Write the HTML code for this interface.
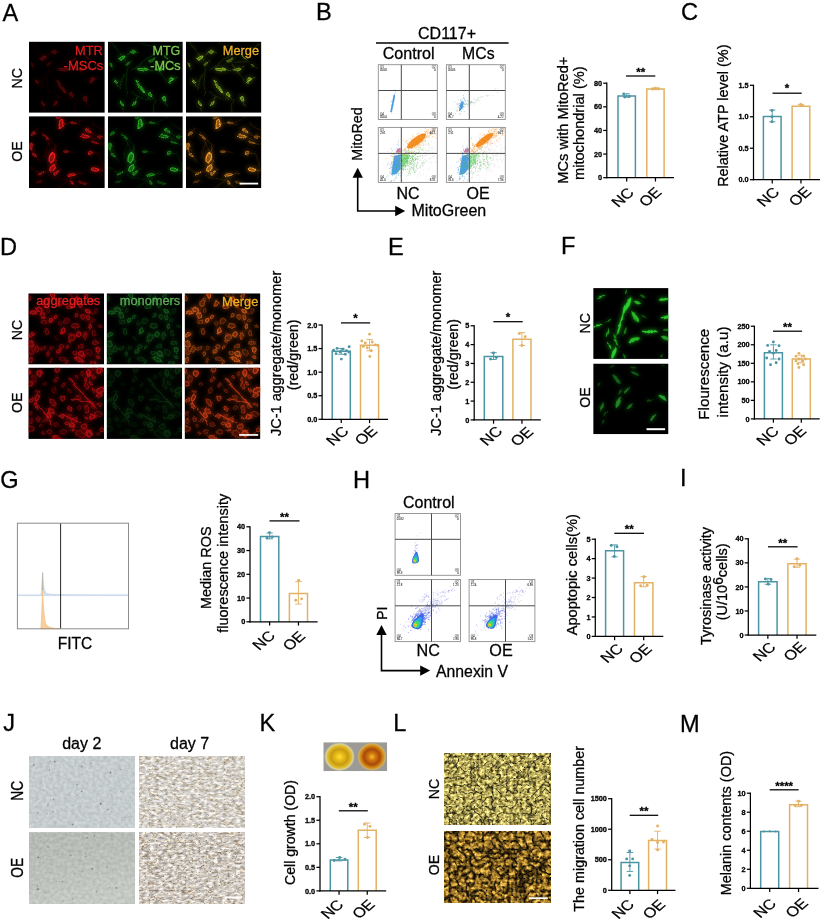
<!DOCTYPE html>
<html lang="en"><head><meta charset="utf-8"><title>Figure</title>
<style>html,body{margin:0;padding:0;background:#fff;overflow:hidden}svg{display:block}text{font-family:"Liberation Sans",Arial,sans-serif;stroke:#000;stroke-width:.28px}</style></head>
<body>
<svg width="825" height="924" viewBox="0 0 825 924" font-family="'Liberation Sans', Arial, sans-serif">
<defs>
<filter id="b0" x="-20%" y="-20%" width="140%" height="140%"><feGaussianBlur stdDeviation="0.35"/></filter>
<filter id="b1" x="-20%" y="-20%" width="140%" height="140%"><feGaussianBlur stdDeviation="0.6"/></filter>
<filter id="b2" x="-20%" y="-20%" width="140%" height="140%"><feGaussianBlur stdDeviation="1.1"/></filter>
</defs>
<rect width="825" height="924" fill="#fff"/>
<defs><filter id="cf0" x="0" y="0" width="100%" height="100%" filterUnits="userSpaceOnUse" primitiveUnits="userSpaceOnUse"><feTurbulence type="fractalNoise" baseFrequency="0.05" numOctaves="2" seed="4" result="t"/><feDisplacementMap in="SourceGraphic" in2="t" scale="9" xChannelSelector="R" yChannelSelector="G"/><feGaussianBlur stdDeviation="0.5"/></filter><filter id="cf1" x="0" y="0" width="100%" height="100%" filterUnits="userSpaceOnUse" primitiveUnits="userSpaceOnUse"><feTurbulence type="fractalNoise" baseFrequency="0.05" numOctaves="2" seed="4" result="t"/><feDisplacementMap in="SourceGraphic" in2="t" scale="9" xChannelSelector="R" yChannelSelector="G"/><feGaussianBlur stdDeviation="1.0"/></filter><filter id="cf2" x="0" y="0" width="100%" height="100%" filterUnits="userSpaceOnUse" primitiveUnits="userSpaceOnUse"><feTurbulence type="fractalNoise" baseFrequency="0.05" numOctaves="2" seed="4" result="t"/><feDisplacementMap in="SourceGraphic" in2="t" scale="9" xChannelSelector="R" yChannelSelector="G"/><feMorphology operator="dilate" radius="0.5"/><feGaussianBlur stdDeviation="2.0"/></filter><filter id="cg0" x="0" y="0" width="100%" height="100%" filterUnits="userSpaceOnUse" primitiveUnits="userSpaceOnUse"><feTurbulence type="fractalNoise" baseFrequency="0.05" numOctaves="2" seed="9" result="t"/><feDisplacementMap in="SourceGraphic" in2="t" scale="7" xChannelSelector="R" yChannelSelector="G"/><feGaussianBlur stdDeviation="0.5"/></filter><filter id="cg1" x="0" y="0" width="100%" height="100%" filterUnits="userSpaceOnUse" primitiveUnits="userSpaceOnUse"><feTurbulence type="fractalNoise" baseFrequency="0.05" numOctaves="2" seed="9" result="t"/><feDisplacementMap in="SourceGraphic" in2="t" scale="7" xChannelSelector="R" yChannelSelector="G"/><feGaussianBlur stdDeviation="1.0"/></filter><filter id="cg2" x="0" y="0" width="100%" height="100%" filterUnits="userSpaceOnUse" primitiveUnits="userSpaceOnUse"><feTurbulence type="fractalNoise" baseFrequency="0.05" numOctaves="2" seed="9" result="t"/><feDisplacementMap in="SourceGraphic" in2="t" scale="7" xChannelSelector="R" yChannelSelector="G"/><feMorphology operator="dilate" radius="0.5"/><feGaussianBlur stdDeviation="2.0"/></filter></defs>
<defs><g id="a1"><ellipse transform="translate(14.0,15.5) rotate(-30)" rx="3.5" ry="1.2" fill="currentColor" fill-opacity="0.27" stroke="currentColor" stroke-opacity="0.90" stroke-width="0.7"/><path transform="translate(18.2,13.1) rotate(-34)" d="M-4.2,0 H4.2" stroke="currentColor" stroke-opacity="0.41" stroke-width="0.5" stroke-linecap="round"/><ellipse transform="translate(24.6,10.7) rotate(20)" rx="2.1" ry="0.9" fill="currentColor" fill-opacity="0.21" stroke="currentColor" stroke-opacity="0.70" stroke-width="0.7"/><path transform="translate(27.4,11.7) rotate(13)" d="M-2.5,0 H2.5" stroke="currentColor" stroke-opacity="0.32" stroke-width="0.5" stroke-linecap="round"/><ellipse transform="translate(35.3,27.2) rotate(10)" rx="4.9" ry="1.1" fill="currentColor" fill-opacity="0.27" stroke="currentColor" stroke-opacity="0.90" stroke-width="0.7"/><path transform="translate(42.1,28.3) rotate(13)" d="M-5.9,0 H5.9" stroke="currentColor" stroke-opacity="0.41" stroke-width="0.5" stroke-linecap="round"/><ellipse transform="translate(50.8,28.1) rotate(-15)" rx="3.1" ry="1.2" fill="currentColor" fill-opacity="0.24" stroke="currentColor" stroke-opacity="0.80" stroke-width="0.7"/><path transform="translate(55.1,27.0) rotate(-24)" d="M-3.8,0 H3.8" stroke="currentColor" stroke-opacity="0.36" stroke-width="0.5" stroke-linecap="round"/><ellipse transform="translate(8.1,42.7) rotate(80)" rx="2.1" ry="1.5" fill="currentColor" fill-opacity="0.26" stroke="currentColor" stroke-opacity="0.85" stroke-width="0.8"/><path transform="translate(8.7,45.6) rotate(81)" d="M-2.5,0 H2.5" stroke="currentColor" stroke-opacity="0.38" stroke-width="0.5" stroke-linecap="round"/><ellipse transform="translate(32.4,42.7) rotate(55)" rx="7.7" ry="0.7" fill="currentColor" fill-opacity="0.24" stroke="currentColor" stroke-opacity="0.80" stroke-width="0.7"/><path transform="translate(38.6,51.5) rotate(52)" d="M-9.2,0 H9.2" stroke="currentColor" stroke-opacity="0.36" stroke-width="0.5" stroke-linecap="round"/><ellipse transform="translate(64.4,38.8) rotate(-10)" rx="3.1" ry="1.5" fill="currentColor" fill-opacity="0.30" stroke="currentColor" stroke-opacity="1.00" stroke-width="0.8"/><path transform="translate(68.7,38.0) rotate(-19)" d="M-3.8,0 H3.8" stroke="currentColor" stroke-opacity="0.45" stroke-width="0.5" stroke-linecap="round"/><ellipse transform="translate(43.1,51.4) rotate(60)" rx="3.1" ry="1.1" fill="currentColor" fill-opacity="0.24" stroke="currentColor" stroke-opacity="0.80" stroke-width="0.7"/><path transform="translate(45.3,55.2) rotate(60)" d="M-3.8,0 H3.8" stroke="currentColor" stroke-opacity="0.36" stroke-width="0.5" stroke-linecap="round"/><ellipse transform="translate(56.6,57.2) rotate(80)" rx="2.8" ry="1.1" fill="currentColor" fill-opacity="0.26" stroke="currentColor" stroke-opacity="0.85" stroke-width="0.7"/><path transform="translate(57.3,61.1) rotate(71)" d="M-3.4,0 H3.4" stroke="currentColor" stroke-opacity="0.38" stroke-width="0.5" stroke-linecap="round"/><ellipse transform="translate(13.0,63.0) rotate(70)" rx="3.1" ry="1.1" fill="currentColor" fill-opacity="0.24" stroke="currentColor" stroke-opacity="0.80" stroke-width="0.7"/><path transform="translate(14.5,67.2) rotate(69)" d="M-3.8,0 H3.8" stroke="currentColor" stroke-opacity="0.36" stroke-width="0.5" stroke-linecap="round"/><ellipse transform="translate(26.6,61.1) rotate(-70)" rx="3.1" ry="1.1" fill="currentColor" fill-opacity="0.24" stroke="currentColor" stroke-opacity="0.80" stroke-width="0.7"/><path transform="translate(28.1,56.9) rotate(-79)" d="M-3.8,0 H3.8" stroke="currentColor" stroke-opacity="0.36" stroke-width="0.5" stroke-linecap="round"/><ellipse transform="translate(58.6,15.5) rotate(40)" rx="2.4" ry="0.9" fill="currentColor" fill-opacity="0.21" stroke="currentColor" stroke-opacity="0.70" stroke-width="0.7"/><path transform="translate(61.2,17.7) rotate(32)" d="M-2.9,0 H2.9" stroke="currentColor" stroke-opacity="0.32" stroke-width="0.5" stroke-linecap="round"/><ellipse transform="translate(19.8,22.3) rotate(-40)" rx="2.4" ry="0.8" fill="currentColor" fill-opacity="0.15" stroke="currentColor" stroke-opacity="0.50" stroke-width="0.7"/><path transform="translate(22.4,20.1) rotate(-42)" d="M-2.9,0 H2.9" stroke="currentColor" stroke-opacity="0.23" stroke-width="0.5" stroke-linecap="round"/><ellipse transform="translate(68.3,22.3) rotate(30)" rx="2.1" ry="0.9" fill="currentColor" fill-opacity="0.15" stroke="currentColor" stroke-opacity="0.50" stroke-width="0.7"/><path transform="translate(70.8,23.8) rotate(37)" d="M-2.5,0 H2.5" stroke="currentColor" stroke-opacity="0.23" stroke-width="0.5" stroke-linecap="round"/><ellipse transform="translate(2.3,24.2) rotate(70)" rx="2.1" ry="0.6" fill="currentColor" fill-opacity="0.15" stroke="currentColor" stroke-opacity="0.50" stroke-width="0.7"/><path transform="translate(3.3,27.0) rotate(62)" d="M-2.5,0 H2.5" stroke="currentColor" stroke-opacity="0.23" stroke-width="0.5" stroke-linecap="round"/><ellipse transform="translate(43.1,18.4) rotate(-20)" rx="2.8" ry="0.6" fill="currentColor" fill-opacity="0.12" stroke="currentColor" stroke-opacity="0.40" stroke-width="0.7"/><path transform="translate(46.7,17.1) rotate(-26)" d="M-3.4,0 H3.4" stroke="currentColor" stroke-opacity="0.18" stroke-width="0.5" stroke-linecap="round"/><path transform="translate(47.1,67.3) rotate(104)" d="M-9.0,0 H9.0" stroke="currentColor" stroke-opacity="0.25" stroke-width="0.5" stroke-linecap="round"/><path transform="translate(73.2,3.3) rotate(155)" d="M-7.9,0 H7.9" stroke="currentColor" stroke-opacity="0.25" stroke-width="0.5" stroke-linecap="round"/><path transform="translate(10.8,8.4) rotate(56)" d="M-13.2,0 H13.2" stroke="currentColor" stroke-opacity="0.25" stroke-width="0.5" stroke-linecap="round"/><path transform="translate(13.6,41.3) rotate(115)" d="M-8.7,0 H8.7" stroke="currentColor" stroke-opacity="0.25" stroke-width="0.5" stroke-linecap="round"/><path transform="translate(41.1,4.5) rotate(11)" d="M-7.1,0 H7.1" stroke="currentColor" stroke-opacity="0.25" stroke-width="0.5" stroke-linecap="round"/><path transform="translate(51.0,30.4) rotate(57)" d="M-10.9,0 H10.9" stroke="currentColor" stroke-opacity="0.25" stroke-width="0.5" stroke-linecap="round"/><path transform="translate(34.0,21.3) rotate(143)" d="M-12.0,0 H12.0" stroke="currentColor" stroke-opacity="0.25" stroke-width="0.5" stroke-linecap="round"/><path transform="translate(18.3,40.8) rotate(95)" d="M-13.8,0 H13.8" stroke="currentColor" stroke-opacity="0.25" stroke-width="0.5" stroke-linecap="round"/><path transform="translate(54.7,20.4) rotate(176)" d="M-6.2,0 H6.2" stroke="currentColor" stroke-opacity="0.25" stroke-width="0.5" stroke-linecap="round"/><path transform="translate(31.4,53.8) rotate(27)" d="M-9.9,0 H9.9" stroke="currentColor" stroke-opacity="0.25" stroke-width="0.5" stroke-linecap="round"/></g></defs>
<defs><g id="a2"><ellipse transform="translate(31.6,9.3) rotate(-70)" rx="4.1" ry="2.0" fill="currentColor" fill-opacity="0.30" stroke="currentColor" stroke-opacity="1.00" stroke-width="1.1"/><path transform="translate(33.6,3.9) rotate(-79)" d="M-5.4,0 H5.4" stroke="currentColor" stroke-opacity="0.40" stroke-width="0.5" stroke-linecap="round"/><ellipse transform="translate(59.7,14.2) rotate(20)" rx="3.4" ry="1.6" fill="currentColor" fill-opacity="0.24" stroke="currentColor" stroke-opacity="0.80" stroke-width="0.9"/><path transform="translate(64.2,15.8) rotate(23)" d="M-4.4,0 H4.4" stroke="currentColor" stroke-opacity="0.32" stroke-width="0.5" stroke-linecap="round"/><ellipse transform="translate(55.9,20.4) rotate(5)" rx="4.5" ry="1.5" fill="currentColor" fill-opacity="0.30" stroke="currentColor" stroke-opacity="1.00" stroke-width="0.8"/><path transform="translate(62.1,20.9) rotate(10)" d="M-5.9,0 H5.9" stroke="currentColor" stroke-opacity="0.40" stroke-width="0.5" stroke-linecap="round"/><ellipse transform="translate(42.3,7.4) rotate(0)" rx="3.0" ry="0.8" fill="currentColor" fill-opacity="0.18" stroke="currentColor" stroke-opacity="0.60" stroke-width="0.7"/><path transform="translate(46.5,7.4) rotate(1)" d="M-3.9,0 H3.9" stroke="currentColor" stroke-opacity="0.24" stroke-width="0.5" stroke-linecap="round"/><ellipse transform="translate(4.5,18.0) rotate(-50)" rx="3.0" ry="1.0" fill="currentColor" fill-opacity="0.21" stroke="currentColor" stroke-opacity="0.70" stroke-width="0.7"/><path transform="translate(7.2,14.8) rotate(-42)" d="M-3.9,0 H3.9" stroke="currentColor" stroke-opacity="0.28" stroke-width="0.5" stroke-linecap="round"/><ellipse transform="translate(16.1,20.0) rotate(40)" rx="4.5" ry="0.7" fill="currentColor" fill-opacity="0.18" stroke="currentColor" stroke-opacity="0.60" stroke-width="0.7"/><path transform="translate(20.9,24.0) rotate(36)" d="M-5.9,0 H5.9" stroke="currentColor" stroke-opacity="0.24" stroke-width="0.5" stroke-linecap="round"/><ellipse transform="translate(67.5,25.8) rotate(10)" rx="3.8" ry="1.0" fill="currentColor" fill-opacity="0.18" stroke="currentColor" stroke-opacity="0.60" stroke-width="0.7"/><path transform="translate(72.7,26.7) rotate(14)" d="M-4.9,0 H4.9" stroke="currentColor" stroke-opacity="0.24" stroke-width="0.5" stroke-linecap="round"/><ellipse transform="translate(1.9,30.6) rotate(80)" rx="3.0" ry="1.0" fill="currentColor" fill-opacity="0.24" stroke="currentColor" stroke-opacity="0.80" stroke-width="0.7"/><path transform="translate(2.7,34.8) rotate(82)" d="M-3.9,0 H3.9" stroke="currentColor" stroke-opacity="0.32" stroke-width="0.5" stroke-linecap="round"/><ellipse transform="translate(5.4,40.9) rotate(60)" rx="3.0" ry="1.3" fill="currentColor" fill-opacity="0.24" stroke="currentColor" stroke-opacity="0.80" stroke-width="0.7"/><path transform="translate(7.5,44.6) rotate(62)" d="M-3.9,0 H3.9" stroke="currentColor" stroke-opacity="0.32" stroke-width="0.5" stroke-linecap="round"/><ellipse transform="translate(22.9,40.9) rotate(-70)" rx="4.9" ry="2.3" fill="currentColor" fill-opacity="0.30" stroke="currentColor" stroke-opacity="1.00" stroke-width="1.3"/><path transform="translate(25.2,34.5) rotate(-71)" d="M-6.3,0 H6.3" stroke="currentColor" stroke-opacity="0.40" stroke-width="0.5" stroke-linecap="round"/><ellipse transform="translate(61.7,37.4) rotate(5)" rx="3.4" ry="1.3" fill="currentColor" fill-opacity="0.24" stroke="currentColor" stroke-opacity="0.80" stroke-width="0.7"/><path transform="translate(66.4,37.8) rotate(12)" d="M-4.4,0 H4.4" stroke="currentColor" stroke-opacity="0.32" stroke-width="0.5" stroke-linecap="round"/><ellipse transform="translate(37.4,35.5) rotate(0)" rx="3.0" ry="0.8" fill="currentColor" fill-opacity="0.18" stroke="currentColor" stroke-opacity="0.60" stroke-width="0.7"/><path transform="translate(41.6,35.5) rotate(9)" d="M-3.9,0 H3.9" stroke="currentColor" stroke-opacity="0.24" stroke-width="0.5" stroke-linecap="round"/><ellipse transform="translate(22.5,51.4) rotate(-60)" rx="4.1" ry="1.8" fill="currentColor" fill-opacity="0.30" stroke="currentColor" stroke-opacity="1.00" stroke-width="1.0"/><path transform="translate(25.4,46.4) rotate(-61)" d="M-5.4,0 H5.4" stroke="currentColor" stroke-opacity="0.40" stroke-width="0.5" stroke-linecap="round"/><ellipse transform="translate(65.6,53.3) rotate(10)" rx="3.4" ry="1.6" fill="currentColor" fill-opacity="0.30" stroke="currentColor" stroke-opacity="1.00" stroke-width="0.9"/><path transform="translate(70.2,54.2) rotate(13)" d="M-4.4,0 H4.4" stroke="currentColor" stroke-opacity="0.40" stroke-width="0.5" stroke-linecap="round"/><ellipse transform="translate(11.2,57.8) rotate(-20)" rx="3.0" ry="1.0" fill="currentColor" fill-opacity="0.21" stroke="currentColor" stroke-opacity="0.70" stroke-width="0.7"/><path transform="translate(15.2,56.4) rotate(-29)" d="M-3.9,0 H3.9" stroke="currentColor" stroke-opacity="0.28" stroke-width="0.5" stroke-linecap="round"/><ellipse transform="translate(43.3,59.2) rotate(-5)" rx="4.5" ry="1.5" fill="currentColor" fill-opacity="0.30" stroke="currentColor" stroke-opacity="1.00" stroke-width="0.8"/><path transform="translate(49.5,58.6) rotate(-1)" d="M-5.9,0 H5.9" stroke="currentColor" stroke-opacity="0.40" stroke-width="0.5" stroke-linecap="round"/><ellipse transform="translate(43.3,67.9) rotate(50)" rx="2.6" ry="1.1" fill="currentColor" fill-opacity="0.24" stroke="currentColor" stroke-opacity="0.80" stroke-width="0.7"/><path transform="translate(45.6,70.7) rotate(53)" d="M-3.4,0 H3.4" stroke="currentColor" stroke-opacity="0.32" stroke-width="0.5" stroke-linecap="round"/><ellipse transform="translate(28.7,3.5) rotate(-10)" rx="2.6" ry="1.0" fill="currentColor" fill-opacity="0.18" stroke="currentColor" stroke-opacity="0.60" stroke-width="0.7"/><path transform="translate(32.3,2.9) rotate(-0)" d="M-3.4,0 H3.4" stroke="currentColor" stroke-opacity="0.24" stroke-width="0.5" stroke-linecap="round"/><ellipse transform="translate(72.3,19.0) rotate(20)" rx="2.2" ry="1.0" fill="currentColor" fill-opacity="0.18" stroke="currentColor" stroke-opacity="0.60" stroke-width="0.7"/><path transform="translate(75.3,20.1) rotate(26)" d="M-2.9,0 H2.9" stroke="currentColor" stroke-opacity="0.24" stroke-width="0.5" stroke-linecap="round"/><ellipse transform="translate(26.8,54.9) rotate(-50)" rx="2.6" ry="1.3" fill="currentColor" fill-opacity="0.27" stroke="currentColor" stroke-opacity="0.90" stroke-width="0.7"/><path transform="translate(29.1,52.1) rotate(-54)" d="M-3.4,0 H3.4" stroke="currentColor" stroke-opacity="0.36" stroke-width="0.5" stroke-linecap="round"/><ellipse transform="translate(52.9,67.5) rotate(0)" rx="3.0" ry="0.7" fill="currentColor" fill-opacity="0.12" stroke="currentColor" stroke-opacity="0.40" stroke-width="0.7"/><path transform="translate(57.1,67.5) rotate(-2)" d="M-3.9,0 H3.9" stroke="currentColor" stroke-opacity="0.16" stroke-width="0.5" stroke-linecap="round"/><ellipse transform="translate(9.3,66.5) rotate(0)" rx="3.0" ry="0.7" fill="currentColor" fill-opacity="0.09" stroke="currentColor" stroke-opacity="0.30" stroke-width="0.7"/><path transform="translate(13.5,66.5) rotate(3)" d="M-3.9,0 H3.9" stroke="currentColor" stroke-opacity="0.12" stroke-width="0.5" stroke-linecap="round"/><path transform="translate(1.7,32.8) rotate(30)" d="M-6.5,0 H6.5" stroke="currentColor" stroke-opacity="0.22" stroke-width="0.5" stroke-linecap="round"/><path transform="translate(4.4,54.5) rotate(23)" d="M-8.1,0 H8.1" stroke="currentColor" stroke-opacity="0.22" stroke-width="0.5" stroke-linecap="round"/><path transform="translate(29.3,61.9) rotate(15)" d="M-10.6,0 H10.6" stroke="currentColor" stroke-opacity="0.22" stroke-width="0.5" stroke-linecap="round"/><path transform="translate(41.2,62.7) rotate(147)" d="M-15.8,0 H15.8" stroke="currentColor" stroke-opacity="0.22" stroke-width="0.5" stroke-linecap="round"/><path transform="translate(20.9,29.5) rotate(65)" d="M-16.1,0 H16.1" stroke="currentColor" stroke-opacity="0.22" stroke-width="0.5" stroke-linecap="round"/><path transform="translate(71.8,10.7) rotate(32)" d="M-7.9,0 H7.9" stroke="currentColor" stroke-opacity="0.22" stroke-width="0.5" stroke-linecap="round"/><path transform="translate(17.5,34.4) rotate(106)" d="M-8.3,0 H8.3" stroke="currentColor" stroke-opacity="0.22" stroke-width="0.5" stroke-linecap="round"/><path transform="translate(0.3,29.7) rotate(66)" d="M-12.1,0 H12.1" stroke="currentColor" stroke-opacity="0.22" stroke-width="0.5" stroke-linecap="round"/><path transform="translate(71.5,49.0) rotate(93)" d="M-12.7,0 H12.7" stroke="currentColor" stroke-opacity="0.22" stroke-width="0.5" stroke-linecap="round"/><path transform="translate(50.7,3.8) rotate(162)" d="M-14.7,0 H14.7" stroke="currentColor" stroke-opacity="0.22" stroke-width="0.5" stroke-linecap="round"/></g></defs>
<svg x="29.00" y="41.60" width="75.80" height="71.20" viewBox="0 0 75.80 71.20">
<rect width="75.80" height="71.20" fill="#000"/>
<use href="#a1" color="#e01818" opacity="0.20" filter="url(#cf2)"/>
<use href="#a1" color="#e01818" opacity="0.50" filter="url(#cf0)"/>
</svg>
<svg x="107.90" y="41.60" width="74.90" height="71.20" viewBox="0 0 74.90 71.20">
<rect width="74.90" height="71.20" fill="#000"/>
<use href="#a1" color="#35d82a" opacity="0.40" filter="url(#cf2)"/>
<use href="#a1" color="#35d82a" opacity="1.00" filter="url(#cf0)"/>
</svg>
<svg x="185.90" y="41.60" width="75.50" height="71.20" viewBox="0 0 75.50 71.20">
<rect width="75.50" height="71.20" fill="#000"/>
<use href="#a1" color="#a8dc30" opacity="0.40" filter="url(#cf2)"/>
<use href="#a1" color="#a8dc30" opacity="1.00" filter="url(#cf0)"/>
</svg>
<svg x="29.00" y="116.20" width="75.80" height="71.80" viewBox="0 0 75.80 71.80">
<rect width="75.80" height="71.80" fill="#000"/>
<use href="#a2" color="#f41c1c" opacity="0.40" filter="url(#cf2)"/>
<use href="#a2" color="#f41c1c" opacity="1.00" filter="url(#cf0)"/>
</svg>
<svg x="107.90" y="116.20" width="74.90" height="71.80" viewBox="0 0 74.90 71.80">
<rect width="74.90" height="71.80" fill="#000"/>
<use href="#a2" color="#2fca2c" opacity="0.34" filter="url(#cf2)"/>
<use href="#a2" color="#2fca2c" opacity="0.85" filter="url(#cf0)"/>
</svg>
<svg x="185.90" y="116.20" width="75.50" height="71.80" viewBox="0 0 75.50 71.80">
<rect width="75.50" height="71.80" fill="#000"/>
<use href="#a2" color="#f49a28" opacity="0.40" filter="url(#cf2)"/>
<use href="#a2" color="#f49a28" opacity="1.00" filter="url(#cf0)"/>
</svg>
<text x="75.00" y="54.60" font-size="12.80" fill="#e01c1c" style="stroke:#e01c1c">MTR</text>
<text x="63.60" y="70.20" font-size="13.00" fill="#e01c1c" style="stroke:#e01c1c">-MSCs</text>
<text x="152.40" y="54.60" font-size="12.60" fill="#7ec850" style="stroke:#7ec850">MTG</text>
<text x="150.30" y="70.20" font-size="12.70" fill="#7ec850" style="stroke:#7ec850">-MCs</text>
<text x="222.80" y="55.40" font-size="12.80" fill="#f0b428" style="stroke:#f0b428">Merge</text>
<rect x="239.60" y="182.70" width="18.60" height="1.80" fill="#fff" stroke="none" stroke-width="1.0"/>
<defs><g id="d1"><ellipse transform="translate(18.5,38.6) rotate(85)" rx="2.5" ry="1.8" fill="currentColor" fill-opacity="0.14" stroke="currentColor" stroke-opacity="0.46" stroke-width="1.0"/><ellipse transform="translate(28.2,42.7) rotate(22)" rx="1.8" ry="1.2" fill="currentColor" fill-opacity="0.09" stroke="currentColor" stroke-opacity="0.30" stroke-width="0.7"/><path transform="translate(28.2,42.7) rotate(22)" d="M-4.0,0 H4.0" stroke="currentColor" stroke-opacity="0.12" stroke-width="0.8" stroke-linecap="round"/><ellipse transform="translate(47.0,5.5) rotate(90)" rx="3.0" ry="1.9" fill="currentColor" fill-opacity="0.27" stroke="currentColor" stroke-opacity="0.88" stroke-width="1.1"/><path transform="translate(47.0,5.5) rotate(90)" d="M-6.7,0 H6.7" stroke="currentColor" stroke-opacity="0.35" stroke-width="0.8" stroke-linecap="round"/><ellipse transform="translate(2.0,58.8) rotate(106)" rx="2.3" ry="1.8" fill="currentColor" fill-opacity="0.15" stroke="currentColor" stroke-opacity="0.49" stroke-width="1.0"/><path transform="translate(2.0,58.8) rotate(106)" d="M-5.0,0 H5.0" stroke="currentColor" stroke-opacity="0.20" stroke-width="0.8" stroke-linecap="round"/><ellipse transform="translate(20.1,17.2) rotate(100)" rx="2.2" ry="1.4" fill="currentColor" fill-opacity="0.12" stroke="currentColor" stroke-opacity="0.41" stroke-width="0.8"/><ellipse transform="translate(74.2,33.4) rotate(67)" rx="1.9" ry="1.2" fill="currentColor" fill-opacity="0.16" stroke="currentColor" stroke-opacity="0.53" stroke-width="0.7"/><ellipse transform="translate(62.5,33.9) rotate(112)" rx="2.3" ry="1.9" fill="currentColor" fill-opacity="0.23" stroke="currentColor" stroke-opacity="0.77" stroke-width="1.1"/><path transform="translate(62.5,33.9) rotate(112)" d="M-5.1,0 H5.1" stroke="currentColor" stroke-opacity="0.31" stroke-width="0.8" stroke-linecap="round"/><ellipse transform="translate(47.7,60.9) rotate(76)" rx="2.5" ry="2.0" fill="currentColor" fill-opacity="0.16" stroke="currentColor" stroke-opacity="0.52" stroke-width="1.1"/><ellipse transform="translate(39.5,52.1) rotate(125)" rx="2.1" ry="1.6" fill="currentColor" fill-opacity="0.17" stroke="currentColor" stroke-opacity="0.58" stroke-width="0.9"/><path transform="translate(39.5,52.1) rotate(125)" d="M-4.7,0 H4.7" stroke="currentColor" stroke-opacity="0.23" stroke-width="0.8" stroke-linecap="round"/><ellipse transform="translate(56.7,41.8) rotate(169)" rx="2.4" ry="2.1" fill="currentColor" fill-opacity="0.17" stroke="currentColor" stroke-opacity="0.55" stroke-width="1.2"/><path transform="translate(56.7,41.8) rotate(169)" d="M-5.3,0 H5.3" stroke="currentColor" stroke-opacity="0.22" stroke-width="0.8" stroke-linecap="round"/><ellipse transform="translate(23.1,3.1) rotate(84)" rx="2.9" ry="2.0" fill="currentColor" fill-opacity="0.25" stroke="currentColor" stroke-opacity="0.84" stroke-width="1.1"/><path transform="translate(23.1,3.1) rotate(84)" d="M-6.5,0 H6.5" stroke="currentColor" stroke-opacity="0.34" stroke-width="0.8" stroke-linecap="round"/><ellipse transform="translate(53.8,61.6) rotate(143)" rx="2.7" ry="2.4" fill="currentColor" fill-opacity="0.24" stroke="currentColor" stroke-opacity="0.79" stroke-width="1.3"/><ellipse transform="translate(30.0,56.3) rotate(106)" rx="2.6" ry="1.6" fill="currentColor" fill-opacity="0.22" stroke="currentColor" stroke-opacity="0.74" stroke-width="0.9"/><path transform="translate(30.0,56.3) rotate(106)" d="M-5.7,0 H5.7" stroke="currentColor" stroke-opacity="0.30" stroke-width="0.8" stroke-linecap="round"/><ellipse transform="translate(33.7,65.6) rotate(17)" rx="2.9" ry="1.8" fill="currentColor" fill-opacity="0.12" stroke="currentColor" stroke-opacity="0.39" stroke-width="1.0"/><path transform="translate(33.7,65.6) rotate(17)" d="M-6.4,0 H6.4" stroke="currentColor" stroke-opacity="0.15" stroke-width="0.8" stroke-linecap="round"/><ellipse transform="translate(65.6,7.7) rotate(151)" rx="2.0" ry="1.2" fill="currentColor" fill-opacity="0.25" stroke="currentColor" stroke-opacity="0.83" stroke-width="0.7"/><path transform="translate(65.6,7.7) rotate(151)" d="M-4.4,0 H4.4" stroke="currentColor" stroke-opacity="0.33" stroke-width="0.8" stroke-linecap="round"/><ellipse transform="translate(11.0,16.0) rotate(171)" rx="2.8" ry="2.3" fill="currentColor" fill-opacity="0.24" stroke="currentColor" stroke-opacity="0.81" stroke-width="1.3"/><ellipse transform="translate(47.1,21.8) rotate(92)" rx="1.8" ry="1.5" fill="currentColor" fill-opacity="0.23" stroke="currentColor" stroke-opacity="0.78" stroke-width="0.8"/><ellipse transform="translate(38.3,27.6) rotate(11)" rx="2.9" ry="2.5" fill="currentColor" fill-opacity="0.11" stroke="currentColor" stroke-opacity="0.36" stroke-width="1.4"/><path transform="translate(38.3,27.6) rotate(11)" d="M-6.3,0 H6.3" stroke="currentColor" stroke-opacity="0.15" stroke-width="0.8" stroke-linecap="round"/><ellipse transform="translate(63.9,69.4) rotate(32)" rx="3.0" ry="2.0" fill="currentColor" fill-opacity="0.19" stroke="currentColor" stroke-opacity="0.64" stroke-width="1.1"/><path transform="translate(63.9,69.4) rotate(32)" d="M-6.6,0 H6.6" stroke="currentColor" stroke-opacity="0.26" stroke-width="0.8" stroke-linecap="round"/><ellipse transform="translate(50.3,12.3) rotate(66)" rx="2.9" ry="2.1" fill="currentColor" fill-opacity="0.20" stroke="currentColor" stroke-opacity="0.67" stroke-width="1.2"/><path transform="translate(50.3,12.3) rotate(66)" d="M-6.3,0 H6.3" stroke="currentColor" stroke-opacity="0.27" stroke-width="0.8" stroke-linecap="round"/><ellipse transform="translate(67.5,40.3) rotate(90)" rx="2.4" ry="1.5" fill="currentColor" fill-opacity="0.15" stroke="currentColor" stroke-opacity="0.51" stroke-width="0.8"/><ellipse transform="translate(7.5,56.2) rotate(124)" rx="2.9" ry="1.9" fill="currentColor" fill-opacity="0.16" stroke="currentColor" stroke-opacity="0.55" stroke-width="1.0"/><ellipse transform="translate(31.2,11.4) rotate(116)" rx="2.5" ry="1.9" fill="currentColor" fill-opacity="0.21" stroke="currentColor" stroke-opacity="0.70" stroke-width="1.1"/><ellipse transform="translate(22.6,54.0) rotate(165)" rx="1.9" ry="1.6" fill="currentColor" fill-opacity="0.12" stroke="currentColor" stroke-opacity="0.39" stroke-width="0.9"/><ellipse transform="translate(53.8,23.8) rotate(48)" rx="2.8" ry="1.9" fill="currentColor" fill-opacity="0.17" stroke="currentColor" stroke-opacity="0.57" stroke-width="1.0"/><path transform="translate(53.8,23.8) rotate(48)" d="M-6.2,0 H6.2" stroke="currentColor" stroke-opacity="0.23" stroke-width="0.8" stroke-linecap="round"/><ellipse transform="translate(38.1,69.9) rotate(124)" rx="2.2" ry="1.5" fill="currentColor" fill-opacity="0.20" stroke="currentColor" stroke-opacity="0.65" stroke-width="0.8"/><ellipse transform="translate(15.5,29.1) rotate(154)" rx="2.8" ry="2.0" fill="currentColor" fill-opacity="0.14" stroke="currentColor" stroke-opacity="0.48" stroke-width="1.1"/><ellipse transform="translate(24.1,67.1) rotate(86)" rx="2.1" ry="1.3" fill="currentColor" fill-opacity="0.14" stroke="currentColor" stroke-opacity="0.46" stroke-width="0.7"/><path transform="translate(24.1,67.1) rotate(86)" d="M-4.6,0 H4.6" stroke="currentColor" stroke-opacity="0.18" stroke-width="0.8" stroke-linecap="round"/><ellipse transform="translate(66.9,27.1) rotate(139)" rx="2.3" ry="1.6" fill="currentColor" fill-opacity="0.12" stroke="currentColor" stroke-opacity="0.40" stroke-width="0.9"/><path transform="translate(66.9,27.1) rotate(139)" d="M-5.0,0 H5.0" stroke="currentColor" stroke-opacity="0.16" stroke-width="0.8" stroke-linecap="round"/><ellipse transform="translate(34.8,36.9) rotate(84)" rx="2.5" ry="1.9" fill="currentColor" fill-opacity="0.27" stroke="currentColor" stroke-opacity="0.89" stroke-width="1.1"/><ellipse transform="translate(48.3,42.1) rotate(130)" rx="2.6" ry="1.9" fill="currentColor" fill-opacity="0.24" stroke="currentColor" stroke-opacity="0.79" stroke-width="1.1"/><ellipse transform="translate(42.1,43.8) rotate(84)" rx="2.9" ry="2.5" fill="currentColor" fill-opacity="0.16" stroke="currentColor" stroke-opacity="0.54" stroke-width="1.4"/><path transform="translate(42.1,43.8) rotate(84)" d="M-6.3,0 H6.3" stroke="currentColor" stroke-opacity="0.22" stroke-width="0.8" stroke-linecap="round"/><ellipse transform="translate(32.7,50.7) rotate(173)" rx="2.8" ry="2.3" fill="currentColor" fill-opacity="0.13" stroke="currentColor" stroke-opacity="0.44" stroke-width="1.3"/><ellipse transform="translate(41.3,1.8) rotate(34)" rx="2.0" ry="1.4" fill="currentColor" fill-opacity="0.13" stroke="currentColor" stroke-opacity="0.45" stroke-width="0.8"/><ellipse transform="translate(2.5,43.5) rotate(156)" rx="3.1" ry="2.1" fill="currentColor" fill-opacity="0.24" stroke="currentColor" stroke-opacity="0.82" stroke-width="1.2"/><path transform="translate(2.5,43.5) rotate(156)" d="M-6.8,0 H6.8" stroke="currentColor" stroke-opacity="0.33" stroke-width="0.8" stroke-linecap="round"/><ellipse transform="translate(47.1,33.2) rotate(17)" rx="2.8" ry="1.8" fill="currentColor" fill-opacity="0.17" stroke="currentColor" stroke-opacity="0.55" stroke-width="1.0"/><ellipse transform="translate(53.0,51.9) rotate(122)" rx="2.3" ry="1.8" fill="currentColor" fill-opacity="0.14" stroke="currentColor" stroke-opacity="0.48" stroke-width="1.0"/><path transform="translate(53.0,51.9) rotate(122)" d="M-5.0,0 H5.0" stroke="currentColor" stroke-opacity="0.19" stroke-width="0.8" stroke-linecap="round"/><ellipse transform="translate(2.6,5.2) rotate(38)" rx="2.4" ry="1.8" fill="currentColor" fill-opacity="0.15" stroke="currentColor" stroke-opacity="0.50" stroke-width="1.0"/><ellipse transform="translate(50.7,67.5) rotate(21)" rx="2.3" ry="1.8" fill="currentColor" fill-opacity="0.26" stroke="currentColor" stroke-opacity="0.87" stroke-width="1.0"/><path transform="translate(50.7,67.5) rotate(21)" d="M-5.1,0 H5.1" stroke="currentColor" stroke-opacity="0.35" stroke-width="0.8" stroke-linecap="round"/><ellipse transform="translate(27.8,22.6) rotate(164)" rx="1.9" ry="1.7" fill="currentColor" fill-opacity="0.21" stroke="currentColor" stroke-opacity="0.70" stroke-width="0.9"/><path transform="translate(27.8,22.6) rotate(164)" d="M-4.2,0 H4.2" stroke="currentColor" stroke-opacity="0.28" stroke-width="0.8" stroke-linecap="round"/><ellipse transform="translate(23.1,27.0) rotate(136)" rx="2.3" ry="1.9" fill="currentColor" fill-opacity="0.26" stroke="currentColor" stroke-opacity="0.86" stroke-width="1.1"/><path transform="translate(23.1,27.0) rotate(136)" d="M-5.1,0 H5.1" stroke="currentColor" stroke-opacity="0.35" stroke-width="0.8" stroke-linecap="round"/><ellipse transform="translate(57.8,2.9) rotate(48)" rx="2.7" ry="2.3" fill="currentColor" fill-opacity="0.21" stroke="currentColor" stroke-opacity="0.71" stroke-width="1.3"/><ellipse transform="translate(60.1,17.5) rotate(20)" rx="2.8" ry="2.1" fill="currentColor" fill-opacity="0.26" stroke="currentColor" stroke-opacity="0.88" stroke-width="1.2"/><path transform="translate(60.1,17.5) rotate(20)" d="M-6.1,0 H6.1" stroke="currentColor" stroke-opacity="0.35" stroke-width="0.8" stroke-linecap="round"/><ellipse transform="translate(17.5,9.3) rotate(102)" rx="2.8" ry="2.3" fill="currentColor" fill-opacity="0.15" stroke="currentColor" stroke-opacity="0.51" stroke-width="1.3"/><path transform="translate(17.5,9.3) rotate(102)" d="M-6.2,0 H6.2" stroke="currentColor" stroke-opacity="0.20" stroke-width="0.8" stroke-linecap="round"/><ellipse transform="translate(39.9,14.2) rotate(160)" rx="2.7" ry="1.8" fill="currentColor" fill-opacity="0.21" stroke="currentColor" stroke-opacity="0.69" stroke-width="1.0"/><ellipse transform="translate(60.3,58.9) rotate(60)" rx="3.1" ry="2.0" fill="currentColor" fill-opacity="0.11" stroke="currentColor" stroke-opacity="0.37" stroke-width="1.1"/><ellipse transform="translate(60.3,24.8) rotate(82)" rx="2.6" ry="2.1" fill="currentColor" fill-opacity="0.20" stroke="currentColor" stroke-opacity="0.66" stroke-width="1.1"/><path transform="translate(60.3,24.8) rotate(82)" d="M-5.7,0 H5.7" stroke="currentColor" stroke-opacity="0.26" stroke-width="0.8" stroke-linecap="round"/><ellipse transform="translate(31.9,29.3) rotate(136)" rx="1.9" ry="1.5" fill="currentColor" fill-opacity="0.12" stroke="currentColor" stroke-opacity="0.41" stroke-width="0.8"/><ellipse transform="translate(1.3,66.1) rotate(69)" rx="2.3" ry="1.6" fill="currentColor" fill-opacity="0.22" stroke="currentColor" stroke-opacity="0.74" stroke-width="0.9"/><ellipse transform="translate(69.2,16.3) rotate(138)" rx="2.5" ry="1.7" fill="currentColor" fill-opacity="0.10" stroke="currentColor" stroke-opacity="0.33" stroke-width="0.9"/><path transform="translate(69.2,16.3) rotate(138)" d="M-5.5,0 H5.5" stroke="currentColor" stroke-opacity="0.13" stroke-width="0.8" stroke-linecap="round"/><ellipse transform="translate(67.4,48.9) rotate(139)" rx="2.4" ry="1.8" fill="currentColor" fill-opacity="0.15" stroke="currentColor" stroke-opacity="0.50" stroke-width="1.0"/><path transform="translate(67.4,48.9) rotate(139)" d="M-5.2,0 H5.2" stroke="currentColor" stroke-opacity="0.20" stroke-width="0.8" stroke-linecap="round"/><ellipse transform="translate(68.9,62.9) rotate(18)" rx="1.9" ry="1.3" fill="currentColor" fill-opacity="0.24" stroke="currentColor" stroke-opacity="0.81" stroke-width="0.7"/><path transform="translate(68.9,62.9) rotate(18)" d="M-4.2,0 H4.2" stroke="currentColor" stroke-opacity="0.32" stroke-width="0.8" stroke-linecap="round"/><ellipse transform="translate(2.0,52.4) rotate(34)" rx="2.8" ry="1.9" fill="currentColor" fill-opacity="0.23" stroke="currentColor" stroke-opacity="0.77" stroke-width="1.0"/><path transform="translate(2.0,52.4) rotate(34)" d="M-6.3,0 H6.3" stroke="currentColor" stroke-opacity="0.31" stroke-width="0.8" stroke-linecap="round"/><ellipse transform="translate(13.6,21.7) rotate(107)" rx="3.0" ry="2.5" fill="currentColor" fill-opacity="0.22" stroke="currentColor" stroke-opacity="0.75" stroke-width="1.4"/><path transform="translate(13.6,21.7) rotate(107)" d="M-6.5,0 H6.5" stroke="currentColor" stroke-opacity="0.30" stroke-width="0.8" stroke-linecap="round"/><ellipse transform="translate(19.6,60.5) rotate(102)" rx="2.0" ry="1.5" fill="currentColor" fill-opacity="0.16" stroke="currentColor" stroke-opacity="0.54" stroke-width="0.9"/><path transform="translate(19.6,60.5) rotate(102)" d="M-4.5,0 H4.5" stroke="currentColor" stroke-opacity="0.22" stroke-width="0.8" stroke-linecap="round"/><ellipse transform="translate(13.6,55.6) rotate(145)" rx="2.9" ry="1.8" fill="currentColor" fill-opacity="0.14" stroke="currentColor" stroke-opacity="0.45" stroke-width="1.0"/><ellipse transform="translate(68.7,56.6) rotate(105)" rx="2.3" ry="1.8" fill="currentColor" fill-opacity="0.26" stroke="currentColor" stroke-opacity="0.87" stroke-width="1.0"/><ellipse transform="translate(4.7,19.7) rotate(155)" rx="2.8" ry="1.9" fill="currentColor" fill-opacity="0.27" stroke="currentColor" stroke-opacity="0.89" stroke-width="1.1"/><path transform="translate(4.7,19.7) rotate(155)" d="M-6.1,0 H6.1" stroke="currentColor" stroke-opacity="0.35" stroke-width="0.8" stroke-linecap="round"/></g></defs>
<defs><g id="d2"><ellipse transform="translate(46.8,52.2) rotate(119)" rx="3.0" ry="2.5" fill="currentColor" fill-opacity="0.13" stroke="currentColor" stroke-opacity="0.44" stroke-width="1.4"/><path transform="translate(46.8,52.2) rotate(119)" d="M-6.6,0 H6.6" stroke="currentColor" stroke-opacity="0.18" stroke-width="0.8" stroke-linecap="round"/><ellipse transform="translate(59.4,66.0) rotate(126)" rx="3.2" ry="2.9" fill="currentColor" fill-opacity="0.22" stroke="currentColor" stroke-opacity="0.73" stroke-width="1.6"/><path transform="translate(59.4,66.0) rotate(126)" d="M-7.1,0 H7.1" stroke="currentColor" stroke-opacity="0.29" stroke-width="0.8" stroke-linecap="round"/><ellipse transform="translate(3.1,33.1) rotate(171)" rx="2.1" ry="1.7" fill="currentColor" fill-opacity="0.24" stroke="currentColor" stroke-opacity="0.81" stroke-width="0.9"/><ellipse transform="translate(70.3,45.8) rotate(27)" rx="2.2" ry="1.9" fill="currentColor" fill-opacity="0.11" stroke="currentColor" stroke-opacity="0.38" stroke-width="1.1"/><ellipse transform="translate(67.2,8.8) rotate(8)" rx="2.0" ry="1.6" fill="currentColor" fill-opacity="0.16" stroke="currentColor" stroke-opacity="0.55" stroke-width="0.9"/><path transform="translate(67.2,8.8) rotate(8)" d="M-4.4,0 H4.4" stroke="currentColor" stroke-opacity="0.22" stroke-width="0.8" stroke-linecap="round"/><ellipse transform="translate(35.5,18.0) rotate(104)" rx="1.9" ry="1.1" fill="currentColor" fill-opacity="0.16" stroke="currentColor" stroke-opacity="0.53" stroke-width="0.7"/><ellipse transform="translate(41.0,40.6) rotate(57)" rx="2.0" ry="1.4" fill="currentColor" fill-opacity="0.25" stroke="currentColor" stroke-opacity="0.83" stroke-width="0.8"/><ellipse transform="translate(2.0,16.0) rotate(10)" rx="3.2" ry="2.2" fill="currentColor" fill-opacity="0.18" stroke="currentColor" stroke-opacity="0.59" stroke-width="1.3"/><ellipse transform="translate(21.5,64.2) rotate(164)" rx="2.7" ry="2.0" fill="currentColor" fill-opacity="0.12" stroke="currentColor" stroke-opacity="0.39" stroke-width="1.1"/><ellipse transform="translate(57.3,12.0) rotate(46)" rx="2.1" ry="1.6" fill="currentColor" fill-opacity="0.20" stroke="currentColor" stroke-opacity="0.67" stroke-width="0.9"/><ellipse transform="translate(46.4,9.7) rotate(67)" rx="2.0" ry="1.3" fill="currentColor" fill-opacity="0.18" stroke="currentColor" stroke-opacity="0.61" stroke-width="0.7"/><ellipse transform="translate(1.1,61.1) rotate(15)" rx="2.8" ry="2.2" fill="currentColor" fill-opacity="0.12" stroke="currentColor" stroke-opacity="0.41" stroke-width="1.3"/><ellipse transform="translate(16.4,15.9) rotate(43)" rx="1.9" ry="1.5" fill="currentColor" fill-opacity="0.11" stroke="currentColor" stroke-opacity="0.35" stroke-width="0.8"/><ellipse transform="translate(73.2,61.2) rotate(5)" rx="2.2" ry="1.9" fill="currentColor" fill-opacity="0.18" stroke="currentColor" stroke-opacity="0.59" stroke-width="1.0"/><ellipse transform="translate(40.6,47.8) rotate(123)" rx="2.0" ry="1.8" fill="currentColor" fill-opacity="0.10" stroke="currentColor" stroke-opacity="0.33" stroke-width="1.0"/><path transform="translate(40.6,47.8) rotate(123)" d="M-4.3,0 H4.3" stroke="currentColor" stroke-opacity="0.13" stroke-width="0.8" stroke-linecap="round"/><ellipse transform="translate(51.8,67.7) rotate(148)" rx="3.2" ry="2.6" fill="currentColor" fill-opacity="0.11" stroke="currentColor" stroke-opacity="0.37" stroke-width="1.4"/><path transform="translate(51.8,67.7) rotate(148)" d="M-7.1,0 H7.1" stroke="currentColor" stroke-opacity="0.15" stroke-width="0.8" stroke-linecap="round"/><ellipse transform="translate(66.7,21.6) rotate(60)" rx="2.3" ry="1.5" fill="currentColor" fill-opacity="0.20" stroke="currentColor" stroke-opacity="0.67" stroke-width="0.9"/><ellipse transform="translate(27.5,12.5) rotate(150)" rx="2.3" ry="1.5" fill="currentColor" fill-opacity="0.15" stroke="currentColor" stroke-opacity="0.51" stroke-width="0.8"/><ellipse transform="translate(11.7,5.5) rotate(93)" rx="2.4" ry="2.1" fill="currentColor" fill-opacity="0.23" stroke="currentColor" stroke-opacity="0.78" stroke-width="1.1"/><ellipse transform="translate(23.1,42.6) rotate(17)" rx="2.9" ry="2.1" fill="currentColor" fill-opacity="0.19" stroke="currentColor" stroke-opacity="0.64" stroke-width="1.2"/><path transform="translate(23.1,42.6) rotate(17)" d="M-6.3,0 H6.3" stroke="currentColor" stroke-opacity="0.26" stroke-width="0.8" stroke-linecap="round"/><ellipse transform="translate(1.2,47.8) rotate(87)" rx="1.8" ry="1.6" fill="currentColor" fill-opacity="0.13" stroke="currentColor" stroke-opacity="0.42" stroke-width="0.9"/><ellipse transform="translate(25.8,22.4) rotate(112)" rx="2.5" ry="2.1" fill="currentColor" fill-opacity="0.09" stroke="currentColor" stroke-opacity="0.30" stroke-width="1.2"/><path transform="translate(25.8,22.4) rotate(112)" d="M-5.4,0 H5.4" stroke="currentColor" stroke-opacity="0.12" stroke-width="0.8" stroke-linecap="round"/><ellipse transform="translate(61.2,34.2) rotate(29)" rx="1.9" ry="1.2" fill="currentColor" fill-opacity="0.17" stroke="currentColor" stroke-opacity="0.58" stroke-width="0.7"/><path transform="translate(61.2,34.2) rotate(29)" d="M-4.2,0 H4.2" stroke="currentColor" stroke-opacity="0.23" stroke-width="0.8" stroke-linecap="round"/><ellipse transform="translate(24.2,34.2) rotate(46)" rx="3.1" ry="2.0" fill="currentColor" fill-opacity="0.16" stroke="currentColor" stroke-opacity="0.53" stroke-width="1.1"/><path transform="translate(24.2,34.2) rotate(46)" d="M-6.8,0 H6.8" stroke="currentColor" stroke-opacity="0.21" stroke-width="0.8" stroke-linecap="round"/><ellipse transform="translate(52.8,4.9) rotate(87)" rx="2.2" ry="1.5" fill="currentColor" fill-opacity="0.12" stroke="currentColor" stroke-opacity="0.40" stroke-width="0.8"/><path transform="translate(52.8,4.9) rotate(87)" d="M-4.8,0 H4.8" stroke="currentColor" stroke-opacity="0.16" stroke-width="0.8" stroke-linecap="round"/><ellipse transform="translate(72.7,2.6) rotate(124)" rx="2.3" ry="2.0" fill="currentColor" fill-opacity="0.26" stroke="currentColor" stroke-opacity="0.85" stroke-width="1.1"/><ellipse transform="translate(56.1,59.3) rotate(120)" rx="3.2" ry="2.0" fill="currentColor" fill-opacity="0.17" stroke="currentColor" stroke-opacity="0.58" stroke-width="1.1"/><path transform="translate(56.1,59.3) rotate(120)" d="M-7.0,0 H7.0" stroke="currentColor" stroke-opacity="0.23" stroke-width="0.8" stroke-linecap="round"/><ellipse transform="translate(1.7,4.2) rotate(36)" rx="2.8" ry="1.8" fill="currentColor" fill-opacity="0.21" stroke="currentColor" stroke-opacity="0.70" stroke-width="1.0"/><path transform="translate(1.7,4.2) rotate(36)" d="M-6.3,0 H6.3" stroke="currentColor" stroke-opacity="0.28" stroke-width="0.8" stroke-linecap="round"/><ellipse transform="translate(14.3,66.9) rotate(175)" rx="1.9" ry="1.3" fill="currentColor" fill-opacity="0.13" stroke="currentColor" stroke-opacity="0.44" stroke-width="0.8"/><path transform="translate(14.3,66.9) rotate(175)" d="M-4.1,0 H4.1" stroke="currentColor" stroke-opacity="0.18" stroke-width="0.8" stroke-linecap="round"/><ellipse transform="translate(15.4,53.1) rotate(132)" rx="2.5" ry="1.7" fill="currentColor" fill-opacity="0.15" stroke="currentColor" stroke-opacity="0.49" stroke-width="0.9"/><ellipse transform="translate(69.3,66.0) rotate(169)" rx="2.1" ry="1.7" fill="currentColor" fill-opacity="0.12" stroke="currentColor" stroke-opacity="0.40" stroke-width="0.9"/><ellipse transform="translate(39.6,54.5) rotate(11)" rx="3.2" ry="1.9" fill="currentColor" fill-opacity="0.17" stroke="currentColor" stroke-opacity="0.56" stroke-width="1.1"/><ellipse transform="translate(8.9,52.6) rotate(178)" rx="1.8" ry="1.4" fill="currentColor" fill-opacity="0.16" stroke="currentColor" stroke-opacity="0.55" stroke-width="0.8"/><ellipse transform="translate(7.7,24.5) rotate(162)" rx="1.9" ry="1.2" fill="currentColor" fill-opacity="0.15" stroke="currentColor" stroke-opacity="0.51" stroke-width="0.7"/><path transform="translate(7.7,24.5) rotate(162)" d="M-4.2,0 H4.2" stroke="currentColor" stroke-opacity="0.20" stroke-width="0.8" stroke-linecap="round"/><ellipse transform="translate(45.9,64.3) rotate(9)" rx="1.8" ry="1.2" fill="currentColor" fill-opacity="0.26" stroke="currentColor" stroke-opacity="0.86" stroke-width="0.7"/><path transform="translate(45.9,64.3) rotate(9)" d="M-4.0,0 H4.0" stroke="currentColor" stroke-opacity="0.34" stroke-width="0.8" stroke-linecap="round"/><ellipse transform="translate(41.1,22.6) rotate(55)" rx="2.1" ry="1.5" fill="currentColor" fill-opacity="0.10" stroke="currentColor" stroke-opacity="0.34" stroke-width="0.9"/><path transform="translate(41.1,22.6) rotate(55)" d="M-4.7,0 H4.7" stroke="currentColor" stroke-opacity="0.13" stroke-width="0.8" stroke-linecap="round"/><ellipse transform="translate(6.7,11.3) rotate(92)" rx="3.2" ry="2.1" fill="currentColor" fill-opacity="0.10" stroke="currentColor" stroke-opacity="0.32" stroke-width="1.2"/><path transform="translate(6.7,11.3) rotate(92)" d="M-7.1,0 H7.1" stroke="currentColor" stroke-opacity="0.13" stroke-width="0.8" stroke-linecap="round"/><ellipse transform="translate(73.5,37.8) rotate(19)" rx="1.9" ry="1.3" fill="currentColor" fill-opacity="0.19" stroke="currentColor" stroke-opacity="0.62" stroke-width="0.7"/><ellipse transform="translate(44.7,58.0) rotate(39)" rx="2.6" ry="2.3" fill="currentColor" fill-opacity="0.26" stroke="currentColor" stroke-opacity="0.85" stroke-width="1.3"/><path transform="translate(44.7,58.0) rotate(39)" d="M-5.8,0 H5.8" stroke="currentColor" stroke-opacity="0.34" stroke-width="0.8" stroke-linecap="round"/><ellipse transform="translate(34.5,30.1) rotate(68)" rx="2.5" ry="1.9" fill="currentColor" fill-opacity="0.19" stroke="currentColor" stroke-opacity="0.62" stroke-width="1.1"/><ellipse transform="translate(8.8,31.0) rotate(81)" rx="3.1" ry="2.2" fill="currentColor" fill-opacity="0.22" stroke="currentColor" stroke-opacity="0.74" stroke-width="1.2"/><ellipse transform="translate(12.0,59.3) rotate(16)" rx="1.9" ry="1.3" fill="currentColor" fill-opacity="0.13" stroke="currentColor" stroke-opacity="0.43" stroke-width="0.7"/><ellipse transform="translate(28.7,69.2) rotate(15)" rx="2.2" ry="1.4" fill="currentColor" fill-opacity="0.24" stroke="currentColor" stroke-opacity="0.79" stroke-width="0.8"/><path transform="translate(28.7,69.2) rotate(15)" d="M-4.9,0 H4.9" stroke="currentColor" stroke-opacity="0.32" stroke-width="0.8" stroke-linecap="round"/><ellipse transform="translate(27.6,55.2) rotate(44)" rx="2.4" ry="1.8" fill="currentColor" fill-opacity="0.11" stroke="currentColor" stroke-opacity="0.35" stroke-width="1.0"/><path transform="translate(27.6,55.2) rotate(44)" d="M-5.3,0 H5.3" stroke="currentColor" stroke-opacity="0.14" stroke-width="0.8" stroke-linecap="round"/><ellipse transform="translate(58.0,48.9) rotate(51)" rx="1.8" ry="1.2" fill="currentColor" fill-opacity="0.22" stroke="currentColor" stroke-opacity="0.72" stroke-width="0.7"/><path transform="translate(58.0,48.9) rotate(51)" d="M-4.0,0 H4.0" stroke="currentColor" stroke-opacity="0.29" stroke-width="0.8" stroke-linecap="round"/><ellipse transform="translate(48.8,41.1) rotate(135)" rx="2.4" ry="1.7" fill="currentColor" fill-opacity="0.11" stroke="currentColor" stroke-opacity="0.36" stroke-width="0.9"/><ellipse transform="translate(19.4,47.3) rotate(103)" rx="2.7" ry="2.3" fill="currentColor" fill-opacity="0.25" stroke="currentColor" stroke-opacity="0.84" stroke-width="1.3"/><path transform="translate(19.4,47.3) rotate(103)" d="M-6.0,0 H6.0" stroke="currentColor" stroke-opacity="0.34" stroke-width="0.8" stroke-linecap="round"/><ellipse transform="translate(64.9,48.5) rotate(131)" rx="2.7" ry="2.4" fill="currentColor" fill-opacity="0.24" stroke="currentColor" stroke-opacity="0.79" stroke-width="1.4"/><ellipse transform="translate(58.4,41.1) rotate(23)" rx="3.0" ry="2.1" fill="currentColor" fill-opacity="0.14" stroke="currentColor" stroke-opacity="0.46" stroke-width="1.2"/><path transform="translate(58.4,41.1) rotate(23)" d="M-6.5,0 H6.5" stroke="currentColor" stroke-opacity="0.18" stroke-width="0.8" stroke-linecap="round"/><ellipse transform="translate(49.9,30.0) rotate(51)" rx="2.1" ry="1.7" fill="currentColor" fill-opacity="0.12" stroke="currentColor" stroke-opacity="0.40" stroke-width="1.0"/><path transform="translate(49.9,30.0) rotate(51)" d="M-4.7,0 H4.7" stroke="currentColor" stroke-opacity="0.16" stroke-width="0.8" stroke-linecap="round"/><ellipse transform="translate(33.4,45.9) rotate(9)" rx="2.6" ry="1.6" fill="currentColor" fill-opacity="0.23" stroke="currentColor" stroke-opacity="0.76" stroke-width="0.9"/><path transform="translate(33.4,45.9) rotate(9)" d="M-5.7,0 H5.7" stroke="currentColor" stroke-opacity="0.30" stroke-width="0.8" stroke-linecap="round"/><ellipse transform="translate(28.5,3.5) rotate(110)" rx="3.0" ry="2.7" fill="currentColor" fill-opacity="0.15" stroke="currentColor" stroke-opacity="0.51" stroke-width="1.5"/><path transform="translate(28.5,3.5) rotate(110)" d="M-6.7,0 H6.7" stroke="currentColor" stroke-opacity="0.21" stroke-width="0.8" stroke-linecap="round"/><ellipse transform="translate(66.7,1.1) rotate(2)" rx="2.3" ry="1.6" fill="currentColor" fill-opacity="0.17" stroke="currentColor" stroke-opacity="0.56" stroke-width="0.9"/><ellipse transform="translate(8.9,40.0) rotate(95)" rx="2.8" ry="1.8" fill="currentColor" fill-opacity="0.24" stroke="currentColor" stroke-opacity="0.80" stroke-width="1.0"/><path transform="translate(8.9,40.0) rotate(95)" d="M-6.2,0 H6.2" stroke="currentColor" stroke-opacity="0.32" stroke-width="0.8" stroke-linecap="round"/><ellipse transform="translate(72.5,27.2) rotate(143)" rx="2.4" ry="2.1" fill="currentColor" fill-opacity="0.22" stroke="currentColor" stroke-opacity="0.73" stroke-width="1.2"/><path transform="translate(72.5,27.2) rotate(143)" d="M-5.3,0 H5.3" stroke="currentColor" stroke-opacity="0.29" stroke-width="0.8" stroke-linecap="round"/><ellipse transform="translate(58.5,18.0) rotate(78)" rx="3.1" ry="2.3" fill="currentColor" fill-opacity="0.15" stroke="currentColor" stroke-opacity="0.49" stroke-width="1.3"/><path transform="translate(58.5,18.0) rotate(78)" d="M-6.9,0 H6.9" stroke="currentColor" stroke-opacity="0.20" stroke-width="0.8" stroke-linecap="round"/><ellipse transform="translate(73.7,21.2) rotate(175)" rx="3.2" ry="2.4" fill="currentColor" fill-opacity="0.23" stroke="currentColor" stroke-opacity="0.76" stroke-width="1.3"/><ellipse transform="translate(34.5,64.2) rotate(9)" rx="3.0" ry="2.2" fill="currentColor" fill-opacity="0.11" stroke="currentColor" stroke-opacity="0.36" stroke-width="1.2"/><ellipse transform="translate(66.3,38.6) rotate(159)" rx="2.6" ry="1.9" fill="currentColor" fill-opacity="0.10" stroke="currentColor" stroke-opacity="0.32" stroke-width="1.1"/><path transform="translate(66.3,38.6) rotate(159)" d="M-5.8,0 H5.8" stroke="currentColor" stroke-opacity="0.13" stroke-width="0.8" stroke-linecap="round"/><ellipse transform="translate(2.1,54.7) rotate(101)" rx="2.2" ry="1.4" fill="currentColor" fill-opacity="0.13" stroke="currentColor" stroke-opacity="0.43" stroke-width="0.8"/><path transform="translate(2.1,54.7) rotate(101)" d="M-4.8,0 H4.8" stroke="currentColor" stroke-opacity="0.17" stroke-width="0.8" stroke-linecap="round"/><ellipse transform="translate(63.6,14.6) rotate(45)" rx="2.1" ry="1.5" fill="currentColor" fill-opacity="0.23" stroke="currentColor" stroke-opacity="0.75" stroke-width="0.8"/><ellipse transform="translate(60.7,5.7) rotate(72)" rx="3.0" ry="2.4" fill="currentColor" fill-opacity="0.24" stroke="currentColor" stroke-opacity="0.80" stroke-width="1.3"/><path transform="translate(60.7,5.7) rotate(72)" d="M-6.7,0 H6.7" stroke="currentColor" stroke-opacity="0.32" stroke-width="0.8" stroke-linecap="round"/><path transform="translate(55.7,34.5) rotate(12)" d="M-12.1,0 H12.1" stroke="currentColor" stroke-opacity="0.70" stroke-width="1.3" stroke-linecap="round"/><path transform="translate(15.4,45.9) rotate(55)" d="M-12.5,0 H12.5" stroke="currentColor" stroke-opacity="0.70" stroke-width="1.3" stroke-linecap="round"/><path transform="translate(53.8,26.2) rotate(44)" d="M-20.8,0 H20.8" stroke="currentColor" stroke-opacity="0.70" stroke-width="1.3" stroke-linecap="round"/><path transform="translate(44.3,50.0) rotate(29)" d="M-10.1,0 H10.1" stroke="currentColor" stroke-opacity="0.70" stroke-width="1.3" stroke-linecap="round"/></g></defs>
<svg x="28.30" y="293.30" width="75.80" height="71.20" viewBox="0 0 75.80 71.20">
<rect width="75.80" height="71.20" fill="#000"/>
<use href="#d1" color="#e01418" opacity="0.42" filter="url(#cf2)"/>
<use href="#d1" color="#e01418" opacity="0.81" filter="url(#cf0)"/>
</svg>
<svg x="106.60" y="293.30" width="75.60" height="71.20" viewBox="0 0 75.60 71.20">
<rect width="75.60" height="71.20" fill="#000"/>
<use href="#d1" color="#2cb038" opacity="0.23" filter="url(#cf2)"/>
<use href="#d1" color="#2cb038" opacity="0.44" filter="url(#cf0)"/>
</svg>
<svg x="184.60" y="293.30" width="75.80" height="71.20" viewBox="0 0 75.80 71.20">
<rect width="75.80" height="71.20" fill="#000"/>
<use href="#d1" color="#ee641c" opacity="0.45" filter="url(#cf2)"/>
<use href="#d1" color="#ee641c" opacity="0.85" filter="url(#cf0)"/>
</svg>
<svg x="28.30" y="367.60" width="75.80" height="71.30" viewBox="0 0 75.80 71.30">
<rect width="75.80" height="71.30" fill="#000"/>
<use href="#d2" color="#e01418" opacity="0.46" filter="url(#cf2)"/>
<use href="#d2" color="#e01418" opacity="0.87" filter="url(#cf0)"/>
</svg>
<svg x="106.60" y="367.60" width="75.60" height="71.30" viewBox="0 0 75.60 71.30">
<rect width="75.60" height="71.30" fill="#000"/>
<use href="#d2" color="#2aa034" opacity="0.14" filter="url(#cf2)"/>
<use href="#d2" color="#2aa034" opacity="0.26" filter="url(#cf0)"/>
</svg>
<svg x="184.60" y="367.60" width="75.80" height="71.30" viewBox="0 0 75.80 71.30">
<rect width="75.80" height="71.30" fill="#000"/>
<use href="#d2" color="#ee481a" opacity="0.46" filter="url(#cf2)"/>
<use href="#d2" color="#ee481a" opacity="0.87" filter="url(#cf0)"/>
</svg>
<text x="36.20" y="305.20" font-size="12.80" fill="#e22020" style="stroke:#e22020">aggregates</text>
<text x="119.80" y="305.20" font-size="12.80" fill="#5fae5a" style="stroke:#5fae5a">monomers</text>
<text x="222.00" y="305.60" font-size="12.80" fill="#f0b020" style="stroke:#f0b020">Merge</text>
<rect x="239.10" y="434.10" width="19.10" height="1.70" fill="#fff" stroke="none" stroke-width="1.0"/>
<defs><g id="f1"><path transform="translate(6.9,8.3) rotate(-20)" d="M-5.2,0 Q0,-1.6 5.2,0 Q0,1.6 -5.2,0Z" fill="currentColor" fill-opacity="0.80"/><path transform="translate(33.8,3.1) rotate(-80)" d="M-3.4,0 Q0,-1.4 3.4,0 Q0,1.4 -3.4,0Z" fill="currentColor" fill-opacity="0.70"/><path transform="translate(33.8,17.0) rotate(-62)" d="M-9.8,0 Q0,-4.7 9.8,0 Q0,4.7 -9.8,0Z" fill="currentColor" fill-opacity="1.00"/><path transform="translate(44.2,14.4) rotate(20)" d="M-4.0,0 Q0,-2.9 4.0,0 Q0,2.9 -4.0,0Z" fill="currentColor" fill-opacity="0.80"/><path transform="translate(71.0,11.8) rotate(-10)" d="M-5.8,0 Q0,-3.6 5.8,0 Q0,3.6 -5.8,0Z" fill="currentColor" fill-opacity="1.00"/><path transform="translate(42.4,28.2) rotate(50)" d="M-6.9,0 Q0,-3.6 6.9,0 Q0,3.6 -6.9,0Z" fill="currentColor" fill-opacity="0.85"/><path transform="translate(71.0,29.1) rotate(-15)" d="M-6.9,0 Q0,-2.9 6.9,0 Q0,2.9 -6.9,0Z" fill="currentColor" fill-opacity="1.00"/><path transform="translate(27.2,35.2) rotate(-75)" d="M-14.9,0 Q0,-2.3 14.9,0 Q0,2.3 -14.9,0Z" fill="currentColor" fill-opacity="1.00"/><path transform="translate(4.3,38.3) rotate(-5)" d="M-5.8,0 Q0,-1.9 5.8,0 Q0,1.9 -5.8,0Z" fill="currentColor" fill-opacity="1.00"/><path transform="translate(15.6,31.7) rotate(-40)" d="M-5.8,0 Q0,-1.2 5.8,0 Q0,1.2 -5.8,0Z" fill="currentColor" fill-opacity="0.60"/><path transform="translate(13.9,45.5) rotate(-80)" d="M-5.8,0 Q0,-1.6 5.8,0 Q0,1.6 -5.8,0Z" fill="currentColor" fill-opacity="0.80"/><path transform="translate(56.3,42.9) rotate(15)" d="M-8.0,0 Q0,-2.9 8.0,0 Q0,2.9 -8.0,0Z" fill="currentColor" fill-opacity="1.00"/><path transform="translate(41.6,51.6) rotate(-20)" d="M-5.8,0 Q0,-4.3 5.8,0 Q0,4.3 -5.8,0Z" fill="currentColor" fill-opacity="0.85"/><path transform="translate(71.9,50.7) rotate(20)" d="M-4.6,0 Q0,-3.6 4.6,0 Q0,3.6 -4.6,0Z" fill="currentColor" fill-opacity="0.70"/><path transform="translate(24.2,52.5) rotate(60)" d="M-6.9,0 Q0,-1.8 6.9,0 Q0,1.8 -6.9,0Z" fill="currentColor" fill-opacity="0.70"/><path transform="translate(20.8,65.5) rotate(-70)" d="M-7.5,0 Q0,-3.6 7.5,0 Q0,3.6 -7.5,0Z" fill="currentColor" fill-opacity="1.00"/><path transform="translate(16.5,57.7) rotate(70)" d="M-4.6,0 Q0,-1.8 4.6,0 Q0,1.8 -4.6,0Z" fill="currentColor" fill-opacity="0.80"/><path transform="translate(51.1,27.4) rotate(30)" d="M-4.0,0 Q0,-1.8 4.0,0 Q0,1.8 -4.0,0Z" fill="currentColor" fill-opacity="0.40"/><path transform="translate(32.0,43.8) rotate(-70)" d="M-4.6,0 Q0,-1.8 4.6,0 Q0,1.8 -4.6,0Z" fill="currentColor" fill-opacity="0.50"/><path transform="translate(71.9,42.9) rotate(0)" d="M-4.0,0 Q0,-1.8 4.0,0 Q0,1.8 -4.0,0Z" fill="currentColor" fill-opacity="0.50"/><path transform="translate(49.4,9.2) rotate(30)" d="M-3.4,0 Q0,-2.2 3.4,0 Q0,2.2 -3.4,0Z" fill="currentColor" fill-opacity="0.40"/><path transform="translate(31.2,68.1) rotate(60)" d="M-3.4,0 Q0,-1.4 3.4,0 Q0,1.4 -3.4,0Z" fill="currentColor" fill-opacity="0.60"/><path transform="translate(70.1,68.1) rotate(-60)" d="M-2.9,0 Q0,-1.4 2.9,0 Q0,1.4 -2.9,0Z" fill="currentColor" fill-opacity="0.50"/></g></defs>
<defs><g id="f2"><path transform="translate(23.4,15.2) rotate(45)" d="M-6.3,0 Q0,-3.6 6.3,0 Q0,3.6 -6.3,0Z" fill="currentColor" fill-opacity="0.42"/><path transform="translate(42.4,10.0) rotate(30)" d="M-4.6,0 Q0,-2.5 4.6,0 Q0,2.5 -4.6,0Z" fill="currentColor" fill-opacity="0.40"/><path transform="translate(33.8,26.5) rotate(-45)" d="M-4.6,0 Q0,-2.2 4.6,0 Q0,2.2 -4.6,0Z" fill="currentColor" fill-opacity="0.50"/><path transform="translate(25.1,38.6) rotate(-70)" d="M-6.9,0 Q0,-4.3 6.9,0 Q0,4.3 -6.9,0Z" fill="currentColor" fill-opacity="0.62"/><path transform="translate(36.4,42.9) rotate(-45)" d="M-4.6,0 Q0,-2.5 4.6,0 Q0,2.5 -4.6,0Z" fill="currentColor" fill-opacity="0.50"/><path transform="translate(8.7,44.7) rotate(-70)" d="M-5.2,0 Q0,-2.9 5.2,0 Q0,2.9 -5.2,0Z" fill="currentColor" fill-opacity="0.50"/><path transform="translate(67.5,35.2) rotate(35)" d="M-5.8,0 Q0,-2.9 5.8,0 Q0,2.9 -5.8,0Z" fill="currentColor" fill-opacity="0.80"/><path transform="translate(59.7,54.2) rotate(-40)" d="M-4.6,0 Q0,-2.9 4.6,0 Q0,2.9 -4.6,0Z" fill="currentColor" fill-opacity="0.65"/><path transform="translate(6.9,20.4) rotate(-60)" d="M-2.9,0 Q0,-1.8 2.9,0 Q0,1.8 -2.9,0Z" fill="currentColor" fill-opacity="0.30"/><path transform="translate(57.1,36.0) rotate(10)" d="M-3.4,0 Q0,-1.8 3.4,0 Q0,1.8 -3.4,0Z" fill="currentColor" fill-opacity="0.30"/><path transform="translate(40.7,4.0) rotate(10)" d="M-3.4,0 Q0,-1.8 3.4,0 Q0,1.8 -3.4,0Z" fill="currentColor" fill-opacity="0.30"/><path transform="translate(70.1,1.4) rotate(20)" d="M-3.4,0 Q0,-1.8 3.4,0 Q0,1.8 -3.4,0Z" fill="currentColor" fill-opacity="0.40"/><path transform="translate(9.5,58.5) rotate(-50)" d="M-3.4,0 Q0,-1.8 3.4,0 Q0,1.8 -3.4,0Z" fill="currentColor" fill-opacity="0.30"/><path transform="translate(26.8,27.4) rotate(-60)" d="M-3.4,0 Q0,-2.2 3.4,0 Q0,2.2 -3.4,0Z" fill="currentColor" fill-opacity="0.35"/><path transform="translate(13.0,50.7) rotate(-50)" d="M-2.9,0 Q0,-1.8 2.9,0 Q0,1.8 -2.9,0Z" fill="currentColor" fill-opacity="0.30"/><path transform="translate(19.0,2.3) rotate(0)" d="M-2.9,0 Q0,-2.2 2.9,0 Q0,2.2 -2.9,0Z" fill="currentColor" fill-opacity="0.25"/></g></defs>
<svg x="593.20" y="288.10" width="75.30" height="70.80" viewBox="0 0 75.30 70.80">
<rect width="75.30" height="70.80" fill="#000"/>
<use href="#f1" color="#2fe030" opacity="0.40" filter="url(#cg2)"/>
<use href="#f1" color="#2fe030" opacity="0.35" filter="url(#cg1)"/>
<use href="#f1" color="#2fe030" opacity="0.80" filter="url(#cg0)"/>
</svg>
<svg x="593.20" y="363.50" width="75.30" height="70.70" viewBox="0 0 75.30 70.70">
<rect width="75.30" height="70.70" fill="#000"/>
<use href="#f2" color="#30c834" opacity="0.40" filter="url(#cg2)"/>
<use href="#f2" color="#30c834" opacity="0.35" filter="url(#cg1)"/>
<use href="#f2" color="#30c834" opacity="0.80" filter="url(#cg0)"/>
</svg>
<rect x="646.50" y="428.20" width="18.60" height="2.00" fill="#fff" stroke="none" stroke-width="1.0"/>
<defs>
<filter id="nJ1" x="0" y="0" width="100%" height="100%" color-interpolation-filters="sRGB"><feTurbulence type="fractalNoise" baseFrequency="0.28 0.32" numOctaves="2" seed="3"/><feColorMatrix type="matrix" values="0.17 0 0 0 0.688  0.17 0 0 0 0.715  0.17 0 0 0 0.719  0 0 0 0 1" result="base"/></filter>
<filter id="nJ3" x="0" y="0" width="100%" height="100%" color-interpolation-filters="sRGB"><feTurbulence type="fractalNoise" baseFrequency="0.28 0.32" numOctaves="2" seed="8"/><feColorMatrix type="matrix" values="0.17 0 0 0 0.664  0.17 0 0 0 0.684  0.17 0 0 0 0.660  0 0 0 0 1" result="base"/></filter>
<filter id="nJ2" x="0" y="0" width="100%" height="100%" color-interpolation-filters="sRGB"><feTurbulence type="fractalNoise" baseFrequency="0.22 0.4" numOctaves="2" seed="5"/><feColorMatrix type="matrix" values="0.6 0 0 0 0.543  0.6 0 0 0 0.531  0.62 0 0 0 0.502  0 0 0 0 1" result="base"/><feTurbulence type="turbulence" baseFrequency="0.12 0.2" numOctaves="2" seed="6"/><feColorMatrix type="matrix" values="1.6 0 0 0 0.8  1.6 0 0 0 0.76  1.6 0 0 0 0.7  0 0 0 0 1" result="v"/><feBlend in="base" in2="v" mode="multiply"/></filter>
<filter id="nJ4" x="0" y="0" width="100%" height="100%" color-interpolation-filters="sRGB"><feTurbulence type="fractalNoise" baseFrequency="0.22 0.4" numOctaves="2" seed="9"/><feColorMatrix type="matrix" values="0.7 0 0 0 0.477  0.7 0 0 0 0.454  0.72 0 0 0 0.424  0 0 0 0 1" result="base"/><feTurbulence type="turbulence" baseFrequency="0.14 0.22" numOctaves="2" seed="11"/><feColorMatrix type="matrix" values="1.9 0 0 0 0.72  1.9 0 0 0 0.68  1.9 0 0 0 0.62  0 0 0 0 1" result="v"/><feBlend in="base" in2="v" mode="multiply"/></filter>
<filter id="nL1" x="0" y="0" width="100%" height="100%" color-interpolation-filters="sRGB"><feTurbulence type="fractalNoise" baseFrequency="0.3 0.36" numOctaves="2" seed="4"/><feColorMatrix type="matrix" values="1.35 0 0 0 0.070  1.35 0 0 0 0.015  1.0 0 0 0 -0.124  0 0 0 0 1" result="base"/><feTurbulence type="turbulence" baseFrequency="0.14" numOctaves="2" seed="7"/><feColorMatrix type="matrix" values="4.0 0 0 0 0.2  4.0 0 0 0 0.2  4.0 0 0 0 0.2  0 0 0 0 1" result="v"/><feBlend in="base" in2="v" mode="multiply"/></filter>
<filter id="nL2" x="0" y="0" width="100%" height="100%" color-interpolation-filters="sRGB"><feTurbulence type="fractalNoise" baseFrequency="0.26 0.3" numOctaves="2" seed="12"/><feColorMatrix type="matrix" values="1.5 0 0 0 -0.075  1.3 0 0 0 -0.140  0.7 0 0 0 -0.170  0 0 0 0 1" result="base"/><feTurbulence type="turbulence" baseFrequency="0.12" numOctaves="2" seed="3"/><feColorMatrix type="matrix" values="3.2 0 0 0 0.0  3.2 0 0 0 0.0  3.2 0 0 0 0.0  0 0 0 0 1" result="v"/><feBlend in="base" in2="v" mode="multiply"/></filter>
</defs>
<rect x="29.10" y="756.80" width="105.80" height="70.50" fill="#c7cece" filter="url(#nJ1)"/>
<rect x="139.00" y="756.80" width="105.60" height="70.50" fill="#d0cdc8" filter="url(#nJ2)"/>
<rect x="29.10" y="832.60" width="105.80" height="71.00" fill="#c4c8c0" filter="url(#nJ3)"/>
<rect x="139.00" y="832.60" width="105.60" height="71.00" fill="#c8c2bc" filter="url(#nJ4)"/>
<defs><linearGradient id="gJ" x1="0" y1="0" x2="0.3" y2="1"><stop offset="0" stop-color="#000" stop-opacity="0.05"/><stop offset="1" stop-color="#fff" stop-opacity="0.09"/></linearGradient></defs>
<rect x="29.1" y="832.6" width="105.80" height="71.00" fill="url(#gJ)"/>
<g filter="url(#b1)"><circle cx="47.9" cy="804.7" r="0.8" fill="#5a5f60" fill-opacity="0.54"/><circle cx="53.1" cy="811.5" r="0.8" fill="#5a5f60" fill-opacity="0.56"/><circle cx="82.5" cy="774.5" r="0.5" fill="#5a5f60" fill-opacity="0.49"/><circle cx="90.7" cy="763.4" r="0.8" fill="#5a5f60" fill-opacity="0.42"/><circle cx="54.8" cy="761.6" r="0.9" fill="#5a5f60" fill-opacity="0.67"/><circle cx="120.2" cy="799.8" r="0.5" fill="#5a5f60" fill-opacity="0.46"/><circle cx="81.8" cy="766.5" r="0.9" fill="#5a5f60" fill-opacity="0.48"/><circle cx="46.9" cy="813.2" r="0.5" fill="#5a5f60" fill-opacity="0.76"/><circle cx="77.2" cy="795.5" r="0.6" fill="#5a5f60" fill-opacity="0.54"/><circle cx="50.1" cy="761.3" r="0.8" fill="#5a5f60" fill-opacity="0.42"/><circle cx="110.5" cy="772.7" r="0.9" fill="#5a5f60" fill-opacity="0.75"/><circle cx="107.9" cy="809.5" r="0.7" fill="#5a5f60" fill-opacity="0.66"/><circle cx="43.6" cy="790.5" r="0.8" fill="#5a5f60" fill-opacity="0.40"/><circle cx="125.1" cy="817.8" r="0.7" fill="#5a5f60" fill-opacity="0.48"/><circle cx="77.0" cy="784.5" r="0.9" fill="#5a5f60" fill-opacity="0.49"/><circle cx="33.8" cy="765.0" r="0.8" fill="#5a5f60" fill-opacity="0.80"/><circle cx="81.6" cy="791.5" r="0.7" fill="#5a5f60" fill-opacity="0.67"/><circle cx="53.7" cy="799.3" r="0.7" fill="#5a5f60" fill-opacity="0.61"/><circle cx="49.5" cy="770.1" r="0.6" fill="#5a5f60" fill-opacity="0.76"/><circle cx="66.4" cy="798.5" r="0.6" fill="#5a5f60" fill-opacity="0.35"/><circle cx="37.8" cy="812.9" r="0.8" fill="#5a5f60" fill-opacity="0.49"/><circle cx="100.7" cy="803.7" r="0.9" fill="#5a5f60" fill-opacity="0.78"/><circle cx="72.5" cy="824.6" r="0.9" fill="#5a5f60" fill-opacity="0.60"/><circle cx="121.0" cy="791.4" r="0.7" fill="#5a5f60" fill-opacity="0.42"/><circle cx="120.3" cy="769.6" r="0.5" fill="#5a5f60" fill-opacity="0.70"/><circle cx="109.9" cy="790.9" r="0.8" fill="#5a5f60" fill-opacity="0.33"/><circle cx="57.4" cy="854.0" r="0.7" fill="#5a5f60" fill-opacity="0.39"/><circle cx="38.2" cy="857.3" r="0.9" fill="#5a5f60" fill-opacity="0.79"/><circle cx="107.0" cy="866.7" r="0.6" fill="#5a5f60" fill-opacity="0.78"/><circle cx="84.6" cy="883.4" r="0.5" fill="#5a5f60" fill-opacity="0.41"/><circle cx="116.4" cy="887.9" r="0.9" fill="#5a5f60" fill-opacity="0.60"/><circle cx="74.5" cy="873.5" r="0.8" fill="#5a5f60" fill-opacity="0.45"/><circle cx="85.5" cy="853.1" r="0.8" fill="#5a5f60" fill-opacity="0.31"/><circle cx="100.9" cy="898.5" r="0.5" fill="#5a5f60" fill-opacity="0.60"/><circle cx="96.6" cy="891.7" r="0.7" fill="#5a5f60" fill-opacity="0.43"/><circle cx="72.4" cy="898.8" r="0.9" fill="#5a5f60" fill-opacity="0.37"/><circle cx="40.8" cy="840.9" r="0.5" fill="#5a5f60" fill-opacity="0.52"/><circle cx="45.4" cy="892.7" r="0.8" fill="#5a5f60" fill-opacity="0.36"/><circle cx="85.9" cy="856.3" r="0.7" fill="#5a5f60" fill-opacity="0.41"/><circle cx="48.0" cy="846.9" r="0.7" fill="#5a5f60" fill-opacity="0.65"/><circle cx="87.1" cy="837.7" r="0.8" fill="#5a5f60" fill-opacity="0.74"/><circle cx="109.9" cy="887.6" r="0.5" fill="#5a5f60" fill-opacity="0.53"/><circle cx="37.6" cy="885.8" r="0.6" fill="#5a5f60" fill-opacity="0.66"/><circle cx="56.8" cy="881.3" r="0.6" fill="#5a5f60" fill-opacity="0.32"/><circle cx="70.7" cy="855.3" r="0.9" fill="#5a5f60" fill-opacity="0.45"/><circle cx="82.3" cy="871.4" r="0.9" fill="#5a5f60" fill-opacity="0.35"/><circle cx="92.3" cy="868.7" r="0.8" fill="#5a5f60" fill-opacity="0.78"/><circle cx="62.7" cy="881.5" r="0.7" fill="#5a5f60" fill-opacity="0.58"/><circle cx="37.6" cy="889.2" r="0.9" fill="#5a5f60" fill-opacity="0.48"/><circle cx="63.5" cy="901.1" r="0.5" fill="#5a5f60" fill-opacity="0.34"/><circle cx="38.6" cy="889.2" r="0.8" fill="#5a5f60" fill-opacity="0.52"/><circle cx="94.4" cy="835.9" r="0.8" fill="#5a5f60" fill-opacity="0.52"/></g>
<rect x="226.00" y="896.50" width="16.00" height="1.60" fill="#fff" stroke="none" stroke-width="1.0"/>
<rect x="444.50" y="753.40" width="105.70" height="71.50" fill="#b09a48" filter="url(#nL1)"/>
<rect x="444.50" y="831.60" width="105.70" height="71.40" fill="#8c6820" filter="url(#nL2)"/>
<rect x="529.00" y="897.30" width="18.80" height="1.80" fill="#fff" stroke="none" stroke-width="1.0"/>
<defs><radialGradient id="w1"><stop offset="0" stop-color="#ffe23c"/><stop offset="0.22" stop-color="#eec21c"/><stop offset="0.55" stop-color="#c89a10"/><stop offset="0.8" stop-color="#e2c030"/><stop offset="0.9" stop-color="#d8d0a0"/><stop offset="1" stop-color="#a8a698"/></radialGradient><radialGradient id="w2"><stop offset="0" stop-color="#f8c028"/><stop offset="0.25" stop-color="#d07810"/><stop offset="0.55" stop-color="#a84808"/><stop offset="0.8" stop-color="#d89018"/><stop offset="0.92" stop-color="#c8b070"/><stop offset="1" stop-color="#a09a8c"/></radialGradient></defs>
<svg x="323.3" y="742.2" width="63.9" height="29" viewBox="0 0 63.9 29">
<rect width="63.9" height="29" fill="#9b9a96"/>
<g filter="url(#b1)"><ellipse cx="16.2" cy="14.6" rx="15.2" ry="14.2" fill="url(#w1)"/><ellipse cx="48.6" cy="14.6" rx="14.6" ry="14.2" fill="url(#w2)"/></g>
</svg>
<svg x="378.3" y="64.7" width="59.00" height="54.80" viewBox="378.3 64.7 59.00 54.80">
<g filter="url(#b0)">
<path d="M391.2,111.5 L394.3,95.5" stroke="#3c8fd8" stroke-width="1.6" stroke-linecap="round"/>
<path d="M391.9,113.6h.01M394.1,96.0h.01M392.1,102.1h.01M394.2,90.5h.01M393.0,103.1h.01M394.7,94.9h.01M393.1,101.5h.01M391.1,106.0h.01M389.9,120.9h.01M393.4,100.9h.01M393.6,103.7h.01M394.2,99.2h.01M391.7,110.1h.01M393.3,103.1h.01M391.6,105.4h.01M392.1,107.7h.01M391.6,110.6h.01M392.7,103.6h.01M395.0,93.5h.01M393.4,98.0h.01M394.6,101.5h.01M392.6,107.0h.01M394.9,89.7h.01M394.3,98.9h.01M395.3,91.8h.01M390.9,111.8h.01M395.9,91.9h.01M392.1,101.5h.01M393.3,103.4h.01M394.6,94.2h.01M391.9,110.9h.01M394.7,90.6h.01M391.4,107.9h.01M391.8,101.1h.01M392.5,100.8h.01M392.8,102.1h.01M393.5,105.5h.01M394.2,101.1h.01M392.1,104.9h.01M391.0,101.3h.01" stroke="#7ab4e6" stroke-opacity="0.6" stroke-width="0.9" stroke-linecap="round" fill="none"/>
</g>
</svg>
<rect x="378.30" y="64.70" width="59.00" height="54.80" fill="none" stroke="#8e8e8e" stroke-width="0.9"/>
<line x1="401.30" y1="64.70" x2="401.30" y2="119.50" stroke="#4a4a4a" stroke-width="1.0"/>
<line x1="378.30" y1="90.50" x2="437.30" y2="90.50" stroke="#4a4a4a" stroke-width="1.0"/>
<text x="379.90" y="68.30" font-size="2.90" fill="#2a2a2a" style="stroke:#2a2a2a;stroke-width:0.05px">Q1</text>
<text x="379.90" y="71.30" font-size="2.90" fill="#2a2a2a" style="stroke:#2a2a2a;stroke-width:0.05px">0.002</text>
<text x="435.50" y="68.30" font-size="2.90" text-anchor="end" fill="#2a2a2a" style="stroke:#2a2a2a;stroke-width:0.05px">Q2</text>
<text x="435.50" y="71.30" font-size="2.90" text-anchor="end" fill="#2a2a2a" style="stroke:#2a2a2a;stroke-width:0.05px">0</text>
<text x="379.90" y="115.10" font-size="2.90" fill="#2a2a2a" style="stroke:#2a2a2a;stroke-width:0.05px">Q4</text>
<text x="379.90" y="118.10" font-size="2.90" fill="#2a2a2a" style="stroke:#2a2a2a;stroke-width:0.05px">100.0</text>
<text x="435.50" y="115.10" font-size="2.90" text-anchor="end" fill="#2a2a2a" style="stroke:#2a2a2a;stroke-width:0.05px">Q3</text>
<text x="435.50" y="118.10" font-size="2.90" text-anchor="end" fill="#2a2a2a" style="stroke:#2a2a2a;stroke-width:0.05px">0</text>
<svg x="446.4" y="64.7" width="58.90" height="54.80" viewBox="446.4 64.7 58.90 54.80">
<g filter="url(#b0)">
<path d="M459.6,110.5 L461.2,103 L463,102 L462.4,107 Z" fill="#3c8fd8" stroke="#3c8fd8" stroke-width="1.2" stroke-linejoin="round"/>
<path d="M466.8,103.3h.01M462.1,105.8h.01M464.7,99.3h.01M461.6,101.5h.01M460.4,100.8h.01M460.8,103.5h.01M459.3,106.4h.01M464.2,90.8h.01M464.3,103.9h.01M459.8,105.8h.01M461.9,105.3h.01M459.6,105.4h.01M456.8,110.5h.01M459.3,103.4h.01M461.3,106.0h.01M460.5,107.0h.01M454.8,102.1h.01M461.6,102.4h.01M465.5,100.9h.01M463.6,95.5h.01M463.8,97.4h.01M455.6,113.8h.01M462.8,104.7h.01M463.4,98.1h.01M458.9,105.7h.01M456.9,104.4h.01M457.9,104.0h.01M457.2,111.5h.01M464.0,102.6h.01M458.6,99.9h.01M462.5,100.0h.01M460.8,108.9h.01M461.8,102.4h.01M463.3,103.5h.01M463.4,103.4h.01M464.9,104.0h.01M459.2,104.2h.01M461.3,99.9h.01M460.3,107.6h.01M457.2,103.0h.01M461.3,103.7h.01M464.5,99.0h.01M463.0,103.7h.01M461.9,103.5h.01M461.4,101.9h.01M459.7,113.9h.01M462.5,108.8h.01M463.1,102.6h.01M460.2,113.9h.01M457.9,107.5h.01M463.1,106.3h.01M461.3,111.1h.01M464.2,111.5h.01M464.3,106.9h.01M462.9,105.8h.01M462.6,102.8h.01M461.1,111.4h.01M460.8,105.7h.01M462.6,105.1h.01M463.0,106.4h.01M460.4,99.6h.01M462.1,107.9h.01M463.3,106.5h.01M463.7,98.0h.01M465.3,101.5h.01M464.8,100.4h.01M460.0,105.2h.01M461.5,101.5h.01M462.4,108.3h.01M462.6,103.6h.01" stroke="#62a6e2" stroke-opacity="0.6" stroke-width="0.9" stroke-linecap="round" fill="none"/>
<path d="M475.8,102.8h.01M463.3,107.4h.01M470.7,102.4h.01M497.0,92.5h.01M473.9,102.7h.01M487.6,96.0h.01M480.5,97.3h.01M469.3,102.7h.01M457.1,105.9h.01M454.3,109.1h.01M471.7,101.9h.01M474.1,99.3h.01M473.2,102.2h.01M482.6,96.7h.01M468.0,100.6h.01M466.7,100.9h.01M457.5,109.9h.01M447.9,113.3h.01M477.8,99.5h.01M479.8,100.0h.01M486.5,96.1h.01M466.5,103.5h.01M462.1,106.2h.01M465.1,106.8h.01M450.9,109.1h.01M461.3,103.2h.01M495.6,88.9h.01M470.3,102.1h.01M492.8,90.7h.01M486.5,95.3h.01M471.8,101.3h.01M481.1,96.8h.01M473.2,102.4h.01M494.8,89.2h.01M492.9,95.4h.01M468.3,104.3h.01M469.3,106.1h.01M476.4,100.2h.01M471.1,102.3h.01M471.4,101.1h.01M497.7,88.8h.01M430.5,118.9h.01M472.4,102.7h.01M471.5,102.3h.01M478.6,101.2h.01M468.4,103.2h.01M497.7,92.8h.01M463.4,109.5h.01M483.0,96.9h.01M460.0,107.6h.01M463.4,104.1h.01M458.1,107.1h.01M487.1,95.5h.01M456.9,109.5h.01M475.3,102.4h.01M488.4,95.4h.01M472.2,102.1h.01M460.7,108.0h.01M490.6,95.1h.01M471.0,102.3h.01M464.1,104.2h.01M468.7,102.3h.01M467.8,101.4h.01M478.2,99.9h.01M458.8,103.9h.01M474.5,103.1h.01M464.9,104.4h.01M467.5,105.2h.01M463.5,107.3h.01M470.9,104.3h.01" stroke="#b8c4c8" stroke-opacity="0.55" stroke-width="0.9" stroke-linecap="round" fill="none"/>
<path d="M470.5,103.6h.01M467.6,104.5h.01M475.4,101.5h.01M478.2,98.3h.01M470.0,101.9h.01M465.5,104.5h.01M471.5,103.1h.01M474.1,105.0h.01M473.9,98.8h.01M470.8,101.7h.01M467.9,106.0h.01M467.7,100.8h.01M471.6,101.9h.01M462.9,104.4h.01M466.5,104.4h.01M467.7,104.1h.01M479.8,97.8h.01M465.4,104.5h.01M475.7,99.6h.01M477.2,98.0h.01M464.2,105.2h.01M464.8,104.1h.01M472.9,103.0h.01M470.5,102.4h.01M477.7,100.5h.01" stroke="#7ac890" stroke-opacity="0.45" stroke-width="0.9" stroke-linecap="round" fill="none"/>
</g>
</svg>
<rect x="446.40" y="64.70" width="58.90" height="54.80" fill="none" stroke="#8e8e8e" stroke-width="0.9"/>
<line x1="469.30" y1="64.70" x2="469.30" y2="119.50" stroke="#4a4a4a" stroke-width="1.0"/>
<line x1="446.40" y1="90.50" x2="505.30" y2="90.50" stroke="#4a4a4a" stroke-width="1.0"/>
<text x="448.00" y="68.30" font-size="2.90" fill="#2a2a2a" style="stroke:#2a2a2a;stroke-width:0.05px">Q1</text>
<text x="448.00" y="71.30" font-size="2.90" fill="#2a2a2a" style="stroke:#2a2a2a;stroke-width:0.05px">0.005</text>
<text x="503.50" y="68.30" font-size="2.90" text-anchor="end" fill="#2a2a2a" style="stroke:#2a2a2a;stroke-width:0.05px">Q2</text>
<text x="503.50" y="71.30" font-size="2.90" text-anchor="end" fill="#2a2a2a" style="stroke:#2a2a2a;stroke-width:0.05px">0</text>
<text x="448.00" y="115.10" font-size="2.90" fill="#2a2a2a" style="stroke:#2a2a2a;stroke-width:0.05px">Q4</text>
<text x="448.00" y="118.10" font-size="2.90" fill="#2a2a2a" style="stroke:#2a2a2a;stroke-width:0.05px">95.7</text>
<text x="503.50" y="115.10" font-size="2.90" text-anchor="end" fill="#2a2a2a" style="stroke:#2a2a2a;stroke-width:0.05px">Q3</text>
<text x="503.50" y="118.10" font-size="2.90" text-anchor="end" fill="#2a2a2a" style="stroke:#2a2a2a;stroke-width:0.05px">4.22</text>
<svg x="378.3" y="127.4" width="59.00" height="55.00" viewBox="378.3 127.4 59.00 55.00">
<g filter="url(#b0)">
<path d="M402.4,172.9h.01M412.4,160.7h.01M427.5,154.1h.01M420.3,171.9h.01M407.4,158.5h.01M400.6,168.7h.01M426.9,160.3h.01M435.5,161.6h.01M437.7,151.4h.01M433.8,154.2h.01M414.4,169.2h.01M417.6,159.4h.01M441.8,149.7h.01M412.3,164.1h.01M442.0,142.0h.01M427.8,158.4h.01M425.3,159.9h.01M411.0,162.2h.01M414.8,160.3h.01M431.9,162.4h.01M410.1,170.3h.01M404.8,164.8h.01M415.6,163.2h.01M404.0,151.2h.01M431.8,149.0h.01M413.3,169.1h.01M406.4,158.3h.01M424.5,159.2h.01M411.8,171.3h.01M417.9,152.4h.01M437.6,149.0h.01M407.1,171.7h.01M422.5,164.7h.01M406.8,176.2h.01M430.4,157.2h.01M429.0,162.8h.01M426.0,156.1h.01M412.6,172.7h.01M429.4,154.9h.01M421.9,163.3h.01M391.7,181.5h.01M391.6,181.0h.01M435.8,162.3h.01M414.1,166.6h.01M409.2,150.3h.01M425.5,155.3h.01M415.1,155.7h.01M417.5,161.6h.01M432.5,152.7h.01M453.9,132.5h.01M414.6,162.6h.01M414.2,174.5h.01M420.2,149.6h.01M422.9,165.8h.01M402.9,172.3h.01M423.3,174.3h.01M420.7,155.7h.01M418.2,174.5h.01M420.6,175.8h.01M400.1,171.7h.01M412.6,159.2h.01M417.8,165.9h.01M405.5,158.8h.01M437.3,158.0h.01M411.3,167.6h.01M393.5,185.5h.01M401.4,168.2h.01M436.6,138.2h.01M414.2,155.4h.01M393.6,169.0h.01M416.0,152.3h.01M413.8,169.0h.01M411.4,155.6h.01M434.2,150.2h.01M429.2,145.0h.01M431.2,141.4h.01M397.3,172.0h.01M414.6,165.0h.01M413.8,168.3h.01M429.8,147.5h.01M401.4,169.3h.01M429.3,158.8h.01M410.5,158.6h.01M420.8,165.8h.01M414.5,172.7h.01M421.1,160.6h.01M415.6,172.4h.01M412.9,153.1h.01M425.0,152.6h.01M429.8,153.6h.01M411.5,166.5h.01M409.4,160.5h.01M420.8,164.9h.01M418.1,159.9h.01M413.6,167.9h.01M423.9,163.6h.01M429.0,168.7h.01M400.5,172.5h.01M426.5,161.3h.01M396.8,166.4h.01M420.8,166.4h.01M424.2,145.0h.01M423.1,165.7h.01M414.3,155.6h.01M405.2,159.7h.01M429.6,150.6h.01M409.9,159.8h.01M412.9,157.4h.01M406.9,168.1h.01M416.7,164.9h.01M423.3,165.7h.01M418.0,162.5h.01M417.2,155.2h.01M428.4,149.1h.01M404.9,179.0h.01M422.7,153.2h.01M431.2,158.5h.01M421.1,149.8h.01M415.9,154.4h.01M409.0,162.7h.01M410.2,169.7h.01M411.3,169.9h.01M417.3,156.6h.01M421.8,163.0h.01M429.0,151.0h.01M438.3,150.7h.01M426.3,144.8h.01M410.4,174.9h.01M416.8,164.9h.01M425.5,144.7h.01M429.2,167.1h.01M426.5,155.3h.01M423.7,156.7h.01M430.4,161.5h.01M417.1,165.5h.01M423.4,162.3h.01M422.8,149.3h.01M433.1,156.4h.01M404.8,167.7h.01M400.9,170.4h.01M417.1,152.7h.01M406.2,162.4h.01M407.4,162.3h.01M408.1,171.8h.01M412.4,158.4h.01M426.2,150.7h.01M422.9,148.0h.01M431.1,148.1h.01M408.8,170.0h.01M399.5,165.6h.01M418.4,156.7h.01M422.3,158.6h.01M420.7,159.7h.01M425.2,155.6h.01M432.7,157.3h.01M390.4,167.0h.01M432.7,147.0h.01M419.2,158.9h.01M428.1,169.8h.01M410.2,166.5h.01M413.9,155.5h.01M407.3,166.1h.01M418.7,162.9h.01M391.1,167.9h.01M434.6,147.7h.01M424.9,152.6h.01M417.3,176.7h.01M401.2,165.7h.01M424.8,155.9h.01M400.5,173.9h.01M420.1,147.9h.01M414.3,169.0h.01M430.0,135.1h.01M410.2,166.2h.01M404.6,163.3h.01M413.9,167.2h.01M409.1,173.2h.01M429.4,158.9h.01M432.1,146.8h.01M420.4,166.2h.01M434.3,156.1h.01M411.0,161.9h.01M401.9,168.6h.01M406.2,165.2h.01M416.3,167.8h.01M426.5,154.3h.01M405.1,169.2h.01M425.1,161.9h.01M422.5,163.3h.01M412.7,169.0h.01M424.2,153.6h.01M413.7,172.7h.01M409.3,171.7h.01M413.4,161.2h.01M413.3,160.6h.01M423.2,170.0h.01M432.6,149.4h.01M425.7,161.9h.01M419.3,173.1h.01M420.0,163.7h.01M403.5,162.5h.01M404.6,165.2h.01M427.4,151.6h.01M425.5,152.3h.01M407.9,168.9h.01M407.5,155.7h.01M422.1,166.4h.01M411.1,156.6h.01M405.2,160.6h.01M411.6,158.1h.01M416.9,162.6h.01M427.7,145.3h.01M401.2,184.2h.01M420.9,155.9h.01M419.7,152.6h.01M416.2,166.8h.01M414.6,163.9h.01M422.6,158.2h.01M416.7,165.2h.01M436.0,157.3h.01M410.7,171.2h.01M392.3,168.2h.01M423.6,160.6h.01M426.1,142.3h.01M427.1,150.2h.01M414.0,166.6h.01M429.2,145.8h.01M397.2,170.7h.01M420.4,167.7h.01M420.3,156.7h.01M410.5,162.4h.01M422.1,145.5h.01M407.1,161.8h.01M429.9,153.1h.01M412.9,169.6h.01M441.8,151.4h.01M402.8,169.6h.01M423.3,143.5h.01M403.0,168.0h.01M420.2,153.0h.01M418.5,159.0h.01M416.7,152.6h.01M386.4,166.9h.01M422.5,164.5h.01M417.0,149.5h.01M397.9,172.5h.01M401.3,158.7h.01M408.4,161.4h.01M417.4,163.7h.01M420.0,160.4h.01M422.5,156.5h.01M411.3,162.6h.01M428.9,150.7h.01M431.6,163.1h.01M428.4,137.4h.01M422.2,164.7h.01M410.0,160.8h.01M399.7,168.3h.01M410.8,151.7h.01M414.2,156.9h.01" stroke="#c8ccc8" stroke-opacity="0.5" stroke-width="0.9" stroke-linecap="round" fill="none"/>
<path d="M428.0,134.3h.01M472.4,107.0h.01M425.0,139.7h.01M411.6,142.4h.01M427.6,132.8h.01M432.3,130.9h.01M391.5,153.1h.01M403.1,141.1h.01M419.1,139.7h.01M432.3,127.1h.01M419.2,144.6h.01M429.0,128.5h.01M441.5,122.0h.01M437.7,126.6h.01M411.5,139.5h.01M425.6,150.5h.01M415.9,152.4h.01M439.3,124.9h.01M441.1,134.0h.01M415.2,141.0h.01M438.3,129.9h.01M453.2,119.9h.01M404.1,151.6h.01M405.8,155.0h.01M430.2,131.2h.01M410.5,152.5h.01M418.8,148.6h.01M406.0,149.0h.01M410.3,141.5h.01M465.4,118.6h.01M414.0,149.5h.01M398.1,163.3h.01M436.0,127.5h.01M416.6,144.5h.01M426.8,133.9h.01M408.0,147.7h.01M417.0,147.4h.01M423.0,140.0h.01M395.8,155.5h.01M414.0,142.0h.01M418.6,140.0h.01M401.4,159.2h.01M433.2,128.5h.01M427.8,129.9h.01M402.2,152.0h.01M443.7,123.6h.01M399.6,156.5h.01M411.0,143.0h.01M421.8,129.5h.01M391.2,152.6h.01M437.6,129.1h.01M410.8,143.4h.01M434.6,137.9h.01M411.7,148.2h.01M457.9,117.9h.01M417.9,144.4h.01M425.2,141.2h.01M425.6,134.2h.01M421.1,142.4h.01M412.0,147.0h.01M411.8,153.8h.01M442.3,120.4h.01M434.8,131.6h.01M422.6,137.8h.01M428.5,140.8h.01M406.7,156.1h.01M415.1,138.1h.01M422.9,142.6h.01M421.4,141.7h.01M415.6,141.0h.01M434.0,125.8h.01M437.4,130.8h.01M417.3,141.6h.01M417.6,142.5h.01M420.9,139.6h.01M388.1,151.3h.01M425.2,133.7h.01M413.2,144.8h.01M410.1,156.8h.01M421.5,139.0h.01M409.0,153.8h.01M436.5,138.0h.01M432.8,127.4h.01M407.3,157.7h.01M411.9,146.1h.01M421.1,143.1h.01M427.2,130.1h.01M408.1,139.5h.01M429.7,133.4h.01M400.4,160.7h.01M419.5,135.7h.01M414.5,141.6h.01M424.1,139.4h.01M414.9,147.1h.01M383.7,164.5h.01M433.9,136.7h.01M430.8,127.6h.01M396.8,155.3h.01M455.5,117.7h.01M406.9,140.7h.01M422.8,136.5h.01M429.6,135.4h.01M388.0,162.7h.01M431.6,129.5h.01M401.6,147.3h.01M408.7,161.3h.01M440.5,123.2h.01M438.7,121.9h.01M412.1,142.3h.01M420.9,144.1h.01M452.8,122.2h.01M420.6,141.4h.01M419.5,143.4h.01M410.0,149.4h.01M430.8,138.7h.01M411.0,149.6h.01M423.6,133.9h.01M392.0,157.4h.01M433.4,130.0h.01M455.6,119.1h.01M411.1,146.6h.01M429.5,137.0h.01M419.5,143.8h.01M466.3,113.7h.01M422.8,136.3h.01M396.7,158.2h.01M415.7,143.7h.01M415.9,148.1h.01M435.1,126.4h.01M402.9,154.6h.01M442.4,127.5h.01M424.8,129.7h.01M415.3,147.5h.01M426.8,136.1h.01M432.0,137.3h.01M420.9,136.3h.01M402.1,154.6h.01M418.7,140.8h.01M435.6,126.3h.01M419.4,144.9h.01M403.3,140.5h.01M415.9,148.3h.01M412.4,144.9h.01M398.4,162.7h.01M395.0,154.6h.01M424.1,148.9h.01M421.2,136.0h.01M399.6,153.5h.01M402.5,149.7h.01M425.4,143.9h.01M409.4,155.9h.01M399.1,166.3h.01M411.3,144.8h.01M415.4,145.4h.01M419.8,139.1h.01M410.2,144.7h.01M420.9,137.2h.01M408.0,141.2h.01M423.1,141.4h.01M409.7,153.7h.01M421.2,140.6h.01M399.1,159.0h.01M444.3,134.6h.01M412.7,145.6h.01M433.3,134.5h.01M412.7,146.3h.01M436.7,132.3h.01M423.4,144.3h.01M401.7,156.1h.01M411.3,145.0h.01M437.4,138.3h.01M428.2,135.8h.01M446.6,126.4h.01M389.0,159.3h.01M410.5,143.8h.01M402.3,156.9h.01M428.6,144.5h.01M418.0,143.0h.01M413.8,150.9h.01M443.8,133.6h.01M434.5,127.6h.01M436.4,124.5h.01M412.7,145.0h.01M449.2,116.6h.01M408.6,150.3h.01M439.9,130.2h.01M427.4,131.2h.01M419.8,148.2h.01M421.8,136.2h.01M420.6,148.0h.01M447.0,124.4h.01M414.9,153.8h.01M413.4,146.3h.01M427.9,135.5h.01M423.8,147.3h.01M422.9,131.2h.01M417.3,150.2h.01M417.1,137.5h.01M436.1,132.5h.01M424.2,141.2h.01" stroke="#f0c8a0" stroke-opacity="0.5" stroke-width="0.9" stroke-linecap="round" fill="none"/>
<path d="M391.2,175 L394.0,156 L400.6,154.2 L400.6,169 L396.0,174 Z" fill="#3f97dc" fill-opacity="0.9"/>
<path d="M397.8,167.0h.01M391.4,180.6h.01M391.7,163.5h.01M398.3,170.4h.01M400.0,155.9h.01M403.3,159.1h.01M396.4,164.2h.01M397.3,159.7h.01M401.1,165.6h.01M401.9,151.2h.01M398.7,162.7h.01M397.4,166.3h.01M398.0,163.7h.01M396.6,165.5h.01M397.2,164.9h.01M394.7,167.8h.01M390.9,181.5h.01M396.8,177.8h.01M398.1,153.1h.01M393.2,156.6h.01M395.2,160.5h.01M394.5,169.3h.01M386.9,177.2h.01M395.2,165.2h.01M390.8,165.3h.01M391.4,167.6h.01M397.1,165.8h.01M396.4,161.7h.01M394.2,171.6h.01M396.4,166.2h.01M403.6,166.2h.01M397.1,144.4h.01M389.0,163.8h.01M400.7,155.6h.01M393.3,161.8h.01M395.5,172.1h.01M397.1,158.5h.01M400.0,156.3h.01M393.8,153.8h.01M396.2,160.2h.01M396.4,164.4h.01M403.0,168.8h.01M392.2,150.7h.01M398.3,156.9h.01M403.7,161.3h.01M395.1,164.7h.01M394.9,168.5h.01M395.2,166.5h.01M398.6,140.9h.01M395.3,178.3h.01M394.4,158.6h.01M399.7,159.9h.01M397.2,162.1h.01M398.5,163.2h.01M402.5,165.5h.01M397.9,151.5h.01M398.2,155.9h.01M397.6,169.2h.01M405.7,158.6h.01M395.3,173.0h.01M389.4,168.5h.01M402.0,165.5h.01M394.6,174.5h.01M396.9,166.7h.01M400.3,157.8h.01M402.8,162.1h.01M397.1,160.7h.01M391.2,148.7h.01M395.4,163.7h.01M396.0,187.4h.01M398.9,163.5h.01M392.4,175.7h.01M394.7,163.4h.01M400.8,163.6h.01M395.9,165.3h.01M391.7,162.2h.01M396.5,167.3h.01M398.7,145.2h.01M392.9,170.2h.01M395.5,155.9h.01M397.3,169.1h.01M396.1,169.4h.01M398.2,168.8h.01M394.8,180.1h.01M389.8,182.8h.01M398.5,158.0h.01M397.1,173.4h.01M392.6,165.0h.01M397.8,171.7h.01M398.3,155.0h.01M392.9,182.9h.01M389.1,189.8h.01M396.5,163.5h.01M394.6,165.3h.01M398.7,155.6h.01M400.9,175.7h.01M399.7,153.3h.01M395.7,162.5h.01M399.1,163.7h.01M393.4,161.9h.01M395.9,164.2h.01M400.3,158.4h.01M390.1,173.5h.01M401.3,154.3h.01M399.5,160.1h.01M397.8,169.1h.01M393.9,154.5h.01M398.2,152.2h.01M394.3,156.0h.01M396.2,163.3h.01M394.6,161.7h.01M399.3,169.7h.01M398.8,158.5h.01M396.3,153.4h.01M396.7,148.1h.01M396.7,160.7h.01M395.4,158.4h.01M391.6,169.6h.01M396.6,174.8h.01M397.8,162.9h.01M401.1,153.9h.01M390.9,171.3h.01M397.6,166.6h.01M400.7,164.6h.01M396.6,168.0h.01M392.4,166.8h.01M398.5,164.0h.01M395.6,156.8h.01M391.1,155.8h.01M398.7,175.5h.01M397.4,157.4h.01M398.4,174.1h.01M399.2,158.1h.01M397.5,172.6h.01M396.4,156.8h.01M395.0,165.9h.01M397.0,168.8h.01M397.3,159.8h.01M396.0,173.0h.01M396.0,170.1h.01M397.4,157.9h.01M395.6,162.5h.01M392.2,161.8h.01M394.4,165.4h.01M398.6,165.7h.01M395.0,165.9h.01M392.6,167.9h.01M399.7,169.6h.01M401.6,161.2h.01M390.3,168.0h.01M404.5,158.3h.01M402.1,160.6h.01M402.1,159.9h.01M395.1,167.9h.01M391.7,164.3h.01M394.8,171.8h.01M397.0,165.3h.01M393.3,180.2h.01M397.8,166.0h.01M388.0,175.9h.01" stroke="#4a9fe0" stroke-opacity="0.7" stroke-width="0.9" stroke-linecap="round" fill="none"/>
<path d="M402.0,154.2 L409.0,154.2 L408.0,162 L402.0,168 Z" fill="#3cc03c" fill-opacity="0.55"/>
<path d="M406.5,161.0h.01M409.8,164.5h.01M401.9,155.3h.01M409.1,158.2h.01M407.1,162.6h.01M413.5,164.7h.01M412.4,158.1h.01M399.9,160.5h.01M414.1,165.3h.01M407.9,160.3h.01M406.1,152.1h.01M407.8,164.7h.01M412.5,155.5h.01M411.2,160.1h.01M408.9,152.3h.01M406.1,151.7h.01M389.8,171.9h.01M405.5,169.4h.01M407.8,152.4h.01M409.6,152.4h.01M406.4,160.2h.01M411.6,163.9h.01M413.1,159.2h.01M413.7,159.7h.01M401.6,161.2h.01M406.9,165.5h.01M414.7,172.1h.01M399.1,160.6h.01M417.7,163.0h.01M414.1,161.9h.01M416.4,153.3h.01M397.4,166.1h.01M408.7,150.0h.01M409.1,161.9h.01M408.6,165.7h.01M419.8,167.8h.01M409.6,155.2h.01M401.6,160.4h.01M411.8,153.7h.01M410.2,164.5h.01M402.5,163.5h.01M392.9,165.9h.01M406.0,165.7h.01M415.2,154.8h.01M410.2,160.4h.01M417.8,159.2h.01M406.1,155.3h.01M414.9,158.0h.01M415.4,154.6h.01M418.7,149.4h.01M418.2,153.3h.01M400.8,158.9h.01M412.1,167.8h.01M415.4,159.7h.01M396.0,176.2h.01M409.5,155.8h.01M404.1,164.2h.01M414.8,147.7h.01M410.2,168.9h.01M404.0,161.8h.01M404.2,155.3h.01M405.1,154.8h.01M413.4,156.5h.01M423.0,150.4h.01M411.8,148.5h.01M408.4,163.0h.01M412.8,144.9h.01M416.2,158.4h.01M419.9,156.1h.01M406.5,158.5h.01M401.0,168.2h.01M414.0,170.5h.01M405.4,165.5h.01M397.0,167.4h.01M412.5,163.1h.01M416.7,153.4h.01M402.8,168.7h.01M412.9,160.4h.01M407.7,169.4h.01M411.0,163.5h.01M418.0,157.0h.01M417.4,168.6h.01M408.4,158.5h.01M413.9,166.7h.01M410.6,162.6h.01M413.5,152.7h.01M398.5,171.1h.01M407.3,157.3h.01M415.5,159.1h.01M403.7,168.3h.01M401.6,155.8h.01M410.6,158.5h.01M405.3,167.0h.01M408.9,156.1h.01M414.0,163.2h.01M405.0,166.3h.01M416.0,170.5h.01M399.0,173.5h.01M405.8,162.2h.01M419.6,151.2h.01M420.2,147.6h.01M408.4,157.1h.01M404.0,164.8h.01M407.0,163.3h.01M402.2,180.3h.01M413.1,169.2h.01M402.9,167.4h.01M424.3,141.1h.01M396.9,166.4h.01M413.3,161.5h.01M415.0,153.3h.01M396.6,167.4h.01M417.2,156.6h.01M395.9,170.9h.01M424.1,162.8h.01M412.5,159.4h.01M397.4,163.8h.01M410.1,162.9h.01M409.9,156.0h.01M398.2,163.6h.01M403.2,169.7h.01M392.7,171.5h.01M416.1,165.1h.01M412.0,164.9h.01M402.9,159.9h.01M409.3,170.9h.01M415.8,157.9h.01M428.3,143.7h.01M412.9,159.1h.01M414.8,171.9h.01M412.3,147.4h.01M407.1,164.9h.01M408.0,151.3h.01M387.4,164.6h.01M407.2,160.9h.01M407.4,156.0h.01M393.3,158.8h.01M411.3,160.9h.01M416.9,159.2h.01M411.6,167.7h.01M404.8,158.9h.01M402.7,161.2h.01M395.3,172.8h.01M408.3,158.2h.01M404.9,166.2h.01M418.7,152.3h.01M402.8,161.1h.01M403.1,156.0h.01M407.4,161.9h.01M422.6,155.5h.01M411.8,152.7h.01M408.1,152.8h.01M411.4,161.2h.01M410.4,173.4h.01M404.8,150.1h.01M409.9,156.4h.01M409.7,163.0h.01M403.2,150.4h.01M403.6,170.2h.01M422.7,162.3h.01M411.8,143.1h.01M405.9,149.0h.01M418.8,153.8h.01M408.1,175.3h.01M405.3,149.7h.01M407.2,156.4h.01M407.0,158.5h.01M411.4,147.9h.01M416.4,167.0h.01M403.7,166.1h.01M406.8,157.1h.01M412.3,158.1h.01M408.4,173.3h.01M412.3,156.2h.01M401.3,161.0h.01M415.0,154.1h.01M410.2,157.9h.01M411.4,157.3h.01M412.0,156.3h.01M415.5,159.6h.01M404.2,158.0h.01M399.6,162.7h.01M405.0,169.7h.01M413.3,167.9h.01M422.1,149.4h.01M397.2,167.4h.01M402.3,155.1h.01M407.5,163.5h.01M402.5,160.1h.01M409.7,172.4h.01M404.1,158.3h.01M409.1,166.9h.01M405.5,166.6h.01M415.1,160.4h.01M414.6,151.5h.01M412.1,151.8h.01M409.8,168.1h.01M413.0,156.8h.01M402.7,169.5h.01M400.9,160.3h.01" stroke="#48c048" stroke-opacity="0.65" stroke-width="0.9" stroke-linecap="round" fill="none"/>
<ellipse transform="translate(416.5,141.0) rotate(-37)" rx="11.5" ry="3.6" fill="#f58a1e"/>
<path d="M419.9,138.3h.01M412.5,139.4h.01M425.7,132.6h.01M421.3,136.2h.01M427.1,132.8h.01M422.0,140.2h.01M414.3,141.9h.01M415.5,142.1h.01M422.8,137.3h.01M419.1,142.3h.01M416.4,136.9h.01M427.1,126.2h.01M433.5,122.1h.01M401.4,149.6h.01M424.4,131.6h.01M426.2,137.5h.01M409.9,145.5h.01M422.7,137.7h.01M407.0,141.2h.01M408.7,143.3h.01M417.5,140.3h.01M407.3,143.8h.01M410.7,146.1h.01M422.0,138.6h.01M428.1,136.2h.01M414.2,147.6h.01M405.7,151.3h.01M412.5,137.0h.01M436.0,134.6h.01M425.2,128.4h.01M393.4,161.3h.01M418.1,137.0h.01M405.2,142.2h.01M412.7,135.1h.01M400.7,151.8h.01M431.4,132.5h.01M429.1,136.7h.01M423.6,133.4h.01M419.5,139.2h.01M410.4,145.4h.01M412.8,138.2h.01M401.0,152.7h.01M425.0,138.3h.01M429.7,132.5h.01M417.0,138.3h.01M398.2,142.7h.01M414.5,145.0h.01M419.9,146.1h.01M433.8,131.3h.01M418.5,146.3h.01M429.3,126.2h.01M423.5,140.6h.01M411.5,152.3h.01M415.9,143.8h.01M413.3,144.4h.01M422.3,142.9h.01M414.5,144.8h.01M423.3,134.6h.01M418.1,133.9h.01M401.4,150.3h.01M397.3,151.7h.01M412.2,141.2h.01M407.7,143.6h.01M420.6,137.0h.01M392.1,162.5h.01M433.1,131.2h.01M426.4,130.2h.01M434.5,129.9h.01M417.8,144.9h.01M418.6,136.2h.01M417.7,142.1h.01M414.6,144.0h.01M406.4,141.4h.01M429.3,133.1h.01M417.9,133.1h.01M417.7,145.1h.01M409.2,142.0h.01M439.3,123.8h.01M421.5,136.8h.01M430.6,131.2h.01M408.6,145.4h.01M420.7,145.0h.01M416.7,140.2h.01M430.5,134.9h.01M411.7,145.7h.01M424.8,133.6h.01M426.9,135.1h.01M405.6,152.5h.01M416.1,139.6h.01M395.2,158.6h.01M395.2,157.8h.01M429.6,126.8h.01M412.8,142.2h.01M425.1,134.2h.01M414.4,147.1h.01M398.4,153.1h.01M392.7,156.7h.01M417.1,134.8h.01M417.0,146.4h.01M399.0,154.2h.01M417.1,147.7h.01M413.8,140.5h.01M426.7,131.5h.01M408.4,148.5h.01M404.7,154.7h.01M425.8,131.8h.01M404.6,149.0h.01M435.0,133.0h.01M414.6,142.9h.01M419.1,142.5h.01M416.8,138.3h.01M432.4,136.4h.01M412.6,152.8h.01M421.0,137.7h.01M420.9,141.6h.01M407.1,147.2h.01M439.7,121.3h.01M386.6,158.6h.01M430.7,121.9h.01M411.8,143.5h.01M413.2,142.9h.01M391.7,166.7h.01M405.9,152.8h.01M431.1,128.0h.01M408.9,150.0h.01M431.9,134.4h.01M409.6,143.3h.01M399.5,157.0h.01M423.9,136.3h.01M401.3,147.3h.01M401.6,150.7h.01M430.1,131.1h.01M412.4,143.5h.01M408.4,146.5h.01M409.0,152.6h.01M417.1,140.0h.01M430.6,133.4h.01M428.3,129.5h.01M409.9,151.6h.01M419.3,138.1h.01M427.8,133.5h.01M411.3,140.1h.01M410.6,145.8h.01M418.6,140.5h.01M408.9,147.4h.01M405.2,147.3h.01M412.0,150.7h.01M412.4,148.0h.01M401.8,153.8h.01M433.0,127.7h.01M433.8,128.0h.01M401.4,151.5h.01M418.3,139.8h.01M421.8,137.2h.01M430.8,134.4h.01M415.5,137.6h.01M420.9,141.9h.01M423.3,137.9h.01M397.1,158.5h.01M414.8,140.3h.01M419.9,127.6h.01M420.5,136.3h.01M392.6,153.9h.01M418.8,144.6h.01M394.9,149.7h.01M419.9,134.4h.01M409.9,144.5h.01M418.5,136.7h.01M412.6,142.0h.01M410.1,138.5h.01M426.0,136.5h.01M425.3,138.5h.01M423.3,145.3h.01M417.7,138.8h.01M418.3,142.8h.01M426.9,137.1h.01M412.1,139.7h.01M410.1,145.7h.01M398.2,156.9h.01M423.7,137.0h.01M404.1,149.7h.01M425.5,140.6h.01M428.2,131.7h.01M440.7,122.1h.01M414.9,138.8h.01M391.9,156.0h.01M421.5,133.5h.01M418.2,142.8h.01M404.2,154.8h.01M407.1,150.7h.01M422.1,140.9h.01M418.8,140.3h.01M422.2,141.6h.01M403.9,144.9h.01M406.0,152.7h.01M418.9,138.7h.01M409.0,145.7h.01M421.9,136.4h.01M413.6,146.6h.01M414.1,136.7h.01" stroke="#f59a3a" stroke-opacity="0.7" stroke-width="0.9" stroke-linecap="round" fill="none"/>
<path d="M395.5,152.6 L397.5,148.5 L400.6,148 L400.6,152.6 Z" fill="#b86a9a" fill-opacity="0.85"/>
</g>
</svg>
<rect x="378.30" y="127.40" width="59.00" height="55.00" fill="none" stroke="#8e8e8e" stroke-width="0.9"/>
<line x1="401.30" y1="127.40" x2="401.30" y2="182.40" stroke="#4a4a4a" stroke-width="1.0"/>
<line x1="378.30" y1="153.40" x2="437.30" y2="153.40" stroke="#4a4a4a" stroke-width="1.0"/>
<text x="379.90" y="131.00" font-size="2.90" fill="#2a2a2a" style="stroke:#2a2a2a;stroke-width:0.05px">Q1</text>
<text x="379.90" y="134.00" font-size="2.90" fill="#2a2a2a" style="stroke:#2a2a2a;stroke-width:0.05px">2.61</text>
<text x="435.50" y="131.00" font-size="2.90" text-anchor="end" fill="#2a2a2a" style="stroke:#2a2a2a;stroke-width:0.05px">Q2</text>
<text x="435.50" y="134.00" font-size="2.90" text-anchor="end" fill="#2a2a2a" style="stroke:#2a2a2a;stroke-width:0.05px">46.1</text>
<text x="379.90" y="178.00" font-size="2.90" fill="#2a2a2a" style="stroke:#2a2a2a;stroke-width:0.05px">Q4</text>
<text x="379.90" y="181.00" font-size="2.90" fill="#2a2a2a" style="stroke:#2a2a2a;stroke-width:0.05px">41.0</text>
<text x="435.50" y="178.00" font-size="2.90" text-anchor="end" fill="#2a2a2a" style="stroke:#2a2a2a;stroke-width:0.05px">Q3</text>
<text x="435.50" y="181.00" font-size="2.90" text-anchor="end" fill="#2a2a2a" style="stroke:#2a2a2a;stroke-width:0.05px">8.51</text>
<svg x="446.4" y="127.4" width="58.90" height="55.00" viewBox="446.4 127.4 58.90 55.00">
<g filter="url(#b0)">
<path d="M489.3,169.1h.01M470.5,158.1h.01M490.3,162.2h.01M491.5,160.6h.01M482.6,158.8h.01M477.3,165.4h.01M485.4,168.2h.01M488.6,149.9h.01M493.8,155.4h.01M503.6,159.8h.01M486.3,147.8h.01M488.1,148.1h.01M501.1,145.7h.01M490.8,171.2h.01M467.7,174.1h.01M473.2,166.2h.01M480.3,170.1h.01M484.5,164.7h.01M487.5,147.4h.01M500.8,148.9h.01M466.4,169.9h.01M499.5,159.1h.01M479.5,166.4h.01M492.8,164.1h.01M488.6,166.6h.01M474.4,163.9h.01M496.4,159.3h.01M488.2,164.1h.01M491.6,163.0h.01M501.1,154.5h.01M494.2,152.5h.01M472.3,153.2h.01M491.2,157.8h.01M485.9,147.3h.01M479.4,161.6h.01M470.2,179.0h.01M495.4,145.0h.01M497.5,166.0h.01M476.9,174.9h.01M510.5,158.0h.01M468.1,165.7h.01M493.1,165.2h.01M470.3,166.5h.01M478.4,174.8h.01M482.6,167.8h.01M497.8,161.6h.01M492.4,159.2h.01M501.0,154.3h.01M471.0,167.6h.01M497.0,154.5h.01M483.7,164.6h.01M522.6,135.1h.01M493.5,159.3h.01M487.9,168.8h.01M497.4,156.2h.01M476.3,177.4h.01M494.7,154.4h.01M457.0,181.0h.01M472.6,168.8h.01M478.1,160.4h.01M498.1,153.5h.01M496.7,146.4h.01M489.4,169.0h.01M487.6,154.5h.01M474.8,164.5h.01M488.1,164.8h.01M490.9,163.4h.01M496.2,154.9h.01M503.3,154.6h.01M484.0,161.3h.01M483.8,157.1h.01M472.1,171.2h.01M483.1,167.6h.01M480.4,165.8h.01M487.1,156.8h.01M486.2,155.6h.01M484.7,168.0h.01M490.8,157.7h.01M480.5,170.2h.01M500.7,134.4h.01M498.8,153.8h.01M502.7,158.2h.01M481.6,177.3h.01M479.2,164.0h.01M493.1,155.5h.01M487.7,156.1h.01M475.3,168.8h.01M479.4,175.9h.01M494.2,165.9h.01M465.6,159.8h.01M460.3,176.3h.01M473.7,172.4h.01M465.7,164.9h.01M488.2,156.6h.01M496.8,159.6h.01M486.1,151.9h.01M485.0,178.8h.01M485.1,163.9h.01M487.8,159.6h.01M482.6,159.2h.01M473.7,154.5h.01M504.4,147.4h.01M474.0,173.4h.01M488.7,148.3h.01M486.1,172.2h.01M493.9,158.7h.01M496.9,152.5h.01M488.9,171.0h.01M484.2,161.7h.01M493.6,156.0h.01M479.7,179.7h.01M492.1,170.3h.01M488.8,152.3h.01M502.8,148.0h.01M477.0,167.2h.01M464.5,179.2h.01M477.7,165.0h.01M479.2,171.0h.01M494.2,163.4h.01M505.7,149.4h.01M488.6,161.6h.01M475.7,164.2h.01M491.7,150.6h.01M464.1,173.8h.01M494.5,166.2h.01M475.4,161.5h.01M487.0,159.2h.01M487.4,156.2h.01M486.6,156.3h.01M498.2,154.6h.01M491.1,154.2h.01M470.9,171.7h.01M489.7,166.7h.01M496.8,153.2h.01M482.5,156.1h.01M486.7,162.1h.01M478.1,158.5h.01M497.1,146.3h.01M508.6,154.1h.01M500.2,144.7h.01M488.3,149.0h.01M477.1,155.8h.01M476.7,163.8h.01M500.6,158.9h.01M481.3,162.1h.01M472.1,162.2h.01M466.2,173.2h.01M490.1,152.4h.01M486.2,152.2h.01M473.5,165.7h.01M494.0,151.4h.01M493.3,153.2h.01M467.3,159.1h.01M477.8,159.6h.01M497.6,156.1h.01M471.5,177.4h.01M481.8,142.3h.01M475.8,169.9h.01M466.4,169.2h.01M492.7,158.1h.01M493.2,160.4h.01M485.0,179.3h.01M499.2,167.5h.01M485.2,165.6h.01M489.3,157.5h.01M490.4,159.7h.01M496.0,156.3h.01M488.4,162.8h.01M501.9,150.3h.01M493.1,156.9h.01M461.9,171.1h.01M471.4,160.8h.01M473.3,156.7h.01M487.1,156.1h.01M500.6,153.5h.01M471.7,169.3h.01M484.2,157.1h.01M478.4,158.2h.01M479.2,167.7h.01M486.7,169.3h.01M460.6,172.8h.01M487.2,170.9h.01M500.5,156.2h.01M501.9,161.4h.01M492.4,154.6h.01M485.4,155.9h.01M484.8,164.3h.01M480.9,165.1h.01M476.7,157.6h.01M472.9,175.0h.01M489.1,164.7h.01M484.7,161.5h.01M487.5,157.2h.01M504.0,155.5h.01M486.4,152.7h.01M480.8,165.9h.01M497.9,152.0h.01M487.2,163.6h.01M486.4,159.2h.01M477.8,175.3h.01M483.3,158.7h.01M479.9,155.2h.01M461.5,164.7h.01M484.9,151.6h.01M482.6,154.2h.01M464.4,171.1h.01M475.1,163.0h.01M504.4,149.0h.01M482.0,169.6h.01M486.1,169.3h.01M472.4,177.9h.01M471.2,165.4h.01M483.7,154.2h.01M466.4,171.2h.01M476.4,155.1h.01M492.8,149.6h.01M477.8,164.5h.01M489.3,165.8h.01M462.2,177.1h.01M495.4,155.5h.01M480.5,156.1h.01M487.0,156.1h.01M482.9,154.8h.01M481.2,162.6h.01M472.8,177.1h.01M479.3,155.6h.01M482.8,163.5h.01M477.8,158.5h.01M477.9,156.0h.01M471.3,179.2h.01M509.6,157.5h.01M513.8,150.8h.01M473.1,165.2h.01M495.1,150.5h.01M481.2,163.5h.01M484.8,151.2h.01M487.0,163.2h.01M467.0,181.8h.01M490.4,151.3h.01M506.0,149.4h.01M495.4,165.0h.01M457.6,180.2h.01M501.2,160.0h.01M484.0,160.4h.01M475.7,165.1h.01M467.6,155.6h.01M475.3,160.4h.01M477.0,163.2h.01M480.2,165.1h.01M483.0,159.7h.01M478.0,165.1h.01M481.2,162.7h.01M500.5,151.9h.01M473.7,153.9h.01M459.3,157.3h.01M498.1,159.9h.01M479.1,161.7h.01M492.0,160.3h.01M465.6,172.7h.01M477.3,157.1h.01" stroke="#c8ccc8" stroke-opacity="0.5" stroke-width="0.9" stroke-linecap="round" fill="none"/>
<path d="M516.4,114.8h.01M492.9,135.9h.01M475.3,146.5h.01M481.5,144.7h.01M497.0,140.0h.01M494.6,142.1h.01M495.0,136.2h.01M482.8,138.8h.01M466.1,155.3h.01M486.7,143.1h.01M489.5,132.5h.01M475.4,143.1h.01M501.5,130.3h.01M487.3,135.9h.01M468.9,150.5h.01M487.7,143.1h.01M467.8,156.3h.01M474.7,146.8h.01M482.2,142.0h.01M496.4,139.2h.01M491.1,135.2h.01M494.6,137.8h.01M500.4,133.1h.01M463.7,153.2h.01M484.7,147.6h.01M488.3,145.0h.01M488.8,133.3h.01M489.9,142.0h.01M489.6,131.1h.01M492.2,134.2h.01M457.4,158.6h.01M457.5,154.8h.01M513.9,135.5h.01M503.5,131.8h.01M514.8,123.4h.01M468.1,140.9h.01M494.6,123.5h.01M446.9,165.6h.01M486.5,136.7h.01M502.0,130.1h.01M491.9,140.0h.01M480.4,146.8h.01M517.6,114.5h.01M491.6,140.7h.01M480.4,145.4h.01M463.2,155.4h.01M491.4,144.1h.01M499.6,129.1h.01M477.4,157.8h.01M495.5,124.7h.01M481.1,140.3h.01M475.3,139.9h.01M481.0,142.5h.01M487.5,146.4h.01M488.1,133.7h.01M462.7,155.2h.01M506.6,132.6h.01M483.0,150.3h.01M492.7,133.8h.01M494.1,135.8h.01M471.7,149.5h.01M494.0,143.5h.01M474.6,151.2h.01M488.5,139.8h.01M474.6,156.8h.01M510.6,133.4h.01M498.8,141.1h.01M498.6,138.6h.01M484.4,144.3h.01M481.2,139.5h.01M479.5,140.3h.01M471.9,149.6h.01M485.5,153.7h.01M516.1,126.8h.01M497.4,129.2h.01M488.7,132.1h.01M478.6,144.5h.01M485.7,146.9h.01M483.8,156.8h.01M483.7,148.3h.01M468.9,159.0h.01M471.9,152.9h.01M490.7,143.2h.01M498.2,135.6h.01M491.7,148.8h.01M482.2,144.7h.01M482.4,145.2h.01M474.1,148.0h.01M494.2,133.0h.01M493.7,133.4h.01M508.2,125.7h.01M514.6,124.7h.01M489.3,144.9h.01M509.0,134.3h.01M510.5,129.8h.01M474.7,155.1h.01M488.5,142.5h.01M504.6,125.0h.01M513.6,135.9h.01M495.7,133.5h.01M508.4,127.3h.01M506.7,134.4h.01M468.3,156.2h.01M465.5,152.5h.01M494.1,129.7h.01M477.4,145.5h.01M493.9,138.4h.01M493.5,133.9h.01M479.1,149.1h.01M474.3,145.7h.01M496.3,130.3h.01M478.8,153.2h.01M482.1,132.3h.01M483.0,154.8h.01M527.5,111.3h.01M500.2,136.1h.01M488.1,130.4h.01M503.2,131.4h.01M480.9,136.5h.01M479.3,146.0h.01M485.5,143.5h.01M485.6,147.7h.01M494.1,129.8h.01M481.0,147.7h.01M484.3,150.8h.01M481.4,146.4h.01M493.9,130.1h.01M505.3,127.2h.01M476.6,144.7h.01M461.1,151.8h.01M508.9,125.1h.01M484.9,143.7h.01M494.3,131.7h.01M486.1,143.3h.01M503.1,131.3h.01M510.9,123.2h.01M480.0,138.4h.01M489.3,143.1h.01M484.4,142.0h.01M473.1,147.6h.01M481.8,144.3h.01M504.6,131.7h.01M504.1,135.7h.01M485.3,149.7h.01M485.5,134.9h.01M479.6,145.9h.01M472.8,163.8h.01M489.8,143.9h.01M471.7,152.4h.01M489.9,135.0h.01M491.7,137.8h.01M490.3,132.2h.01M494.7,134.2h.01M470.6,140.5h.01M484.5,140.8h.01M518.1,112.7h.01M512.1,130.4h.01M494.5,137.2h.01M491.3,130.0h.01M507.0,125.3h.01M477.8,147.5h.01M446.4,162.3h.01M467.6,146.0h.01M500.3,140.5h.01M487.4,139.0h.01M491.2,135.3h.01M490.9,140.6h.01M483.8,141.1h.01M489.1,139.9h.01M493.5,128.2h.01M471.1,149.5h.01M491.4,130.9h.01M508.5,133.9h.01M480.5,151.7h.01M458.5,160.4h.01M468.2,160.1h.01M500.9,134.1h.01M476.7,142.0h.01M492.2,134.5h.01M493.0,128.0h.01M494.9,138.2h.01M452.6,158.0h.01M476.1,145.2h.01M463.5,157.5h.01M471.4,151.3h.01M458.8,154.1h.01M492.6,127.5h.01M490.6,146.3h.01M495.1,127.9h.01M516.8,116.9h.01M502.7,135.1h.01M484.5,146.1h.01M449.0,167.9h.01M488.6,137.8h.01M491.7,143.4h.01M498.7,129.2h.01M501.2,137.3h.01M489.8,141.0h.01M449.0,158.7h.01M488.5,131.5h.01" stroke="#f0c8a0" stroke-opacity="0.5" stroke-width="0.9" stroke-linecap="round" fill="none"/>
<path d="M459.2,175 L462.0,156 L468.6,154.2 L468.6,169 L464.0,174 Z" fill="#3f97dc" fill-opacity="0.9"/>
<path d="M461.6,158.3h.01M466.6,158.0h.01M463.4,149.0h.01M466.6,161.4h.01M463.8,154.1h.01M456.9,162.2h.01M461.6,161.8h.01M469.2,160.6h.01M462.5,170.7h.01M463.5,163.9h.01M462.2,154.8h.01M458.1,170.4h.01M468.7,159.9h.01M464.6,160.1h.01M470.8,173.4h.01M463.1,169.6h.01M469.9,156.3h.01M465.5,169.5h.01M463.4,170.7h.01M468.0,165.0h.01M462.1,171.7h.01M464.4,167.8h.01M469.8,168.5h.01M466.3,153.3h.01M465.1,167.5h.01M465.5,169.3h.01M466.3,166.8h.01M464.1,169.3h.01M464.0,156.1h.01M461.5,164.8h.01M460.1,159.6h.01M463.6,166.9h.01M461.5,164.5h.01M465.5,160.1h.01M465.0,163.0h.01M461.8,161.1h.01M459.2,179.7h.01M464.8,159.1h.01M460.4,163.6h.01M465.6,165.0h.01M462.1,155.2h.01M461.1,165.5h.01M462.3,163.3h.01M472.5,150.0h.01M463.9,164.1h.01M458.6,172.3h.01M463.2,167.4h.01M464.2,176.4h.01M463.6,158.9h.01M462.7,153.5h.01M470.5,161.6h.01M458.5,169.3h.01M471.2,157.3h.01M466.5,152.9h.01M459.0,161.8h.01M462.8,153.9h.01M464.0,167.7h.01M462.1,174.9h.01M463.2,161.2h.01M463.9,183.5h.01M469.1,173.4h.01M466.9,153.3h.01M469.0,164.4h.01M471.3,166.1h.01M457.2,172.7h.01M465.9,159.9h.01M465.0,164.5h.01M468.1,149.6h.01M464.0,168.1h.01M459.0,174.5h.01M467.1,147.2h.01M469.8,162.1h.01M465.0,162.7h.01M470.3,165.7h.01M463.5,158.6h.01M465.4,169.8h.01M461.2,172.0h.01M462.3,165.4h.01M465.7,167.1h.01M465.0,166.9h.01M462.8,166.0h.01M467.4,154.2h.01M459.9,166.2h.01M464.2,165.8h.01M466.2,168.0h.01M462.2,168.6h.01M459.9,178.5h.01M467.6,165.1h.01M461.9,168.3h.01M465.2,158.0h.01M466.0,165.6h.01M467.4,163.4h.01M467.7,180.0h.01M462.9,146.6h.01M459.5,176.8h.01M466.3,166.0h.01M467.2,154.5h.01M466.6,156.1h.01M465.8,161.8h.01M463.8,160.0h.01M463.5,180.8h.01M458.5,169.7h.01M461.2,177.1h.01M469.1,158.2h.01M462.7,176.5h.01M470.4,160.3h.01M461.2,166.4h.01M467.1,173.0h.01M464.8,169.1h.01M466.0,165.3h.01M460.9,169.9h.01M464.5,172.1h.01M465.2,160.2h.01M465.5,172.1h.01M471.8,154.3h.01M463.6,162.2h.01M474.3,146.4h.01M468.5,158.4h.01M460.3,171.0h.01M471.5,138.4h.01M460.9,163.8h.01M461.4,173.4h.01M462.5,161.7h.01M457.3,167.7h.01M463.6,170.4h.01M459.8,179.2h.01M460.1,178.5h.01M471.2,157.6h.01M466.1,158.9h.01M458.4,167.9h.01M462.6,175.4h.01M471.7,150.7h.01M463.0,167.2h.01M466.8,165.9h.01M462.6,161.6h.01M468.3,153.5h.01M462.4,152.5h.01M460.6,174.3h.01M462.1,169.3h.01M466.7,174.4h.01M465.3,162.9h.01M464.8,161.0h.01M461.6,167.2h.01M468.0,159.3h.01M461.8,163.0h.01M463.3,170.2h.01M464.9,164.6h.01M460.6,158.9h.01M464.4,158.1h.01M465.7,164.0h.01M461.5,166.7h.01M464.3,183.8h.01M464.9,159.6h.01M464.5,178.1h.01M461.9,168.8h.01M462.5,171.0h.01M463.0,159.8h.01M463.9,162.2h.01M461.1,160.9h.01M459.3,178.8h.01" stroke="#4a9fe0" stroke-opacity="0.7" stroke-width="0.9" stroke-linecap="round" fill="none"/>
<path d="M470.0,154.2 L477.0,154.2 L476.0,162 L470.0,168 Z" fill="#3cc03c" fill-opacity="0.4"/>
<path d="M486.5,154.9h.01M483.3,161.1h.01M465.3,158.7h.01M470.3,168.2h.01M482.9,156.1h.01M472.6,173.9h.01M464.4,167.2h.01M473.4,165.0h.01M477.4,149.1h.01M475.2,164.0h.01M468.5,166.6h.01M472.4,154.4h.01M467.8,167.5h.01M475.4,163.1h.01M492.7,153.4h.01M476.2,155.7h.01M478.9,152.9h.01M489.8,157.9h.01M459.6,166.4h.01M473.4,160.3h.01M463.9,162.3h.01M478.5,155.0h.01M465.6,167.7h.01M487.9,163.1h.01M475.3,159.4h.01M469.2,162.9h.01M483.7,163.5h.01M482.8,153.6h.01M484.1,159.7h.01M470.1,148.3h.01M474.6,160.1h.01M483.1,153.0h.01M479.7,159.8h.01M486.5,157.7h.01M487.6,162.0h.01M484.6,159.4h.01M474.7,162.8h.01M489.4,150.0h.01M478.9,158.1h.01M463.6,149.9h.01M482.3,147.2h.01M475.7,171.0h.01M461.7,173.2h.01M466.0,156.1h.01M477.0,154.6h.01M473.8,159.7h.01M487.9,167.2h.01M471.3,171.1h.01M470.5,163.1h.01M460.4,165.9h.01M476.2,166.7h.01M479.5,162.2h.01M475.6,151.4h.01M483.8,152.2h.01M479.6,156.7h.01M479.9,162.4h.01M469.3,181.1h.01M480.9,164.7h.01M477.6,160.3h.01M466.5,166.1h.01M461.9,171.7h.01M479.0,145.0h.01M470.5,163.0h.01M487.5,160.2h.01M476.7,161.1h.01M473.3,159.8h.01M471.4,161.5h.01M475.3,162.1h.01M474.3,166.9h.01M477.7,163.4h.01M465.1,165.1h.01M477.6,161.7h.01M480.4,168.4h.01M479.8,168.1h.01M487.0,156.8h.01M480.7,161.0h.01M471.1,157.0h.01M470.6,161.0h.01M470.9,160.0h.01M469.9,167.1h.01M481.6,150.0h.01M462.7,168.0h.01M464.8,163.0h.01M467.5,167.1h.01M487.2,167.8h.01M463.7,161.1h.01M474.4,161.3h.01M490.4,158.2h.01M464.6,155.8h.01M477.9,156.2h.01M483.9,153.4h.01M470.8,156.7h.01M479.8,166.1h.01M471.7,166.0h.01M475.6,167.9h.01M477.6,163.6h.01M474.8,155.6h.01M473.6,172.5h.01M470.2,158.4h.01M477.9,171.3h.01M480.5,165.2h.01M470.1,182.5h.01M481.3,166.2h.01M473.9,162.4h.01M488.0,164.5h.01M474.6,157.3h.01M489.8,164.7h.01M464.8,164.4h.01M478.5,155.9h.01M462.4,172.4h.01M480.3,162.4h.01M480.1,148.3h.01M472.5,163.5h.01M476.0,155.7h.01M473.5,157.6h.01M485.8,161.9h.01M473.5,167.5h.01M471.2,168.0h.01M468.2,169.4h.01M486.5,158.9h.01M465.3,171.1h.01M479.0,168.8h.01M483.9,165.1h.01M468.7,158.9h.01M462.2,174.8h.01M475.5,163.7h.01M476.0,162.8h.01M480.8,148.4h.01M484.0,163.6h.01M486.0,166.1h.01" stroke="#48c048" stroke-opacity="0.65" stroke-width="0.9" stroke-linecap="round" fill="none"/>
<ellipse transform="translate(484.5,140.0) rotate(-37)" rx="11" ry="3.0" fill="#f58a1e"/>
<path d="M465.6,149.5h.01M469.6,154.0h.01M495.2,131.0h.01M479.7,138.1h.01M485.9,139.1h.01M507.5,135.8h.01M482.8,139.1h.01M483.0,139.6h.01M479.0,148.5h.01M486.3,141.8h.01M469.4,152.1h.01M480.8,149.2h.01M487.9,138.3h.01M484.5,142.7h.01M478.0,142.2h.01M477.8,147.2h.01M484.2,134.5h.01M467.4,156.4h.01M487.4,142.5h.01M491.3,135.1h.01M486.5,140.3h.01M472.3,143.6h.01M496.4,133.5h.01M478.2,147.9h.01M487.4,142.8h.01M502.7,134.4h.01M490.8,141.0h.01M472.7,145.3h.01M472.4,150.9h.01M489.9,135.9h.01M488.8,141.1h.01M481.8,138.8h.01M481.8,144.1h.01M497.1,135.7h.01M488.2,142.7h.01M486.9,142.7h.01M496.7,140.1h.01M474.4,145.3h.01M490.8,143.9h.01M478.9,144.4h.01M499.6,138.7h.01M481.6,146.9h.01M504.1,130.9h.01M487.4,144.1h.01M479.9,139.4h.01M479.8,146.7h.01M480.3,141.2h.01M461.8,151.3h.01M496.8,128.9h.01M478.8,143.9h.01M489.3,129.1h.01M483.0,143.4h.01M473.3,148.6h.01M492.0,129.8h.01M473.9,151.1h.01M469.7,152.9h.01M472.6,145.4h.01M491.7,142.8h.01M492.7,135.9h.01M482.1,142.5h.01M476.2,145.1h.01M483.0,143.6h.01M476.3,150.8h.01M504.5,128.3h.01M496.8,131.2h.01M465.2,153.2h.01M473.4,144.4h.01M472.4,150.9h.01M482.0,144.3h.01M484.3,135.2h.01M502.6,127.5h.01M494.9,132.8h.01M490.2,135.3h.01M469.4,147.0h.01M478.3,147.6h.01M494.9,137.0h.01M482.5,146.9h.01M477.9,144.0h.01M482.3,143.3h.01M473.0,144.0h.01M483.8,144.2h.01M475.4,144.5h.01M488.6,131.8h.01M474.7,149.7h.01M470.9,148.5h.01M472.0,151.2h.01M475.7,152.2h.01M479.1,145.3h.01M477.0,144.0h.01M479.4,149.4h.01M490.3,133.6h.01M474.0,152.3h.01M492.7,128.9h.01M488.2,138.1h.01M474.5,147.8h.01M479.8,147.1h.01M468.0,149.7h.01M481.7,141.8h.01M466.2,156.3h.01M479.2,147.1h.01M477.7,150.5h.01M483.5,144.1h.01M490.1,137.0h.01M482.2,141.4h.01M481.9,145.8h.01M488.5,130.9h.01M490.2,137.3h.01M485.5,142.6h.01M460.5,160.4h.01M473.4,152.9h.01M460.8,158.3h.01M474.4,152.4h.01M493.2,137.1h.01M497.2,132.5h.01M479.0,143.1h.01M469.2,153.2h.01M477.7,154.6h.01M494.1,135.5h.01M511.0,119.6h.01M478.1,145.9h.01M481.0,147.2h.01M479.1,148.4h.01M473.9,155.5h.01M504.9,127.5h.01M467.6,161.6h.01M500.3,123.8h.01M463.8,155.2h.01M491.9,138.2h.01M487.1,140.0h.01M492.5,133.1h.01M492.5,143.4h.01M487.1,133.8h.01M484.0,143.3h.01M496.5,136.0h.01M495.8,129.5h.01M485.4,142.7h.01M490.9,130.3h.01M470.9,151.6h.01M490.2,137.4h.01M487.0,139.0h.01M485.5,137.9h.01M482.8,139.9h.01M498.7,133.8h.01M495.1,131.2h.01M495.7,129.1h.01M491.1,132.0h.01M494.2,129.7h.01M476.8,149.1h.01M485.8,138.8h.01M479.8,144.8h.01M489.4,133.0h.01M487.6,135.1h.01M473.3,151.3h.01M477.7,144.3h.01M496.8,133.3h.01M495.6,135.6h.01M495.8,136.7h.01M478.2,145.2h.01M486.3,135.3h.01M491.9,134.0h.01M474.2,148.8h.01M480.2,140.7h.01M473.1,147.5h.01M497.0,141.6h.01M479.1,153.0h.01M474.2,146.3h.01M479.7,146.7h.01M491.8,138.0h.01M489.8,136.1h.01M472.9,149.9h.01M483.8,142.3h.01M481.7,138.2h.01M474.0,146.4h.01M493.7,131.3h.01M480.3,141.5h.01M474.0,152.0h.01M498.7,127.1h.01M487.6,134.5h.01M482.4,135.3h.01M484.9,138.4h.01M480.0,134.0h.01M484.9,134.8h.01M494.2,134.0h.01M500.8,130.7h.01M463.6,150.8h.01M496.3,134.9h.01M504.4,124.9h.01M493.4,137.1h.01M493.8,133.8h.01M479.1,144.4h.01M501.5,123.1h.01M480.6,144.8h.01M477.2,151.0h.01M493.9,131.5h.01M480.1,145.7h.01M481.2,146.6h.01M487.6,134.7h.01M484.3,138.7h.01M490.6,137.4h.01M502.3,135.6h.01" stroke="#f59a3a" stroke-opacity="0.7" stroke-width="0.9" stroke-linecap="round" fill="none"/>
<path d="M463.5,152.6 L465.5,148.5 L468.6,148 L468.6,152.6 Z" fill="#b86a9a" fill-opacity="0.85"/>
</g>
</svg>
<rect x="446.40" y="127.40" width="58.90" height="55.00" fill="none" stroke="#8e8e8e" stroke-width="0.9"/>
<line x1="469.30" y1="127.40" x2="469.30" y2="182.40" stroke="#4a4a4a" stroke-width="1.0"/>
<line x1="446.40" y1="153.40" x2="505.30" y2="153.40" stroke="#4a4a4a" stroke-width="1.0"/>
<text x="448.00" y="131.00" font-size="2.90" fill="#2a2a2a" style="stroke:#2a2a2a;stroke-width:0.05px">Q1</text>
<text x="448.00" y="134.00" font-size="2.90" fill="#2a2a2a" style="stroke:#2a2a2a;stroke-width:0.05px">2.51</text>
<text x="503.50" y="131.00" font-size="2.90" text-anchor="end" fill="#2a2a2a" style="stroke:#2a2a2a;stroke-width:0.05px">Q2</text>
<text x="503.50" y="134.00" font-size="2.90" text-anchor="end" fill="#2a2a2a" style="stroke:#2a2a2a;stroke-width:0.05px">56.1</text>
<text x="448.00" y="178.00" font-size="2.90" fill="#2a2a2a" style="stroke:#2a2a2a;stroke-width:0.05px">Q4</text>
<text x="448.00" y="181.00" font-size="2.90" fill="#2a2a2a" style="stroke:#2a2a2a;stroke-width:0.05px">33.6</text>
<text x="503.50" y="178.00" font-size="2.90" text-anchor="end" fill="#2a2a2a" style="stroke:#2a2a2a;stroke-width:0.05px">Q3</text>
<text x="503.50" y="181.00" font-size="2.90" text-anchor="end" fill="#2a2a2a" style="stroke:#2a2a2a;stroke-width:0.05px">7.56</text>
<svg x="395.1" y="513.5" width="65.40" height="61.80" viewBox="395.1 513.5 65.40 61.80">
<g filter="url(#b0)">
<path d="M414.4,550.1h.01M416.8,545.1h.01M414.4,558.2h.01M414.8,550.4h.01M414.8,552.9h.01M416.2,557.4h.01M418.0,544.5h.01M415.6,545.9h.01M415.2,551.3h.01M416.3,545.0h.01M413.7,566.1h.01M412.9,563.8h.01M415.0,543.0h.01M415.7,547.3h.01M416.2,545.5h.01M415.3,551.7h.01M416.9,552.2h.01M417.2,550.6h.01M420.2,532.8h.01M415.4,551.3h.01M415.6,551.8h.01M415.6,558.2h.01M415.9,549.0h.01M414.7,550.4h.01M415.3,551.9h.01M415.4,551.7h.01M416.0,542.0h.01M415.5,545.5h.01M417.3,548.6h.01M415.9,555.6h.01M416.8,548.2h.01M417.5,536.0h.01M417.3,544.7h.01M413.3,553.5h.01M416.4,539.4h.01M416.1,557.4h.01M416.3,545.6h.01M415.7,561.1h.01M415.1,547.3h.01M415.0,550.3h.01" stroke="#8a8ae0" stroke-opacity="0.45" stroke-width="0.9" stroke-linecap="round" fill="none"/>
<g transform="translate(415.4,559.6) rotate(5) scale(0.78)"><path d="M-3.8,4.2 C-5,1 -3,-5 -0.5,-9.5 C0.2,-10.5 1.2,-10.5 1.6,-9.5 C3.5,-5 5.2,-0.5 4.6,2.2 C4,5 -2.5,6.2 -3.8,4.2Z" fill="#3f62e6"/><path d="M-3,3.6 C-4,1 -2.4,-3.5 -0.3,-6.6 C0.3,-7.4 0.9,-7.2 1.3,-6.4 C2.8,-3.2 4,-0.2 3.5,1.9 C3,4.2 -2,5 -3,3.6Z" fill="#2aa8e0"/><ellipse cx="-0.2" cy="0.6" rx="2.9" ry="3.6" fill="#2fd0a0"/><ellipse cx="-0.5" cy="1.3" rx="2.2" ry="2.6" fill="#58d84a"/><ellipse cx="-0.9" cy="2" rx="1.5" ry="1.6" fill="#d8e030"/><ellipse cx="-1.2" cy="2.4" rx="0.8" ry="0.8" fill="#f0a020"/></g>
</g>
</svg>
<rect x="395.10" y="513.50" width="65.40" height="61.80" fill="none" stroke="#8e8e8e" stroke-width="0.9"/>
<line x1="431.50" y1="513.50" x2="431.50" y2="575.30" stroke="#4a4a4a" stroke-width="1.0"/>
<line x1="395.10" y1="539.30" x2="460.50" y2="539.30" stroke="#4a4a4a" stroke-width="1.0"/>
<text x="396.70" y="517.10" font-size="2.90" fill="#2a2a2a" style="stroke:#2a2a2a;stroke-width:0.05px">Q1</text>
<text x="396.70" y="520.10" font-size="2.90" fill="#2a2a2a" style="stroke:#2a2a2a;stroke-width:0.05px">0.032</text>
<text x="458.70" y="517.10" font-size="2.90" text-anchor="end" fill="#2a2a2a" style="stroke:#2a2a2a;stroke-width:0.05px">Q2</text>
<text x="458.70" y="520.10" font-size="2.90" text-anchor="end" fill="#2a2a2a" style="stroke:#2a2a2a;stroke-width:0.05px">0</text>
<text x="396.70" y="570.90" font-size="2.90" fill="#2a2a2a" style="stroke:#2a2a2a;stroke-width:0.05px">Q4</text>
<text x="396.70" y="573.90" font-size="2.90" fill="#2a2a2a" style="stroke:#2a2a2a;stroke-width:0.05px">99.9</text>
<text x="458.70" y="570.90" font-size="2.90" text-anchor="end" fill="#2a2a2a" style="stroke:#2a2a2a;stroke-width:0.05px">Q3</text>
<text x="458.70" y="573.90" font-size="2.90" text-anchor="end" fill="#2a2a2a" style="stroke:#2a2a2a;stroke-width:0.05px">0</text>
<svg x="395.1" y="579.5" width="65.40" height="62.10" viewBox="395.1 579.5 65.40 62.10">
<g filter="url(#b0)">
<path d="M418.2,619.5h.01M430.5,604.3h.01M437.7,604.8h.01M429.6,609.4h.01M435.8,605.4h.01M427.5,604.5h.01M431.2,615.5h.01M427.5,606.8h.01M425.6,618.5h.01M440.9,596.0h.01M430.7,601.8h.01M428.8,615.1h.01M415.0,624.1h.01M418.6,618.1h.01M425.4,611.0h.01M421.8,618.5h.01M427.8,609.1h.01M404.1,625.6h.01M406.2,622.0h.01M418.6,620.9h.01M420.3,619.7h.01M422.9,615.5h.01M436.9,600.7h.01M417.0,614.1h.01M427.4,613.2h.01M438.0,598.6h.01M412.1,625.9h.01M426.1,610.7h.01M420.3,619.9h.01M420.9,620.7h.01M424.0,615.3h.01M428.1,605.7h.01M424.2,610.5h.01M423.2,618.9h.01M432.8,606.2h.01M429.7,612.2h.01M424.1,620.8h.01M417.7,618.5h.01M414.7,618.5h.01M430.4,615.2h.01M422.7,613.8h.01M415.4,619.5h.01M445.8,599.8h.01M400.2,624.3h.01M415.7,621.2h.01M433.5,610.2h.01M419.0,617.8h.01M427.2,604.8h.01M446.9,599.1h.01M410.4,630.5h.01M422.1,615.5h.01M415.3,619.4h.01M423.2,608.3h.01M420.0,620.1h.01M411.3,625.3h.01M424.4,608.2h.01M425.2,612.6h.01M418.2,616.2h.01M427.1,606.2h.01M426.9,609.9h.01M425.1,610.0h.01M426.7,615.4h.01M424.8,617.3h.01M412.6,623.1h.01M435.6,603.8h.01M417.9,623.0h.01M423.4,621.8h.01M425.7,613.4h.01M418.8,611.1h.01M429.0,612.5h.01M420.1,618.1h.01M415.1,619.3h.01M409.8,621.9h.01M428.3,612.6h.01M415.7,615.0h.01M420.9,612.1h.01M425.2,613.3h.01M423.5,616.9h.01M421.5,611.0h.01M423.7,611.0h.01M424.3,617.5h.01M427.7,615.0h.01M432.4,604.5h.01M430.3,613.4h.01M408.1,625.8h.01M437.5,604.6h.01M417.3,616.7h.01M422.3,616.1h.01M429.3,606.5h.01M415.2,624.1h.01M420.3,609.9h.01M416.0,623.9h.01M416.6,618.9h.01M425.1,609.7h.01M430.8,611.4h.01M420.1,616.6h.01M417.4,607.4h.01M412.9,620.4h.01M424.2,615.1h.01M420.2,622.8h.01M427.3,606.6h.01M421.8,618.6h.01M417.2,618.1h.01M408.4,626.4h.01M433.3,610.7h.01M424.4,615.7h.01M415.4,623.9h.01M418.0,620.7h.01M415.3,616.9h.01M428.7,597.5h.01M432.8,601.7h.01M430.9,610.9h.01M424.1,618.5h.01M442.6,603.0h.01M425.7,615.2h.01M428.8,605.5h.01M428.1,609.8h.01M423.1,613.4h.01M422.0,612.5h.01M433.9,606.8h.01M424.9,612.8h.01M419.0,616.6h.01M408.2,632.4h.01M430.0,599.7h.01M412.8,623.6h.01M414.0,625.8h.01M426.8,610.1h.01M433.1,605.0h.01M412.6,619.7h.01M426.7,613.2h.01M413.9,626.8h.01M414.6,626.0h.01M410.2,627.2h.01M435.0,607.6h.01M425.8,616.1h.01M436.8,604.2h.01M413.0,624.0h.01M421.3,616.3h.01M423.1,613.1h.01M429.5,612.7h.01M423.0,608.6h.01M408.6,619.1h.01M425.5,609.1h.01M422.0,616.5h.01M426.8,605.4h.01M419.7,615.7h.01M419.3,619.4h.01M430.9,606.3h.01M429.0,607.3h.01M420.1,612.8h.01M425.3,615.7h.01M433.7,602.2h.01M425.9,615.7h.01M415.3,617.4h.01M421.6,614.1h.01M421.4,617.8h.01M414.0,613.1h.01M432.0,607.5h.01M441.1,597.3h.01M433.7,605.7h.01M416.2,616.3h.01M416.6,614.1h.01M417.8,620.4h.01M441.1,604.3h.01M423.4,616.3h.01M421.6,612.9h.01M412.2,617.7h.01M431.5,614.2h.01M429.5,604.8h.01M416.8,625.6h.01M410.5,615.5h.01M411.3,630.5h.01M414.7,626.0h.01M424.6,615.6h.01M438.6,608.8h.01M418.8,606.8h.01M421.9,614.3h.01M413.3,620.5h.01M420.9,622.0h.01M434.0,603.2h.01M423.6,614.7h.01M431.9,602.0h.01M428.2,617.7h.01M426.2,615.6h.01M403.3,629.1h.01M426.3,605.3h.01M416.4,619.0h.01M417.8,613.3h.01M421.0,613.3h.01M417.5,628.6h.01M413.2,614.7h.01M419.0,612.8h.01M424.9,612.7h.01M427.7,604.0h.01M422.2,610.0h.01M422.0,614.3h.01M426.1,607.4h.01M423.4,614.3h.01M420.0,624.6h.01M429.8,606.0h.01M431.3,613.8h.01M429.7,612.7h.01M442.7,595.6h.01M412.3,626.7h.01M427.3,614.2h.01M428.5,610.9h.01M423.7,616.7h.01M428.3,612.1h.01M436.6,613.2h.01M427.3,614.1h.01M413.0,620.2h.01M419.5,626.0h.01M436.4,611.6h.01M435.3,605.4h.01M433.2,599.7h.01M426.8,614.2h.01M422.1,614.9h.01M421.1,611.7h.01M428.6,612.8h.01M414.5,619.8h.01M426.4,606.4h.01M438.2,594.5h.01M420.4,613.9h.01M428.7,608.8h.01M411.5,621.4h.01M437.5,600.5h.01M432.1,607.4h.01M417.6,621.6h.01M437.1,602.9h.01M424.9,607.7h.01M428.4,601.5h.01M433.2,598.1h.01M421.8,616.5h.01M422.7,611.4h.01M439.9,609.9h.01M432.7,604.1h.01M412.7,624.8h.01M433.0,605.0h.01M439.3,603.1h.01M433.0,605.7h.01M425.3,615.9h.01M411.1,622.4h.01M435.1,607.0h.01M427.7,602.4h.01M429.4,606.4h.01M421.4,621.2h.01M413.1,622.8h.01M430.6,608.2h.01M417.8,620.3h.01M422.7,611.1h.01M426.1,608.4h.01M420.7,616.4h.01M408.3,632.6h.01M433.0,609.7h.01M403.9,626.8h.01M445.2,596.7h.01M423.9,610.0h.01M419.9,617.4h.01M429.1,615.4h.01M422.6,616.0h.01" stroke="#5a6ae0" stroke-opacity="0.55" stroke-width="0.8" stroke-linecap="round" fill="none"/>
<path d="M421.9,623.1h.01M414.9,620.8h.01M414.6,620.2h.01M417.1,620.8h.01M422.8,618.7h.01M419.0,618.2h.01M419.6,623.4h.01M415.2,621.0h.01M419.4,609.1h.01M416.7,620.0h.01M420.4,610.7h.01M414.7,625.4h.01M421.3,608.6h.01M421.7,620.8h.01M418.4,616.0h.01M420.2,620.1h.01M417.7,616.7h.01M425.0,620.6h.01M426.9,617.1h.01M430.8,615.9h.01M421.8,619.1h.01M415.0,625.2h.01M414.6,624.1h.01M425.1,624.6h.01M423.1,621.0h.01M418.1,615.2h.01M426.0,616.2h.01M423.9,618.0h.01M419.9,623.8h.01M429.1,619.6h.01M418.0,614.1h.01M421.0,622.7h.01M422.0,622.2h.01M414.3,624.4h.01M429.4,617.1h.01M420.8,613.8h.01M417.8,619.9h.01M420.5,619.7h.01M426.4,618.3h.01M425.1,621.8h.01M417.4,615.4h.01M414.4,617.1h.01M413.8,619.3h.01M417.1,618.7h.01M421.7,616.9h.01M422.6,619.2h.01M416.6,608.1h.01M421.2,617.3h.01M418.3,626.1h.01M423.9,618.6h.01M416.2,620.2h.01M421.2,623.3h.01M428.4,619.5h.01M417.8,621.1h.01M416.4,621.9h.01M417.9,618.9h.01M419.4,620.6h.01M414.5,619.9h.01M417.1,613.8h.01M414.4,622.7h.01M420.7,623.9h.01M418.7,623.6h.01M419.4,619.2h.01M424.2,621.5h.01M423.6,618.9h.01M418.1,614.5h.01M417.6,616.0h.01M423.1,615.7h.01M416.6,615.4h.01M419.4,627.3h.01M418.9,628.8h.01M417.5,617.4h.01M413.4,618.6h.01M413.0,620.4h.01M417.9,626.0h.01M412.0,620.3h.01M416.2,614.7h.01M416.8,620.7h.01M424.4,618.0h.01M416.4,622.0h.01M413.0,625.1h.01M419.8,610.1h.01M422.4,619.1h.01M419.5,611.1h.01M425.5,622.6h.01M423.3,616.7h.01M415.2,618.9h.01M419.4,616.1h.01M423.9,619.7h.01M423.2,624.5h.01M417.7,618.2h.01M420.9,619.4h.01M421.4,616.3h.01M422.7,620.1h.01M418.3,621.3h.01M415.3,616.6h.01M420.5,629.7h.01M413.3,622.1h.01M420.4,623.1h.01M420.6,616.6h.01M421.7,616.0h.01M423.1,616.2h.01M418.7,613.4h.01M418.8,619.9h.01M405.8,627.5h.01M417.9,611.3h.01M422.0,617.9h.01M421.7,625.5h.01M415.9,620.3h.01M423.0,617.7h.01M413.8,618.2h.01M421.9,613.6h.01M419.3,618.9h.01M420.1,621.0h.01M422.6,625.2h.01M413.2,622.8h.01M420.5,614.8h.01M419.2,619.9h.01M413.5,621.0h.01M422.1,616.0h.01M428.6,629.7h.01M422.5,617.4h.01M408.7,618.9h.01M422.3,622.1h.01M418.4,617.1h.01M422.5,617.2h.01M416.3,615.5h.01M419.7,615.7h.01M415.9,614.9h.01M424.6,613.5h.01M416.4,619.3h.01M418.6,620.8h.01M425.6,618.2h.01M422.9,614.4h.01M422.6,624.8h.01M415.6,608.6h.01M420.4,617.0h.01M419.0,622.1h.01M420.0,618.2h.01M423.5,621.8h.01M421.0,627.5h.01M424.7,619.1h.01M420.4,614.9h.01M417.9,626.6h.01M421.2,614.1h.01M415.3,615.7h.01M419.8,622.9h.01M425.0,622.3h.01M420.9,611.7h.01M415.7,619.3h.01M420.1,618.3h.01M417.0,618.6h.01M412.8,624.0h.01M421.0,613.5h.01M422.5,615.0h.01M418.1,619.9h.01M424.3,619.3h.01M416.2,612.7h.01M417.3,629.0h.01M424.6,617.5h.01M420.9,621.0h.01M419.2,625.9h.01M425.5,619.6h.01M415.1,617.2h.01M416.0,619.7h.01M419.6,620.9h.01M415.9,620.8h.01M415.1,614.6h.01M417.1,618.8h.01M414.8,617.1h.01M415.6,621.4h.01M417.5,619.0h.01M420.3,616.3h.01M418.1,618.1h.01M414.1,622.3h.01M413.1,619.7h.01M420.7,623.8h.01M421.1,614.7h.01M418.7,617.4h.01M419.8,620.5h.01M427.9,617.8h.01M415.6,622.5h.01M414.5,617.3h.01M412.3,616.7h.01M412.9,618.0h.01M424.6,622.7h.01M416.3,628.5h.01M419.3,615.7h.01M419.8,621.3h.01M420.4,620.5h.01M412.7,616.2h.01M415.7,616.4h.01M419.2,614.9h.01M419.6,619.2h.01M419.2,611.3h.01M422.9,614.1h.01M428.4,612.8h.01M410.9,616.5h.01M429.5,612.2h.01M422.9,618.5h.01M420.3,618.9h.01M422.2,622.8h.01M414.3,626.8h.01M423.5,621.8h.01M424.3,624.0h.01M426.7,617.9h.01M420.8,613.7h.01M421.5,612.4h.01M411.7,606.3h.01M421.2,615.8h.01M418.5,617.2h.01M415.9,623.0h.01M420.7,625.2h.01M421.4,617.2h.01M422.0,620.2h.01M428.7,612.9h.01M418.2,616.8h.01M423.6,620.5h.01M419.2,614.7h.01M414.7,626.1h.01" stroke="#4a5ee6" stroke-opacity="0.7" stroke-width="0.9" stroke-linecap="round" fill="none"/>
<path d="M430.7,608.8h.01M439.7,597.0h.01M425.1,611.4h.01M431.6,610.7h.01M438.3,600.4h.01M429.4,607.6h.01M427.6,606.3h.01M440.2,599.9h.01M419.0,616.1h.01M437.8,595.7h.01M442.2,600.1h.01M428.2,608.1h.01M441.9,605.4h.01M429.2,606.3h.01M423.5,614.3h.01M434.1,599.0h.01M428.5,616.7h.01M435.3,601.0h.01M441.7,601.3h.01M438.1,607.9h.01M451.7,590.2h.01M446.6,599.2h.01M432.3,606.8h.01M444.6,595.5h.01M443.2,596.6h.01M438.9,604.7h.01M441.7,602.2h.01M430.6,603.0h.01M448.6,592.6h.01M436.7,606.0h.01M444.1,591.1h.01M439.0,601.5h.01M434.5,600.8h.01M430.6,603.0h.01M452.5,588.8h.01M454.1,587.6h.01M427.5,608.7h.01M447.0,599.1h.01M426.4,611.3h.01M435.4,606.4h.01M423.8,613.1h.01M435.1,605.5h.01M417.1,614.5h.01M412.7,619.2h.01M444.9,600.8h.01M433.8,604.6h.01M444.4,600.6h.01M437.1,600.5h.01M425.8,605.4h.01M440.0,605.8h.01M439.3,601.7h.01M437.9,594.9h.01M431.1,603.5h.01M428.2,606.0h.01M418.6,613.0h.01M429.6,608.8h.01M439.9,603.6h.01M435.0,600.6h.01M436.5,604.5h.01M435.6,602.9h.01M433.6,606.5h.01M431.1,601.8h.01M433.9,603.4h.01M436.6,605.1h.01M450.6,586.6h.01M435.9,598.9h.01M427.3,612.5h.01M427.8,608.9h.01M437.3,603.0h.01M436.6,604.4h.01M430.9,601.4h.01M448.2,598.5h.01M435.3,600.5h.01M433.5,601.3h.01M425.9,606.9h.01M444.8,593.6h.01M440.8,603.6h.01M429.1,605.6h.01M421.4,623.6h.01M449.0,590.6h.01M423.8,613.5h.01M437.6,602.6h.01M438.4,605.5h.01M449.2,590.7h.01M433.2,604.2h.01M436.9,601.3h.01M441.2,602.6h.01M436.3,601.7h.01M434.7,599.4h.01M428.2,606.1h.01" stroke="#7a7adc" stroke-opacity="0.45" stroke-width="0.8" stroke-linecap="round" fill="none"/>
<path d="M452.1,591.2h.01M449.0,590.8h.01M448.8,590.6h.01M433.2,592.2h.01M443.5,592.2h.01M443.7,592.1h.01M440.2,592.7h.01M447.3,591.7h.01M433.3,594.9h.01M451.6,590.6h.01M450.9,589.7h.01M444.9,592.2h.01M442.5,592.2h.01M452.8,589.9h.01M445.8,590.1h.01M448.8,590.9h.01M448.4,591.3h.01M433.3,594.4h.01M454.6,590.0h.01M442.2,592.3h.01M433.3,592.4h.01M435.3,592.3h.01M437.6,593.3h.01M454.9,590.2h.01M440.1,592.3h.01M445.9,592.7h.01M437.5,590.6h.01M436.4,593.7h.01M442.3,591.8h.01M448.6,590.8h.01" stroke="#8a8ae0" stroke-opacity="0.5" stroke-width="0.8" stroke-linecap="round" fill="none"/>
<path d="M424.1,597.1h.01M428.0,596.1h.01M423.8,601.7h.01M424.6,593.9h.01M421.3,602.4h.01M419.5,601.2h.01M424.5,599.5h.01M422.6,600.0h.01M423.3,599.9h.01M426.3,596.4h.01M424.7,599.9h.01M421.2,598.3h.01M422.6,596.2h.01M427.8,595.3h.01M424.0,597.5h.01M427.1,592.8h.01M424.6,597.7h.01M425.7,596.5h.01M425.7,597.7h.01M427.7,595.9h.01M425.1,594.3h.01M419.1,599.8h.01M424.2,597.7h.01M426.5,596.0h.01M422.5,601.0h.01M426.3,595.3h.01M421.0,601.2h.01M422.9,599.4h.01M428.5,596.5h.01M426.1,595.1h.01" stroke="#8a8ae0" stroke-opacity="0.5" stroke-width="0.8" stroke-linecap="round" fill="none"/>
<g transform="translate(417.2,623.6) rotate(28) scale(1.1)"><path d="M-3.8,4.2 C-5,1 -3,-5 -0.5,-9.5 C0.2,-10.5 1.2,-10.5 1.6,-9.5 C3.5,-5 5.2,-0.5 4.6,2.2 C4,5 -2.5,6.2 -3.8,4.2Z" fill="#3f62e6"/><path d="M-3,3.6 C-4,1 -2.4,-3.5 -0.3,-6.6 C0.3,-7.4 0.9,-7.2 1.3,-6.4 C2.8,-3.2 4,-0.2 3.5,1.9 C3,4.2 -2,5 -3,3.6Z" fill="#2aa8e0"/><ellipse cx="-0.2" cy="0.6" rx="2.9" ry="3.6" fill="#2fd0a0"/><ellipse cx="-0.5" cy="1.3" rx="2.2" ry="2.6" fill="#58d84a"/><ellipse cx="-0.9" cy="2" rx="1.5" ry="1.6" fill="#d8e030"/><ellipse cx="-1.2" cy="2.4" rx="0.8" ry="0.8" fill="#f0a020"/></g>
</g>
</svg>
<rect x="395.10" y="579.50" width="65.40" height="62.10" fill="none" stroke="#8e8e8e" stroke-width="0.9"/>
<line x1="431.50" y1="579.50" x2="431.50" y2="641.60" stroke="#4a4a4a" stroke-width="1.0"/>
<line x1="395.10" y1="605.80" x2="460.50" y2="605.80" stroke="#4a4a4a" stroke-width="1.0"/>
<text x="396.70" y="583.10" font-size="2.90" fill="#2a2a2a" style="stroke:#2a2a2a;stroke-width:0.05px">Q1</text>
<text x="396.70" y="586.10" font-size="2.90" fill="#2a2a2a" style="stroke:#2a2a2a;stroke-width:0.05px">1.18</text>
<text x="458.70" y="583.10" font-size="2.90" text-anchor="end" fill="#2a2a2a" style="stroke:#2a2a2a;stroke-width:0.05px">Q2</text>
<text x="458.70" y="586.10" font-size="2.90" text-anchor="end" fill="#2a2a2a" style="stroke:#2a2a2a;stroke-width:0.05px">1.23</text>
<text x="396.70" y="637.20" font-size="2.90" fill="#2a2a2a" style="stroke:#2a2a2a;stroke-width:0.05px">Q4</text>
<text x="396.70" y="640.20" font-size="2.90" fill="#2a2a2a" style="stroke:#2a2a2a;stroke-width:0.05px">94.7</text>
<text x="458.70" y="637.20" font-size="2.90" text-anchor="end" fill="#2a2a2a" style="stroke:#2a2a2a;stroke-width:0.05px">Q3</text>
<text x="458.70" y="640.20" font-size="2.90" text-anchor="end" fill="#2a2a2a" style="stroke:#2a2a2a;stroke-width:0.05px">2.90</text>
<svg x="469.1" y="579.5" width="65.80" height="62.10" viewBox="469.1 579.5 65.80 62.10">
<g filter="url(#b0)">
<path d="M487.1,623.8h.01M485.9,629.9h.01M522.8,592.1h.01M489.8,612.3h.01M498.3,609.7h.01M499.9,605.0h.01M511.5,608.3h.01M487.2,625.5h.01M510.4,605.4h.01M501.0,610.4h.01M500.4,611.7h.01M492.2,616.4h.01M507.0,613.1h.01M496.7,609.5h.01M504.8,614.4h.01M490.0,618.9h.01M497.4,617.8h.01M493.0,617.7h.01M507.2,604.8h.01M499.4,613.3h.01M499.1,618.9h.01M498.5,611.6h.01M498.5,608.8h.01M504.8,599.2h.01M497.7,619.7h.01M491.8,617.1h.01M508.8,601.7h.01M502.0,608.6h.01M502.4,619.7h.01M497.7,617.6h.01M500.1,619.9h.01M497.9,615.4h.01M515.4,604.1h.01M503.2,609.3h.01M495.4,620.6h.01M503.4,597.2h.01M486.5,624.5h.01M496.5,619.5h.01M512.1,602.1h.01M485.3,622.9h.01M502.7,601.4h.01M510.7,600.7h.01M505.0,609.4h.01M494.1,614.8h.01M493.2,620.3h.01M505.4,610.0h.01M485.0,614.9h.01M489.2,615.5h.01M515.0,609.6h.01M495.7,607.8h.01M488.0,622.9h.01M504.9,608.7h.01M523.3,592.5h.01M492.9,622.8h.01M495.6,609.9h.01M520.0,591.5h.01M495.6,615.3h.01M497.3,608.1h.01M511.6,601.8h.01M476.3,624.6h.01M489.8,617.6h.01M502.6,610.7h.01M492.3,609.3h.01M494.2,621.3h.01M498.2,613.0h.01M500.0,613.8h.01M498.6,610.7h.01M502.7,613.5h.01M502.7,606.7h.01M496.4,621.7h.01M481.2,630.0h.01M491.3,618.7h.01M505.0,602.8h.01M484.4,627.7h.01M496.7,616.9h.01M501.4,613.4h.01M498.1,604.6h.01M499.5,612.7h.01M498.7,612.9h.01M490.7,617.3h.01M493.7,614.7h.01M487.1,616.3h.01M498.7,624.7h.01M500.5,625.8h.01M515.1,596.5h.01M486.9,627.0h.01M504.0,605.7h.01M496.6,609.9h.01M502.9,618.5h.01M491.1,611.5h.01M506.7,607.3h.01M508.1,605.2h.01M489.6,619.0h.01M489.9,621.4h.01M506.4,606.2h.01M494.4,610.6h.01M503.6,608.1h.01M499.0,613.1h.01M494.6,618.4h.01M486.9,625.8h.01M507.6,603.2h.01M512.8,607.7h.01M508.8,599.6h.01M501.9,615.2h.01M501.7,616.5h.01M506.6,601.2h.01M485.0,624.1h.01M504.5,611.5h.01M501.0,610.9h.01M507.0,606.7h.01M499.5,619.9h.01M504.4,612.3h.01M490.5,619.0h.01M497.1,617.9h.01M482.7,620.0h.01M477.7,635.2h.01M510.0,607.8h.01M485.2,620.0h.01M502.0,610.5h.01M503.2,608.4h.01M477.2,626.2h.01M484.3,625.8h.01M500.0,611.3h.01M491.5,624.4h.01M509.1,608.1h.01M508.9,601.8h.01M498.8,607.3h.01M511.8,596.7h.01M503.3,605.0h.01M490.7,616.4h.01M507.0,615.4h.01M494.2,617.8h.01M513.4,603.0h.01M496.9,614.8h.01M489.4,619.8h.01M491.0,619.8h.01M489.0,622.0h.01M494.8,617.6h.01M508.7,605.0h.01M495.4,615.8h.01M505.5,606.9h.01M503.1,610.8h.01M486.8,624.1h.01M510.2,604.4h.01M492.6,615.0h.01M476.0,633.8h.01M509.8,601.2h.01M491.3,621.1h.01M480.7,616.0h.01M487.1,624.3h.01M498.1,615.1h.01M503.1,611.1h.01M496.4,611.2h.01M504.3,610.8h.01M495.6,603.3h.01M475.8,631.3h.01M501.4,626.2h.01M509.9,600.2h.01M510.8,597.9h.01M498.5,611.3h.01M495.8,615.6h.01M496.1,609.0h.01M501.1,616.3h.01M494.0,608.2h.01M496.4,609.1h.01M498.4,608.5h.01M493.7,615.1h.01M490.1,617.5h.01M495.1,616.4h.01M498.6,610.3h.01" stroke="#5a6ae0" stroke-opacity="0.55" stroke-width="0.8" stroke-linecap="round" fill="none"/>
<path d="M493.6,613.9h.01M495.7,618.8h.01M496.1,626.9h.01M495.3,615.3h.01M491.1,623.3h.01M495.4,614.6h.01M494.9,623.6h.01M497.6,615.4h.01M501.4,619.1h.01M488.3,628.7h.01M492.2,622.2h.01M500.1,612.7h.01M503.0,610.4h.01M493.7,609.4h.01M486.7,621.5h.01M490.5,617.0h.01M499.1,615.0h.01M494.7,617.2h.01M489.2,617.0h.01M491.9,625.5h.01M486.1,620.3h.01M491.4,623.5h.01M490.4,619.0h.01M494.0,617.6h.01M493.2,616.9h.01M509.9,622.1h.01M490.2,618.3h.01M490.4,617.5h.01M490.6,617.0h.01M493.3,621.0h.01M490.9,619.9h.01M489.6,621.4h.01M491.1,617.4h.01M492.2,617.9h.01M493.8,616.8h.01M491.9,620.7h.01M493.1,615.6h.01M500.0,619.6h.01M491.9,613.6h.01M487.1,618.9h.01M494.8,615.6h.01M504.2,616.3h.01M487.6,616.7h.01M493.7,616.3h.01M488.8,618.1h.01M497.8,614.1h.01M484.9,622.1h.01M489.9,615.9h.01M491.4,616.7h.01M489.2,620.8h.01M485.7,621.4h.01M496.9,611.8h.01M485.5,616.1h.01M490.6,616.3h.01M491.3,619.4h.01M499.0,620.0h.01M495.3,619.5h.01M498.3,624.1h.01M495.2,617.0h.01M496.0,617.5h.01M491.7,619.1h.01M500.4,623.4h.01M493.1,618.5h.01M493.2,617.0h.01M492.6,625.3h.01M497.9,609.6h.01M495.2,622.2h.01M491.1,616.9h.01M493.5,621.7h.01M500.7,621.8h.01M492.3,614.0h.01M493.3,614.5h.01M490.1,616.3h.01M496.7,613.0h.01M490.0,614.9h.01M492.8,620.1h.01M489.3,617.0h.01M490.6,628.6h.01M502.1,622.8h.01M489.9,617.3h.01M496.5,610.0h.01M489.7,618.3h.01M492.3,618.8h.01M490.9,624.8h.01M494.3,614.0h.01M485.4,619.5h.01M492.0,619.2h.01M493.4,621.9h.01M495.8,620.5h.01M493.6,619.4h.01M497.9,613.6h.01M492.1,612.9h.01M493.7,615.8h.01M497.8,617.0h.01M496.4,615.6h.01M488.3,620.4h.01M489.6,620.1h.01M483.2,620.7h.01M499.4,614.3h.01M491.4,619.9h.01M497.8,623.3h.01M504.4,618.6h.01M494.5,624.0h.01M491.9,616.3h.01M492.7,621.9h.01M489.3,620.9h.01M493.2,615.4h.01M491.2,623.7h.01M492.9,612.0h.01M497.7,620.7h.01M495.1,617.1h.01M494.3,616.4h.01M494.3,623.1h.01M493.0,626.2h.01M487.6,620.9h.01M487.6,622.4h.01M486.4,613.2h.01M495.3,618.3h.01M498.6,619.8h.01M495.1,616.4h.01M495.8,625.4h.01M490.1,614.0h.01M501.9,628.3h.01M484.7,620.4h.01M491.3,619.4h.01M495.5,617.1h.01M486.9,622.8h.01M491.0,615.7h.01M497.2,616.6h.01M494.7,615.1h.01M486.0,617.4h.01M489.8,623.2h.01M491.2,613.1h.01M490.3,620.6h.01M496.7,613.6h.01M491.5,617.3h.01M492.1,620.4h.01M493.7,622.8h.01M491.3,620.3h.01M496.0,617.5h.01M495.8,612.5h.01M500.5,622.1h.01M490.7,619.8h.01M498.1,614.1h.01M496.1,617.8h.01M500.2,616.5h.01M491.3,619.7h.01M486.1,615.9h.01M496.6,624.7h.01M499.1,611.3h.01M487.4,623.2h.01M491.6,621.5h.01M495.2,619.2h.01M494.3,621.0h.01M494.3,619.4h.01M488.6,616.1h.01M492.5,618.9h.01M497.7,623.2h.01M489.5,610.9h.01M492.0,620.6h.01" stroke="#4a5ee6" stroke-opacity="0.7" stroke-width="0.9" stroke-linecap="round" fill="none"/>
<path d="M518.9,597.1h.01M512.0,604.9h.01M512.6,607.3h.01M496.1,612.7h.01M518.0,594.6h.01M505.8,606.8h.01M510.1,601.7h.01M507.4,606.7h.01M507.0,602.0h.01M499.6,611.6h.01M519.2,587.6h.01M500.5,615.9h.01M504.4,602.9h.01M515.5,598.1h.01M507.6,608.4h.01M508.8,606.5h.01M519.4,602.1h.01M526.3,588.1h.01M510.8,599.2h.01M508.3,607.5h.01M514.3,599.6h.01M501.7,610.5h.01M502.2,606.1h.01M525.1,594.0h.01M502.2,611.2h.01M505.5,609.0h.01M527.2,584.5h.01M520.9,600.5h.01M513.1,594.8h.01M509.7,610.1h.01M501.0,608.8h.01M520.3,595.2h.01M514.4,601.7h.01M514.0,597.4h.01M511.8,598.7h.01M517.4,598.9h.01M513.2,601.9h.01M501.8,605.4h.01M518.0,601.1h.01M506.1,606.0h.01M522.1,595.8h.01M521.8,589.9h.01M507.1,604.7h.01M509.3,602.5h.01M510.0,601.6h.01M519.2,594.6h.01M511.5,603.2h.01M511.4,606.9h.01M510.2,604.1h.01M509.1,601.8h.01" stroke="#7a7adc" stroke-opacity="0.45" stroke-width="0.8" stroke-linecap="round" fill="none"/>
<path d="M515.9,589.8h.01M516.4,589.9h.01M523.1,591.8h.01M512.8,593.1h.01M520.3,590.7h.01M522.5,590.9h.01M507.3,593.1h.01M517.3,591.7h.01M516.6,591.6h.01M515.6,592.6h.01M513.9,592.1h.01M519.8,592.7h.01M510.6,593.7h.01M507.9,593.4h.01M529.2,588.2h.01M509.9,592.5h.01M512.4,592.3h.01M517.5,591.4h.01M523.2,590.5h.01M516.8,590.5h.01M522.5,591.5h.01M514.8,592.7h.01M516.5,591.0h.01M516.0,591.9h.01M522.6,590.6h.01M521.8,589.7h.01M525.4,591.4h.01M514.1,590.7h.01M517.7,591.1h.01M503.7,592.9h.01" stroke="#8a8ae0" stroke-opacity="0.5" stroke-width="0.8" stroke-linecap="round" fill="none"/>
<path d="M500.6,594.6h.01M497.6,598.6h.01M500.6,595.3h.01M496.2,597.7h.01M497.5,596.8h.01M497.5,599.7h.01M501.6,595.1h.01M499.7,599.3h.01M497.9,598.3h.01M501.7,594.6h.01M499.6,596.3h.01M494.8,602.1h.01" stroke="#8a8ae0" stroke-opacity="0.5" stroke-width="0.8" stroke-linecap="round" fill="none"/>
<g transform="translate(491.2,623.6) rotate(28) scale(1.0)"><path d="M-3.8,4.2 C-5,1 -3,-5 -0.5,-9.5 C0.2,-10.5 1.2,-10.5 1.6,-9.5 C3.5,-5 5.2,-0.5 4.6,2.2 C4,5 -2.5,6.2 -3.8,4.2Z" fill="#3f62e6"/><path d="M-3,3.6 C-4,1 -2.4,-3.5 -0.3,-6.6 C0.3,-7.4 0.9,-7.2 1.3,-6.4 C2.8,-3.2 4,-0.2 3.5,1.9 C3,4.2 -2,5 -3,3.6Z" fill="#2aa8e0"/><ellipse cx="-0.2" cy="0.6" rx="2.9" ry="3.6" fill="#2fd0a0"/><ellipse cx="-0.5" cy="1.3" rx="2.2" ry="2.6" fill="#58d84a"/><ellipse cx="-0.9" cy="2" rx="1.5" ry="1.6" fill="#d8e030"/><ellipse cx="-1.2" cy="2.4" rx="0.8" ry="0.8" fill="#f0a020"/></g>
</g>
</svg>
<rect x="469.10" y="579.50" width="65.80" height="62.10" fill="none" stroke="#8e8e8e" stroke-width="0.9"/>
<line x1="505.50" y1="579.50" x2="505.50" y2="641.60" stroke="#4a4a4a" stroke-width="1.0"/>
<line x1="469.10" y1="605.80" x2="534.90" y2="605.80" stroke="#4a4a4a" stroke-width="1.0"/>
<text x="470.70" y="583.10" font-size="2.90" fill="#2a2a2a" style="stroke:#2a2a2a;stroke-width:0.05px">Q1</text>
<text x="470.70" y="586.10" font-size="2.90" fill="#2a2a2a" style="stroke:#2a2a2a;stroke-width:0.05px">1.24</text>
<text x="533.10" y="583.10" font-size="2.90" text-anchor="end" fill="#2a2a2a" style="stroke:#2a2a2a;stroke-width:0.05px">Q2</text>
<text x="533.10" y="586.10" font-size="2.90" text-anchor="end" fill="#2a2a2a" style="stroke:#2a2a2a;stroke-width:0.05px">0.96</text>
<text x="470.70" y="637.20" font-size="2.90" fill="#2a2a2a" style="stroke:#2a2a2a;stroke-width:0.05px">Q4</text>
<text x="470.70" y="640.20" font-size="2.90" fill="#2a2a2a" style="stroke:#2a2a2a;stroke-width:0.05px">96.8</text>
<text x="533.10" y="637.20" font-size="2.90" text-anchor="end" fill="#2a2a2a" style="stroke:#2a2a2a;stroke-width:0.05px">Q3</text>
<text x="533.10" y="640.20" font-size="2.90" text-anchor="end" fill="#2a2a2a" style="stroke:#2a2a2a;stroke-width:0.05px">1.01</text>
<g>
<path d="M17.4,594.9 H40.5 C41.6,594 42.1,585 42.6,572.6 C43.2,585 44,591.5 46.5,593.3 C50,594.6 56,594.9 128.5,594.9 V595.6 H17.4Z" fill="#d3e0ee" stroke="#c6d6e8" stroke-width="0.8"/>
<path d="M40.8,628.8 C41.6,620 42.1,600 42.6,590.5 C43.3,606 44.2,620 46.2,624.5 C48.5,627.6 53,628.5 60,628.8Z" fill="#f8cf9c" stroke="#f4c080" stroke-width="0.7"/>
<path d="M42.6,572.6 L42.2,590 L43.1,590 Z" fill="#b9b2a8" stroke="#b9b2a8" stroke-width="0.6"/>
<line x1="60.60" y1="523.20" x2="60.60" y2="628.80" stroke="#111" stroke-width="0.9"/>
<rect x="17.40" y="523.20" width="111.10" height="105.60" fill="none" stroke="#8c8c8c" stroke-width="1.0"/>
</g>
<text transform="translate(2.40,20.70) scale(0.25)" font-size="94.4" style="stroke-width:1.1px">A</text>
<text transform="translate(316.00,20.30) scale(0.25)" font-size="94.4" style="stroke-width:1.1px">B</text>
<text transform="translate(681.10,20.30) scale(0.25)" font-size="94.4" style="stroke-width:1.1px">C</text>
<text transform="translate(0.00,255.30) scale(0.25)" font-size="94.4" style="stroke-width:1.1px">D</text>
<text transform="translate(388.00,254.60) scale(0.25)" font-size="94.4" style="stroke-width:1.1px">E</text>
<text transform="translate(561.00,254.30) scale(0.25)" font-size="94.4" style="stroke-width:1.1px">F</text>
<text transform="translate(0.20,487.80) scale(0.25)" font-size="94.4" style="stroke-width:1.1px">G</text>
<text transform="translate(352.90,487.90) scale(0.25)" font-size="94.4" style="stroke-width:1.1px">H</text>
<text transform="translate(680.00,486.00) scale(0.25)" font-size="94.4" style="stroke-width:1.1px">I</text>
<text transform="translate(3.30,731.00) scale(0.25)" font-size="94.4" style="stroke-width:1.1px">J</text>
<text transform="translate(259.50,730.70) scale(0.25)" font-size="94.4" style="stroke-width:1.1px">K</text>
<text transform="translate(393.20,730.70) scale(0.25)" font-size="94.4" style="stroke-width:1.1px">L</text>
<text transform="translate(680.00,731.50) scale(0.25)" font-size="94.4" style="stroke-width:1.1px">M</text>
<text transform="translate(22.20,78.30) rotate(-90) scale(1,1.06)" font-size="14.2" text-anchor="middle">NC</text>
<text transform="translate(22.20,151.50) rotate(-90) scale(1,1.06)" font-size="14.2" text-anchor="middle">OE</text>
<text transform="translate(22.20,329.90) rotate(-90) scale(1,1.06)" font-size="14.2" text-anchor="middle">NC</text>
<text transform="translate(22.20,402.80) rotate(-90) scale(1,1.06)" font-size="14.2" text-anchor="middle">OE</text>
<text transform="translate(590.00,323.20) rotate(-90) scale(1,1.06)" font-size="14.2" text-anchor="middle">NC</text>
<text transform="translate(590.00,397.50) rotate(-90) scale(1,1.06)" font-size="14.2" text-anchor="middle">OE</text>
<text transform="translate(22.60,790.80) rotate(-90) scale(1,1.22)" font-size="13.8" text-anchor="middle">NC</text>
<text transform="translate(22.60,867.80) rotate(-90) scale(1,1.22)" font-size="13.8" text-anchor="middle">OE</text>
<text transform="translate(438.50,789.00) rotate(-90) scale(1,1.06)" font-size="14.2" text-anchor="middle">NC</text>
<text transform="translate(438.50,865.00) rotate(-90) scale(1,1.06)" font-size="14.2" text-anchor="middle">OE</text>
<text x="447.00" y="38.60" font-size="16.00" text-anchor="middle">CD117+</text>
<line x1="376.00" y1="43.00" x2="508.60" y2="43.00" stroke="#000" stroke-width="1.5"/>
<text x="408.60" y="59.00" font-size="16.10" text-anchor="middle">Control</text>
<text x="478.30" y="59.00" font-size="15.80" text-anchor="middle">MCs</text>
<text x="408.00" y="199.30" font-size="16.00" text-anchor="middle">NC</text>
<text x="478.00" y="199.30" font-size="16.00" text-anchor="middle">OE</text>
<text x="411.50" y="215.80" font-size="16.00">MitoGreen</text>
<text transform="translate(362.30,134.00) rotate(-90)" font-size="14.30" text-anchor="middle">MitoRed</text>
<path d="M357.7,176 V211 H396" fill="none" stroke="#000" stroke-width="1.6"/>
<path d="M357.7,167.8 L352.5,177.8 H362.9 Z" fill="#000"/>
<path d="M405.2,211 L395.2,205.8 V216.2 Z" fill="#000"/>
<text x="428.80" y="507.60" font-size="16.00" text-anchor="middle">Control</text>
<text x="428.30" y="655.50" font-size="16.20" text-anchor="middle">NC</text>
<text x="501.00" y="655.50" font-size="16.20" text-anchor="middle">OE</text>
<text x="436.00" y="676.50" font-size="15.80">Annexin V</text>
<text transform="translate(386.80,613.20) rotate(-90)" font-size="14.30" text-anchor="middle">PI</text>
<path d="M381.5,633 V670.6 H421" fill="none" stroke="#000" stroke-width="1.6"/>
<path d="M381.5,625 L376.3,635 H386.7 Z" fill="#000"/>
<path d="M430.2,670.6 L420.2,665.4 V675.8 Z" fill="#000"/>
<text x="75.00" y="648.60" font-size="15.60" text-anchor="middle">FITC</text>
<text x="81.80" y="748.80" font-size="16.00" text-anchor="middle">day 2</text>
<text x="189.60" y="748.80" font-size="16.00" text-anchor="middle">day 7</text>
<g>
<path d="M618.00,177.70 V96.00 H635.40 V177.70" fill="none" stroke="#4a94a4" stroke-width="1.5"/>
<line x1="626.70" y1="93.80" x2="626.70" y2="97.20" stroke="#4a94a4" stroke-width="0.9"/>
<line x1="623.50" y1="93.80" x2="629.90" y2="93.80" stroke="#4a94a4" stroke-width="0.9"/>
<line x1="623.50" y1="97.20" x2="629.90" y2="97.20" stroke="#4a94a4" stroke-width="0.9"/>
<circle cx="623.70" cy="94.00" r="1.45" fill="#4a94a4"/>
<circle cx="624.70" cy="97.00" r="1.45" fill="#4a94a4"/>
<circle cx="629.20" cy="96.50" r="1.45" fill="#4a94a4"/>
<path d="M646.80,177.70 V88.90 H664.10 V177.70" fill="none" stroke="#e2b163" stroke-width="1.5"/>
<line x1="655.45" y1="88.00" x2="655.45" y2="89.60" stroke="#e2b163" stroke-width="0.9"/>
<line x1="652.25" y1="88.00" x2="658.65" y2="88.00" stroke="#e2b163" stroke-width="0.9"/>
<line x1="652.25" y1="89.60" x2="658.65" y2="89.60" stroke="#e2b163" stroke-width="0.9"/>
<circle cx="652.45" cy="89.00" r="1.45" fill="#e2b163"/>
<circle cx="655.45" cy="88.30" r="1.45" fill="#e2b163"/>
<circle cx="658.45" cy="88.80" r="1.45" fill="#e2b163"/>
<line x1="606.80" y1="82.58" x2="606.80" y2="178.32" stroke="#000" stroke-width="1.25"/>
<line x1="606.17" y1="177.70" x2="674.00" y2="177.70" stroke="#000" stroke-width="1.25"/>
<line x1="603.20" y1="83.20" x2="606.80" y2="83.20" stroke="#000" stroke-width="1.25"/>
<text x="602.00" y="85.83" font-size="7.30" text-anchor="end" font-weight="bold">80</text>
<line x1="603.20" y1="106.83" x2="606.80" y2="106.83" stroke="#000" stroke-width="1.25"/>
<text x="602.00" y="109.45" font-size="7.30" text-anchor="end" font-weight="bold">60</text>
<line x1="603.20" y1="130.45" x2="606.80" y2="130.45" stroke="#000" stroke-width="1.25"/>
<text x="602.00" y="133.08" font-size="7.30" text-anchor="end" font-weight="bold">40</text>
<line x1="603.20" y1="154.07" x2="606.80" y2="154.07" stroke="#000" stroke-width="1.25"/>
<text x="602.00" y="156.70" font-size="7.30" text-anchor="end" font-weight="bold">20</text>
<line x1="603.20" y1="177.70" x2="606.80" y2="177.70" stroke="#000" stroke-width="1.25"/>
<text x="602.00" y="180.33" font-size="7.30" text-anchor="end" font-weight="bold">0</text>
<line x1="626.70" y1="177.70" x2="626.70" y2="181.50" stroke="#000" stroke-width="1.25"/>
<line x1="655.45" y1="177.70" x2="655.45" y2="181.50" stroke="#000" stroke-width="1.25"/>
<line x1="626.00" y1="76.00" x2="655.30" y2="76.00" stroke="#000" stroke-width="1.25"/>
<text x="640.65" y="75.80" font-size="11.50" text-anchor="middle" font-weight="bold">**</text>
<text transform="translate(568.20,120.20) rotate(-90)" font-size="14.60" text-anchor="middle">MCs with MitoRed+</text>
<text transform="translate(583.50,123.20) rotate(-90)" font-size="14.60" text-anchor="middle">mitochondrial (%)</text>
<text transform="translate(635.00,193.60) scale(1.18,1) rotate(-45)" font-size="14.0" text-anchor="end" style="stroke-width:.2px">NC</text>
<text transform="translate(662.60,193.10) scale(1.18,1) rotate(-45)" font-size="14.0" text-anchor="end" style="stroke-width:.2px">OE</text>
</g>
<g>
<path d="M763.40,179.70 V116.60 H781.10 V179.70" fill="none" stroke="#4a94a4" stroke-width="1.5"/>
<line x1="772.25" y1="110.08" x2="772.25" y2="121.82" stroke="#4a94a4" stroke-width="0.9"/>
<line x1="769.05" y1="110.08" x2="775.45" y2="110.08" stroke="#4a94a4" stroke-width="0.9"/>
<line x1="769.05" y1="121.82" x2="775.45" y2="121.82" stroke="#4a94a4" stroke-width="0.9"/>
<circle cx="771.97" cy="110.45" r="1.45" fill="#4a94a4"/>
<circle cx="771.97" cy="116.70" r="1.45" fill="#4a94a4"/>
<circle cx="771.97" cy="121.82" r="1.45" fill="#4a94a4"/>
<path d="M792.10,179.70 V106.20 H809.80 V179.70" fill="none" stroke="#e2b163" stroke-width="1.5"/>
<line x1="800.95" y1="104.39" x2="800.95" y2="106.29" stroke="#e2b163" stroke-width="0.9"/>
<line x1="797.75" y1="104.39" x2="804.15" y2="104.39" stroke="#e2b163" stroke-width="0.9"/>
<line x1="797.75" y1="106.29" x2="804.15" y2="106.29" stroke="#e2b163" stroke-width="0.9"/>
<circle cx="800.76" cy="104.39" r="1.45" fill="#e2b163"/>
<circle cx="802.27" cy="105.91" r="1.45" fill="#e2b163"/>
<line x1="753.50" y1="84.67" x2="753.50" y2="180.32" stroke="#000" stroke-width="1.25"/>
<line x1="752.88" y1="179.70" x2="820.00" y2="179.70" stroke="#000" stroke-width="1.25"/>
<line x1="749.90" y1="85.30" x2="753.50" y2="85.30" stroke="#000" stroke-width="1.25"/>
<text x="748.70" y="87.93" font-size="7.30" text-anchor="end" font-weight="bold">1.5</text>
<line x1="749.90" y1="116.77" x2="753.50" y2="116.77" stroke="#000" stroke-width="1.25"/>
<text x="748.70" y="119.39" font-size="7.30" text-anchor="end" font-weight="bold">1.0</text>
<line x1="749.90" y1="148.23" x2="753.50" y2="148.23" stroke="#000" stroke-width="1.25"/>
<text x="748.70" y="150.86" font-size="7.30" text-anchor="end" font-weight="bold">0.5</text>
<line x1="749.90" y1="179.70" x2="753.50" y2="179.70" stroke="#000" stroke-width="1.25"/>
<text x="748.70" y="182.33" font-size="7.30" text-anchor="end" font-weight="bold">0.0</text>
<line x1="772.25" y1="179.70" x2="772.25" y2="183.50" stroke="#000" stroke-width="1.25"/>
<line x1="800.95" y1="179.70" x2="800.95" y2="183.50" stroke="#000" stroke-width="1.25"/>
<line x1="772.50" y1="93.20" x2="801.70" y2="93.20" stroke="#000" stroke-width="1.25"/>
<text x="787.10" y="92.20" font-size="11.50" text-anchor="middle" font-weight="bold">*</text>
<text transform="translate(728.30,115.70) rotate(-90)" font-size="14.45" text-anchor="middle">Relative ATP level (%)</text>
<text transform="translate(780.50,193.10) scale(1.18,1) rotate(-45)" font-size="14.0" text-anchor="end" style="stroke-width:.2px">NC</text>
<text transform="translate(812.40,192.60) scale(1.18,1) rotate(-45)" font-size="14.0" text-anchor="end" style="stroke-width:.2px">OE</text>
</g>
<g>
<path d="M332.20,419.30 V351.30 H350.30 V419.30" fill="none" stroke="#4a94a4" stroke-width="1.5"/>
<line x1="341.25" y1="348.38" x2="341.25" y2="354.23" stroke="#4a94a4" stroke-width="0.9"/>
<line x1="338.05" y1="348.38" x2="344.45" y2="348.38" stroke="#4a94a4" stroke-width="0.9"/>
<line x1="338.05" y1="354.23" x2="344.45" y2="354.23" stroke="#4a94a4" stroke-width="0.9"/>
<circle cx="333.58" cy="350.14" r="1.45" fill="#4a94a4"/>
<circle cx="337.08" cy="348.38" r="1.45" fill="#4a94a4"/>
<circle cx="340.00" cy="351.69" r="1.45" fill="#4a94a4"/>
<circle cx="342.93" cy="349.16" r="1.45" fill="#4a94a4"/>
<circle cx="346.43" cy="350.72" r="1.45" fill="#4a94a4"/>
<circle cx="349.16" cy="346.82" r="1.45" fill="#4a94a4"/>
<circle cx="336.11" cy="353.64" r="1.45" fill="#4a94a4"/>
<circle cx="341.37" cy="359.10" r="1.45" fill="#4a94a4"/>
<circle cx="345.26" cy="354.23" r="1.45" fill="#4a94a4"/>
<circle cx="348.77" cy="352.08" r="1.45" fill="#4a94a4"/>
<path d="M360.50,419.30 V345.30 H378.60 V419.30" fill="none" stroke="#e2b163" stroke-width="1.5"/>
<line x1="369.55" y1="339.42" x2="369.55" y2="350.72" stroke="#e2b163" stroke-width="0.9"/>
<line x1="366.35" y1="339.42" x2="372.75" y2="339.42" stroke="#e2b163" stroke-width="0.9"/>
<line x1="366.35" y1="350.72" x2="372.75" y2="350.72" stroke="#e2b163" stroke-width="0.9"/>
<circle cx="361.82" cy="340.98" r="1.45" fill="#e2b163"/>
<circle cx="365.33" cy="342.93" r="1.45" fill="#e2b163"/>
<circle cx="369.62" cy="334.16" r="1.45" fill="#e2b163"/>
<circle cx="372.15" cy="341.95" r="1.45" fill="#e2b163"/>
<circle cx="375.07" cy="344.88" r="1.45" fill="#e2b163"/>
<circle cx="377.60" cy="345.26" r="1.45" fill="#e2b163"/>
<circle cx="363.38" cy="346.43" r="1.45" fill="#e2b163"/>
<circle cx="367.28" cy="347.80" r="1.45" fill="#e2b163"/>
<circle cx="371.18" cy="350.72" r="1.45" fill="#e2b163"/>
<circle cx="369.81" cy="356.56" r="1.45" fill="#e2b163"/>
<line x1="322.10" y1="324.38" x2="322.10" y2="419.93" stroke="#000" stroke-width="1.25"/>
<line x1="321.48" y1="419.30" x2="388.10" y2="419.30" stroke="#000" stroke-width="1.25"/>
<line x1="318.50" y1="325.00" x2="322.10" y2="325.00" stroke="#000" stroke-width="1.25"/>
<text x="317.30" y="327.63" font-size="7.30" text-anchor="end" font-weight="bold">2.0</text>
<line x1="318.50" y1="348.57" x2="322.10" y2="348.57" stroke="#000" stroke-width="1.25"/>
<text x="317.30" y="351.20" font-size="7.30" text-anchor="end" font-weight="bold">1.5</text>
<line x1="318.50" y1="372.15" x2="322.10" y2="372.15" stroke="#000" stroke-width="1.25"/>
<text x="317.30" y="374.78" font-size="7.30" text-anchor="end" font-weight="bold">1.0</text>
<line x1="318.50" y1="395.73" x2="322.10" y2="395.73" stroke="#000" stroke-width="1.25"/>
<text x="317.30" y="398.35" font-size="7.30" text-anchor="end" font-weight="bold">0.5</text>
<line x1="318.50" y1="419.30" x2="322.10" y2="419.30" stroke="#000" stroke-width="1.25"/>
<text x="317.30" y="421.93" font-size="7.30" text-anchor="end" font-weight="bold">0.0</text>
<line x1="341.25" y1="419.30" x2="341.25" y2="423.10" stroke="#000" stroke-width="1.25"/>
<line x1="369.55" y1="419.30" x2="369.55" y2="423.10" stroke="#000" stroke-width="1.25"/>
<line x1="341.00" y1="322.90" x2="370.20" y2="322.90" stroke="#000" stroke-width="1.25"/>
<text x="355.60" y="321.90" font-size="11.50" text-anchor="middle" font-weight="bold">*</text>
<text transform="translate(281.00,353.40) rotate(-90)" font-size="14.50" text-anchor="middle">JC-1 aggregate/monomer</text>
<text transform="translate(298.10,354.80) rotate(-90)" font-size="14.30" text-anchor="middle">(red/green)</text>
<text transform="translate(349.80,432.10) scale(1.18,1) rotate(-45)" font-size="14.0" text-anchor="end" style="stroke-width:.2px">NC</text>
<text transform="translate(378.30,431.80) scale(1.18,1) rotate(-45)" font-size="14.0" text-anchor="end" style="stroke-width:.2px">OE</text>
</g>
<g>
<path d="M484.30,419.90 V356.60 H502.80 V419.90" fill="none" stroke="#4a94a4" stroke-width="1.5"/>
<line x1="493.55" y1="352.67" x2="493.55" y2="359.49" stroke="#4a94a4" stroke-width="0.9"/>
<line x1="490.35" y1="352.67" x2="496.75" y2="352.67" stroke="#4a94a4" stroke-width="0.9"/>
<line x1="490.35" y1="359.49" x2="496.75" y2="359.49" stroke="#4a94a4" stroke-width="0.9"/>
<circle cx="493.45" cy="353.06" r="1.45" fill="#4a94a4"/>
<circle cx="490.52" cy="359.10" r="1.45" fill="#4a94a4"/>
<circle cx="496.37" cy="357.54" r="1.45" fill="#4a94a4"/>
<path d="M512.90,419.90 V339.20 H531.00 V419.90" fill="none" stroke="#e2b163" stroke-width="1.5"/>
<line x1="521.95" y1="332.60" x2="521.95" y2="345.46" stroke="#e2b163" stroke-width="0.9"/>
<line x1="518.75" y1="332.60" x2="525.15" y2="332.60" stroke="#e2b163" stroke-width="0.9"/>
<line x1="518.75" y1="345.46" x2="525.15" y2="345.46" stroke="#e2b163" stroke-width="0.9"/>
<circle cx="519.36" cy="333.58" r="1.45" fill="#e2b163"/>
<circle cx="525.20" cy="336.69" r="1.45" fill="#e2b163"/>
<circle cx="521.89" cy="345.46" r="1.45" fill="#e2b163"/>
<line x1="474.20" y1="325.18" x2="474.20" y2="420.52" stroke="#000" stroke-width="1.25"/>
<line x1="473.57" y1="419.90" x2="540.80" y2="419.90" stroke="#000" stroke-width="1.25"/>
<line x1="470.60" y1="325.80" x2="474.20" y2="325.80" stroke="#000" stroke-width="1.25"/>
<text x="469.40" y="328.43" font-size="7.30" text-anchor="end" font-weight="bold">5</text>
<line x1="470.60" y1="344.62" x2="474.20" y2="344.62" stroke="#000" stroke-width="1.25"/>
<text x="469.40" y="347.25" font-size="7.30" text-anchor="end" font-weight="bold">4</text>
<line x1="470.60" y1="363.44" x2="474.20" y2="363.44" stroke="#000" stroke-width="1.25"/>
<text x="469.40" y="366.07" font-size="7.30" text-anchor="end" font-weight="bold">3</text>
<line x1="470.60" y1="382.26" x2="474.20" y2="382.26" stroke="#000" stroke-width="1.25"/>
<text x="469.40" y="384.89" font-size="7.30" text-anchor="end" font-weight="bold">2</text>
<line x1="470.60" y1="401.08" x2="474.20" y2="401.08" stroke="#000" stroke-width="1.25"/>
<text x="469.40" y="403.71" font-size="7.30" text-anchor="end" font-weight="bold">1</text>
<line x1="470.60" y1="419.90" x2="474.20" y2="419.90" stroke="#000" stroke-width="1.25"/>
<text x="469.40" y="422.53" font-size="7.30" text-anchor="end" font-weight="bold">0</text>
<line x1="493.55" y1="419.90" x2="493.55" y2="423.70" stroke="#000" stroke-width="1.25"/>
<line x1="521.95" y1="419.90" x2="521.95" y2="423.70" stroke="#000" stroke-width="1.25"/>
<line x1="493.40" y1="321.70" x2="522.70" y2="321.70" stroke="#000" stroke-width="1.25"/>
<text x="508.05" y="320.70" font-size="11.50" text-anchor="middle" font-weight="bold">*</text>
<text transform="translate(441.40,353.20) rotate(-90)" font-size="14.50" text-anchor="middle">JC-1 aggregate/monomer</text>
<text transform="translate(457.90,354.30) rotate(-90)" font-size="14.30" text-anchor="middle">(red/green)</text>
<text transform="translate(503.50,432.10) scale(1.18,1) rotate(-45)" font-size="14.0" text-anchor="end" style="stroke-width:.2px">NC</text>
<text transform="translate(534.20,432.80) scale(1.18,1) rotate(-45)" font-size="14.0" text-anchor="end" style="stroke-width:.2px">OE</text>
</g>
<g>
<path d="M764.40,418.90 V352.80 H782.40 V418.90" fill="none" stroke="#4a94a4" stroke-width="1.5"/>
<line x1="773.40" y1="344.81" x2="773.40" y2="359.02" stroke="#4a94a4" stroke-width="0.9"/>
<line x1="770.20" y1="344.81" x2="776.60" y2="344.81" stroke="#4a94a4" stroke-width="0.9"/>
<line x1="770.20" y1="359.02" x2="776.60" y2="359.02" stroke="#4a94a4" stroke-width="0.9"/>
<circle cx="773.33" cy="341.97" r="1.45" fill="#4a94a4"/>
<circle cx="767.65" cy="345.38" r="1.45" fill="#4a94a4"/>
<circle cx="779.02" cy="345.76" r="1.45" fill="#4a94a4"/>
<circle cx="769.55" cy="351.44" r="1.45" fill="#4a94a4"/>
<circle cx="776.17" cy="350.49" r="1.45" fill="#4a94a4"/>
<circle cx="773.33" cy="353.33" r="1.45" fill="#4a94a4"/>
<circle cx="766.70" cy="358.07" r="1.45" fill="#4a94a4"/>
<circle cx="779.02" cy="359.02" r="1.45" fill="#4a94a4"/>
<circle cx="770.49" cy="364.70" r="1.45" fill="#4a94a4"/>
<circle cx="776.17" cy="362.80" r="1.45" fill="#4a94a4"/>
<path d="M792.30,418.90 V359.00 H810.30 V418.90" fill="none" stroke="#e2b163" stroke-width="1.5"/>
<line x1="801.30" y1="355.23" x2="801.30" y2="362.80" stroke="#e2b163" stroke-width="0.9"/>
<line x1="798.10" y1="355.23" x2="804.50" y2="355.23" stroke="#e2b163" stroke-width="0.9"/>
<line x1="798.10" y1="362.80" x2="804.50" y2="362.80" stroke="#e2b163" stroke-width="0.9"/>
<circle cx="798.90" cy="353.33" r="1.45" fill="#e2b163"/>
<circle cx="796.06" cy="356.17" r="1.45" fill="#e2b163"/>
<circle cx="803.64" cy="356.17" r="1.45" fill="#e2b163"/>
<circle cx="798.90" cy="359.02" r="1.45" fill="#e2b163"/>
<circle cx="796.06" cy="360.91" r="1.45" fill="#e2b163"/>
<circle cx="802.69" cy="360.91" r="1.45" fill="#e2b163"/>
<circle cx="805.53" cy="359.02" r="1.45" fill="#e2b163"/>
<circle cx="798.90" cy="367.54" r="1.45" fill="#e2b163"/>
<circle cx="803.64" cy="364.70" r="1.45" fill="#e2b163"/>
<circle cx="797.95" cy="363.75" r="1.45" fill="#e2b163"/>
<line x1="754.40" y1="325.62" x2="754.40" y2="419.52" stroke="#000" stroke-width="1.25"/>
<line x1="753.77" y1="418.90" x2="819.70" y2="418.90" stroke="#000" stroke-width="1.25"/>
<line x1="750.80" y1="326.25" x2="754.40" y2="326.25" stroke="#000" stroke-width="1.25"/>
<text x="749.60" y="328.88" font-size="7.30" text-anchor="end" font-weight="bold">250</text>
<line x1="750.80" y1="344.78" x2="754.40" y2="344.78" stroke="#000" stroke-width="1.25"/>
<text x="749.60" y="347.41" font-size="7.30" text-anchor="end" font-weight="bold">200</text>
<line x1="750.80" y1="363.31" x2="754.40" y2="363.31" stroke="#000" stroke-width="1.25"/>
<text x="749.60" y="365.94" font-size="7.30" text-anchor="end" font-weight="bold">150</text>
<line x1="750.80" y1="381.84" x2="754.40" y2="381.84" stroke="#000" stroke-width="1.25"/>
<text x="749.60" y="384.47" font-size="7.30" text-anchor="end" font-weight="bold">100</text>
<line x1="750.80" y1="400.37" x2="754.40" y2="400.37" stroke="#000" stroke-width="1.25"/>
<text x="749.60" y="403.00" font-size="7.30" text-anchor="end" font-weight="bold">50</text>
<line x1="750.80" y1="418.90" x2="754.40" y2="418.90" stroke="#000" stroke-width="1.25"/>
<text x="749.60" y="421.53" font-size="7.30" text-anchor="end" font-weight="bold">0</text>
<line x1="773.40" y1="418.90" x2="773.40" y2="422.70" stroke="#000" stroke-width="1.25"/>
<line x1="801.30" y1="418.90" x2="801.30" y2="422.70" stroke="#000" stroke-width="1.25"/>
<line x1="773.00" y1="331.20" x2="802.10" y2="331.20" stroke="#000" stroke-width="1.25"/>
<text x="787.55" y="331.00" font-size="11.50" text-anchor="middle" font-weight="bold">**</text>
<text transform="translate(709.40,374.20) rotate(-90)" font-size="15.15" text-anchor="middle">Flourescence</text>
<text transform="translate(727.50,372.00) rotate(-90)" font-size="15.15" text-anchor="middle">intensity (a.u)</text>
<text transform="translate(780.00,432.20) scale(1.18,1) rotate(-45)" font-size="14.0" text-anchor="end" style="stroke-width:.2px">NC</text>
<text transform="translate(807.40,431.90) scale(1.18,1) rotate(-45)" font-size="14.0" text-anchor="end" style="stroke-width:.2px">OE</text>
</g>
<g>
<path d="M260.50,621.80 V536.50 H278.80 V621.80" fill="none" stroke="#4a94a4" stroke-width="1.5"/>
<line x1="269.65" y1="532.99" x2="269.65" y2="538.83" stroke="#4a94a4" stroke-width="0.9"/>
<line x1="266.45" y1="532.99" x2="272.85" y2="532.99" stroke="#4a94a4" stroke-width="0.9"/>
<line x1="266.45" y1="538.83" x2="272.85" y2="538.83" stroke="#4a94a4" stroke-width="0.9"/>
<circle cx="269.49" cy="532.60" r="1.45" fill="#4a94a4"/>
<circle cx="266.95" cy="538.06" r="1.45" fill="#4a94a4"/>
<circle cx="272.21" cy="536.89" r="1.45" fill="#4a94a4"/>
<path d="M289.40,621.80 V593.40 H307.50 V621.80" fill="none" stroke="#e2b163" stroke-width="1.5"/>
<line x1="298.45" y1="581.69" x2="298.45" y2="604.10" stroke="#e2b163" stroke-width="0.9"/>
<line x1="295.25" y1="581.69" x2="301.65" y2="581.69" stroke="#e2b163" stroke-width="0.9"/>
<line x1="295.25" y1="604.10" x2="301.65" y2="604.10" stroke="#e2b163" stroke-width="0.9"/>
<circle cx="298.71" cy="580.33" r="1.45" fill="#e2b163"/>
<circle cx="295.79" cy="600.20" r="1.45" fill="#e2b163"/>
<circle cx="301.63" cy="598.84" r="1.45" fill="#e2b163"/>
<line x1="250.00" y1="526.17" x2="250.00" y2="622.42" stroke="#000" stroke-width="1.25"/>
<line x1="249.38" y1="621.80" x2="317.60" y2="621.80" stroke="#000" stroke-width="1.25"/>
<line x1="246.40" y1="526.80" x2="250.00" y2="526.80" stroke="#000" stroke-width="1.25"/>
<text x="245.20" y="529.43" font-size="7.30" text-anchor="end" font-weight="bold">40</text>
<line x1="246.40" y1="550.55" x2="250.00" y2="550.55" stroke="#000" stroke-width="1.25"/>
<text x="245.20" y="553.18" font-size="7.30" text-anchor="end" font-weight="bold">30</text>
<line x1="246.40" y1="574.30" x2="250.00" y2="574.30" stroke="#000" stroke-width="1.25"/>
<text x="245.20" y="576.93" font-size="7.30" text-anchor="end" font-weight="bold">20</text>
<line x1="246.40" y1="598.05" x2="250.00" y2="598.05" stroke="#000" stroke-width="1.25"/>
<text x="245.20" y="600.68" font-size="7.30" text-anchor="end" font-weight="bold">10</text>
<line x1="246.40" y1="621.80" x2="250.00" y2="621.80" stroke="#000" stroke-width="1.25"/>
<text x="245.20" y="624.43" font-size="7.30" text-anchor="end" font-weight="bold">0</text>
<line x1="269.65" y1="621.80" x2="269.65" y2="625.60" stroke="#000" stroke-width="1.25"/>
<line x1="298.45" y1="621.80" x2="298.45" y2="625.60" stroke="#000" stroke-width="1.25"/>
<line x1="269.50" y1="520.90" x2="299.50" y2="520.90" stroke="#000" stroke-width="1.25"/>
<text x="284.50" y="520.70" font-size="11.50" text-anchor="middle" font-weight="bold">**</text>
<text transform="translate(211.00,567.70) rotate(-90)" font-size="14.45" text-anchor="middle">Median ROS</text>
<text transform="translate(227.60,563.30) rotate(-90)" font-size="14.45" text-anchor="middle">fluorescence intensity</text>
<text transform="translate(276.20,636.70) scale(1.18,1) rotate(-45)" font-size="14.0" text-anchor="end" style="stroke-width:.2px">NC</text>
<text transform="translate(306.30,637.10) scale(1.18,1) rotate(-45)" font-size="14.0" text-anchor="end" style="stroke-width:.2px">OE</text>
</g>
<g>
<path d="M605.60,636.40 V550.80 H623.60 V636.40" fill="none" stroke="#4a94a4" stroke-width="1.5"/>
<line x1="614.60" y1="544.89" x2="614.60" y2="556.82" stroke="#4a94a4" stroke-width="0.9"/>
<line x1="611.40" y1="544.89" x2="617.80" y2="544.89" stroke="#4a94a4" stroke-width="0.9"/>
<line x1="611.40" y1="556.82" x2="617.80" y2="556.82" stroke="#4a94a4" stroke-width="0.9"/>
<circle cx="611.25" cy="545.45" r="1.45" fill="#4a94a4"/>
<circle cx="616.93" cy="546.78" r="1.45" fill="#4a94a4"/>
<circle cx="614.28" cy="556.44" r="1.45" fill="#4a94a4"/>
<path d="M634.50,636.40 V582.80 H652.90 V636.40" fill="none" stroke="#e2b163" stroke-width="1.5"/>
<line x1="643.70" y1="576.70" x2="643.70" y2="586.74" stroke="#e2b163" stroke-width="0.9"/>
<line x1="640.50" y1="576.70" x2="646.90" y2="576.70" stroke="#e2b163" stroke-width="0.9"/>
<line x1="640.50" y1="586.74" x2="646.90" y2="586.74" stroke="#e2b163" stroke-width="0.9"/>
<circle cx="644.02" cy="576.70" r="1.45" fill="#e2b163"/>
<circle cx="640.61" cy="585.80" r="1.45" fill="#e2b163"/>
<circle cx="647.23" cy="585.23" r="1.45" fill="#e2b163"/>
<line x1="595.30" y1="538.58" x2="595.30" y2="637.02" stroke="#000" stroke-width="1.25"/>
<line x1="594.67" y1="636.40" x2="663.30" y2="636.40" stroke="#000" stroke-width="1.25"/>
<line x1="591.70" y1="539.20" x2="595.30" y2="539.20" stroke="#000" stroke-width="1.25"/>
<text x="590.50" y="541.83" font-size="7.30" text-anchor="end" font-weight="bold">5</text>
<line x1="591.70" y1="558.64" x2="595.30" y2="558.64" stroke="#000" stroke-width="1.25"/>
<text x="590.50" y="561.27" font-size="7.30" text-anchor="end" font-weight="bold">4</text>
<line x1="591.70" y1="578.08" x2="595.30" y2="578.08" stroke="#000" stroke-width="1.25"/>
<text x="590.50" y="580.71" font-size="7.30" text-anchor="end" font-weight="bold">3</text>
<line x1="591.70" y1="597.52" x2="595.30" y2="597.52" stroke="#000" stroke-width="1.25"/>
<text x="590.50" y="600.15" font-size="7.30" text-anchor="end" font-weight="bold">2</text>
<line x1="591.70" y1="616.96" x2="595.30" y2="616.96" stroke="#000" stroke-width="1.25"/>
<text x="590.50" y="619.59" font-size="7.30" text-anchor="end" font-weight="bold">1</text>
<line x1="591.70" y1="636.40" x2="595.30" y2="636.40" stroke="#000" stroke-width="1.25"/>
<text x="590.50" y="639.03" font-size="7.30" text-anchor="end" font-weight="bold">0</text>
<line x1="614.60" y1="636.40" x2="614.60" y2="640.20" stroke="#000" stroke-width="1.25"/>
<line x1="643.70" y1="636.40" x2="643.70" y2="640.20" stroke="#000" stroke-width="1.25"/>
<line x1="614.30" y1="533.30" x2="644.00" y2="533.30" stroke="#000" stroke-width="1.25"/>
<text x="629.15" y="533.10" font-size="11.50" text-anchor="middle" font-weight="bold">**</text>
<text transform="translate(576.80,574.80) rotate(-90)" font-size="14.64" text-anchor="middle">Apoptopic cells(%)</text>
<text transform="translate(624.20,649.50) scale(1.18,1) rotate(-45)" font-size="14.0" text-anchor="end" style="stroke-width:.2px">NC</text>
<text transform="translate(652.70,649.90) scale(1.18,1) rotate(-45)" font-size="14.0" text-anchor="end" style="stroke-width:.2px">OE</text>
</g>
<g>
<path d="M758.60,635.00 V581.80 H777.10 V635.00" fill="none" stroke="#4a94a4" stroke-width="1.5"/>
<line x1="767.85" y1="578.60" x2="767.85" y2="584.28" stroke="#4a94a4" stroke-width="0.9"/>
<line x1="764.65" y1="578.60" x2="771.05" y2="578.60" stroke="#4a94a4" stroke-width="0.9"/>
<line x1="764.65" y1="584.28" x2="771.05" y2="584.28" stroke="#4a94a4" stroke-width="0.9"/>
<circle cx="765.38" cy="578.98" r="1.45" fill="#4a94a4"/>
<circle cx="771.06" cy="579.55" r="1.45" fill="#4a94a4"/>
<circle cx="768.22" cy="584.28" r="1.45" fill="#4a94a4"/>
<path d="M787.90,635.00 V563.80 H806.10 V635.00" fill="none" stroke="#e2b163" stroke-width="1.5"/>
<line x1="797.00" y1="559.09" x2="797.00" y2="567.23" stroke="#e2b163" stroke-width="0.9"/>
<line x1="793.80" y1="559.09" x2="800.20" y2="559.09" stroke="#e2b163" stroke-width="0.9"/>
<line x1="793.80" y1="567.23" x2="800.20" y2="567.23" stroke="#e2b163" stroke-width="0.9"/>
<circle cx="797.01" cy="558.71" r="1.45" fill="#e2b163"/>
<circle cx="794.17" cy="566.67" r="1.45" fill="#e2b163"/>
<circle cx="799.85" cy="565.34" r="1.45" fill="#e2b163"/>
<line x1="748.30" y1="538.17" x2="748.30" y2="635.62" stroke="#000" stroke-width="1.25"/>
<line x1="747.67" y1="635.00" x2="816.30" y2="635.00" stroke="#000" stroke-width="1.25"/>
<line x1="744.70" y1="538.80" x2="748.30" y2="538.80" stroke="#000" stroke-width="1.25"/>
<text x="743.50" y="541.43" font-size="7.30" text-anchor="end" font-weight="bold">40</text>
<line x1="744.70" y1="562.85" x2="748.30" y2="562.85" stroke="#000" stroke-width="1.25"/>
<text x="743.50" y="565.48" font-size="7.30" text-anchor="end" font-weight="bold">30</text>
<line x1="744.70" y1="586.90" x2="748.30" y2="586.90" stroke="#000" stroke-width="1.25"/>
<text x="743.50" y="589.53" font-size="7.30" text-anchor="end" font-weight="bold">20</text>
<line x1="744.70" y1="610.95" x2="748.30" y2="610.95" stroke="#000" stroke-width="1.25"/>
<text x="743.50" y="613.58" font-size="7.30" text-anchor="end" font-weight="bold">10</text>
<line x1="744.70" y1="635.00" x2="748.30" y2="635.00" stroke="#000" stroke-width="1.25"/>
<text x="743.50" y="637.63" font-size="7.30" text-anchor="end" font-weight="bold">0</text>
<line x1="767.85" y1="635.00" x2="767.85" y2="638.80" stroke="#000" stroke-width="1.25"/>
<line x1="797.00" y1="635.00" x2="797.00" y2="638.80" stroke="#000" stroke-width="1.25"/>
<line x1="768.00" y1="546.80" x2="797.60" y2="546.80" stroke="#000" stroke-width="1.25"/>
<text x="782.80" y="546.60" font-size="11.50" text-anchor="middle" font-weight="bold">**</text>
<text transform="translate(711.20,586.00) rotate(-90)" font-size="14.47" text-anchor="middle">Tyrosinase activity</text>
<text transform="translate(727.30,581.80) rotate(-90)" font-size="14.47" text-anchor="middle">(U/10<tspan dy="-4.4" font-size="13.8">6</tspan><tspan dy="4.4">cells)</tspan></text>
<text transform="translate(776.70,648.00) scale(1.18,1) rotate(-45)" font-size="14.0" text-anchor="end" style="stroke-width:.2px">NC</text>
<text transform="translate(807.10,647.70) scale(1.18,1) rotate(-45)" font-size="14.0" text-anchor="end" style="stroke-width:.2px">OE</text>
</g>
<g>
<path d="M330.30,890.90 V860.00 H347.80 V890.90" fill="none" stroke="#4a94a4" stroke-width="1.5"/>
<line x1="339.05" y1="857.50" x2="339.05" y2="860.83" stroke="#4a94a4" stroke-width="0.9"/>
<line x1="335.85" y1="857.50" x2="342.25" y2="857.50" stroke="#4a94a4" stroke-width="0.9"/>
<line x1="335.85" y1="860.83" x2="342.25" y2="860.83" stroke="#4a94a4" stroke-width="0.9"/>
<circle cx="339.67" cy="857.50" r="1.45" fill="#4a94a4"/>
<circle cx="334.17" cy="860.50" r="1.45" fill="#4a94a4"/>
<circle cx="345.00" cy="859.17" r="1.45" fill="#4a94a4"/>
<path d="M358.30,890.90 V830.30 H376.20 V890.90" fill="none" stroke="#e2b163" stroke-width="1.5"/>
<line x1="367.25" y1="823.00" x2="367.25" y2="837.50" stroke="#e2b163" stroke-width="0.9"/>
<line x1="364.05" y1="823.00" x2="370.45" y2="823.00" stroke="#e2b163" stroke-width="0.9"/>
<line x1="364.05" y1="837.50" x2="370.45" y2="837.50" stroke="#e2b163" stroke-width="0.9"/>
<circle cx="364.50" cy="824.17" r="1.45" fill="#e2b163"/>
<circle cx="370.00" cy="826.33" r="1.45" fill="#e2b163"/>
<circle cx="367.50" cy="837.50" r="1.45" fill="#e2b163"/>
<line x1="320.00" y1="796.08" x2="320.00" y2="891.52" stroke="#000" stroke-width="1.25"/>
<line x1="319.38" y1="890.90" x2="386.20" y2="890.90" stroke="#000" stroke-width="1.25"/>
<line x1="316.40" y1="796.70" x2="320.00" y2="796.70" stroke="#000" stroke-width="1.25"/>
<text x="315.20" y="799.33" font-size="7.30" text-anchor="end" font-weight="bold">2.0</text>
<line x1="316.40" y1="820.25" x2="320.00" y2="820.25" stroke="#000" stroke-width="1.25"/>
<text x="315.20" y="822.88" font-size="7.30" text-anchor="end" font-weight="bold">1.5</text>
<line x1="316.40" y1="843.80" x2="320.00" y2="843.80" stroke="#000" stroke-width="1.25"/>
<text x="315.20" y="846.43" font-size="7.30" text-anchor="end" font-weight="bold">1.0</text>
<line x1="316.40" y1="867.35" x2="320.00" y2="867.35" stroke="#000" stroke-width="1.25"/>
<text x="315.20" y="869.98" font-size="7.30" text-anchor="end" font-weight="bold">0.5</text>
<line x1="316.40" y1="890.90" x2="320.00" y2="890.90" stroke="#000" stroke-width="1.25"/>
<text x="315.20" y="893.53" font-size="7.30" text-anchor="end" font-weight="bold">0.0</text>
<line x1="339.05" y1="890.90" x2="339.05" y2="894.70" stroke="#000" stroke-width="1.25"/>
<line x1="367.25" y1="890.90" x2="367.25" y2="894.70" stroke="#000" stroke-width="1.25"/>
<line x1="338.80" y1="810.80" x2="367.80" y2="810.80" stroke="#000" stroke-width="1.25"/>
<text x="353.30" y="810.60" font-size="11.50" text-anchor="middle" font-weight="bold">**</text>
<text transform="translate(295.30,832.50) rotate(-90)" font-size="14.10" text-anchor="middle">Cell growth (OD)</text>
<text transform="translate(344.50,905.50) scale(1.18,1) rotate(-45)" font-size="14.0" text-anchor="end" style="stroke-width:.2px">NC</text>
<text transform="translate(375.90,905.30) scale(1.18,1) rotate(-45)" font-size="14.0" text-anchor="end" style="stroke-width:.2px">OE</text>
</g>
<g>
<path d="M621.10,890.30 V862.50 H638.70 V890.30" fill="none" stroke="#4a94a4" stroke-width="1.5"/>
<line x1="629.90" y1="852.50" x2="629.90" y2="871.42" stroke="#4a94a4" stroke-width="0.9"/>
<line x1="626.70" y1="852.50" x2="633.10" y2="852.50" stroke="#4a94a4" stroke-width="0.9"/>
<line x1="626.70" y1="871.42" x2="633.10" y2="871.42" stroke="#4a94a4" stroke-width="0.9"/>
<circle cx="629.69" cy="850.91" r="1.45" fill="#4a94a4"/>
<circle cx="626.71" cy="858.88" r="1.45" fill="#4a94a4"/>
<circle cx="632.68" cy="858.88" r="1.45" fill="#4a94a4"/>
<circle cx="629.69" cy="865.85" r="1.45" fill="#4a94a4"/>
<circle cx="629.69" cy="875.40" r="1.45" fill="#4a94a4"/>
<path d="M648.60,890.30 V840.60 H666.50 V890.30" fill="none" stroke="#e2b163" stroke-width="1.5"/>
<line x1="657.55" y1="831.20" x2="657.55" y2="849.12" stroke="#e2b163" stroke-width="0.9"/>
<line x1="654.35" y1="831.20" x2="660.75" y2="831.20" stroke="#e2b163" stroke-width="0.9"/>
<line x1="654.35" y1="849.12" x2="660.75" y2="849.12" stroke="#e2b163" stroke-width="0.9"/>
<circle cx="657.57" cy="826.02" r="1.45" fill="#e2b163"/>
<circle cx="652.00" cy="839.56" r="1.45" fill="#e2b163"/>
<circle cx="657.57" cy="842.55" r="1.45" fill="#e2b163"/>
<circle cx="663.54" cy="841.95" r="1.45" fill="#e2b163"/>
<circle cx="657.57" cy="849.92" r="1.45" fill="#e2b163"/>
<line x1="611.70" y1="798.08" x2="611.70" y2="890.92" stroke="#000" stroke-width="1.25"/>
<line x1="611.08" y1="890.30" x2="675.50" y2="890.30" stroke="#000" stroke-width="1.25"/>
<line x1="608.10" y1="798.70" x2="611.70" y2="798.70" stroke="#000" stroke-width="1.25"/>
<text x="606.90" y="801.33" font-size="7.30" text-anchor="end" font-weight="bold">1500</text>
<line x1="608.10" y1="829.23" x2="611.70" y2="829.23" stroke="#000" stroke-width="1.25"/>
<text x="606.90" y="831.86" font-size="7.30" text-anchor="end" font-weight="bold">1000</text>
<line x1="608.10" y1="859.77" x2="611.70" y2="859.77" stroke="#000" stroke-width="1.25"/>
<text x="606.90" y="862.39" font-size="7.30" text-anchor="end" font-weight="bold">500</text>
<line x1="608.10" y1="890.30" x2="611.70" y2="890.30" stroke="#000" stroke-width="1.25"/>
<text x="606.90" y="892.93" font-size="7.30" text-anchor="end" font-weight="bold">0</text>
<line x1="629.90" y1="890.30" x2="629.90" y2="894.10" stroke="#000" stroke-width="1.25"/>
<line x1="657.55" y1="890.30" x2="657.55" y2="894.10" stroke="#000" stroke-width="1.25"/>
<line x1="629.70" y1="815.30" x2="658.20" y2="815.30" stroke="#000" stroke-width="1.25"/>
<text x="643.95" y="815.10" font-size="11.50" text-anchor="middle" font-weight="bold">**</text>
<text transform="translate(583.90,828.80) rotate(-90)" font-size="14.34" text-anchor="middle">The migration cell number</text>
<text transform="translate(635.30,905.40) scale(1.18,1) rotate(-45)" font-size="14.0" text-anchor="end" style="stroke-width:.2px">NC</text>
<text transform="translate(666.30,905.50) scale(1.18,1) rotate(-45)" font-size="14.0" text-anchor="end" style="stroke-width:.2px">OE</text>
</g>
<g>
<path d="M760.70,888.30 V831.60 H778.70 V888.30" fill="none" stroke="#4a94a4" stroke-width="1.5"/>
<circle cx="763.72" cy="831.60" r="1.0" fill="#4a94a4"/>
<circle cx="769.69" cy="831.20" r="1.0" fill="#4a94a4"/>
<circle cx="775.67" cy="831.60" r="1.0" fill="#4a94a4"/>
<path d="M789.60,888.30 V804.70 H807.50 V888.30" fill="none" stroke="#e2b163" stroke-width="1.5"/>
<line x1="798.55" y1="801.13" x2="798.55" y2="806.71" stroke="#e2b163" stroke-width="0.9"/>
<line x1="795.35" y1="801.13" x2="801.75" y2="801.13" stroke="#e2b163" stroke-width="0.9"/>
<line x1="795.35" y1="806.71" x2="801.75" y2="806.71" stroke="#e2b163" stroke-width="0.9"/>
<circle cx="798.57" cy="801.13" r="1.45" fill="#e2b163"/>
<circle cx="795.18" cy="805.71" r="1.45" fill="#e2b163"/>
<circle cx="801.55" cy="805.31" r="1.45" fill="#e2b163"/>
<line x1="750.40" y1="792.58" x2="750.40" y2="888.92" stroke="#000" stroke-width="1.25"/>
<line x1="749.77" y1="888.30" x2="818.50" y2="888.30" stroke="#000" stroke-width="1.25"/>
<line x1="746.80" y1="793.20" x2="750.40" y2="793.20" stroke="#000" stroke-width="1.25"/>
<text x="745.60" y="795.83" font-size="7.30" text-anchor="end" font-weight="bold">10</text>
<line x1="746.80" y1="812.22" x2="750.40" y2="812.22" stroke="#000" stroke-width="1.25"/>
<text x="745.60" y="814.85" font-size="7.30" text-anchor="end" font-weight="bold">8</text>
<line x1="746.80" y1="831.24" x2="750.40" y2="831.24" stroke="#000" stroke-width="1.25"/>
<text x="745.60" y="833.87" font-size="7.30" text-anchor="end" font-weight="bold">6</text>
<line x1="746.80" y1="850.26" x2="750.40" y2="850.26" stroke="#000" stroke-width="1.25"/>
<text x="745.60" y="852.89" font-size="7.30" text-anchor="end" font-weight="bold">4</text>
<line x1="746.80" y1="869.28" x2="750.40" y2="869.28" stroke="#000" stroke-width="1.25"/>
<text x="745.60" y="871.91" font-size="7.30" text-anchor="end" font-weight="bold">2</text>
<line x1="746.80" y1="888.30" x2="750.40" y2="888.30" stroke="#000" stroke-width="1.25"/>
<text x="745.60" y="890.93" font-size="7.30" text-anchor="end" font-weight="bold">0</text>
<line x1="769.70" y1="888.30" x2="769.70" y2="892.10" stroke="#000" stroke-width="1.25"/>
<line x1="798.55" y1="888.30" x2="798.55" y2="892.10" stroke="#000" stroke-width="1.25"/>
<line x1="769.70" y1="789.80" x2="798.60" y2="789.80" stroke="#000" stroke-width="1.25"/>
<text x="784.15" y="789.60" font-size="11.50" text-anchor="middle" font-weight="bold">****</text>
<text transform="translate(730.90,823.10) rotate(-90)" font-size="14.44" text-anchor="middle">Melanin contents (OD)</text>
<text transform="translate(777.20,904.50) scale(1.18,1) rotate(-45)" font-size="14.0" text-anchor="end" style="stroke-width:.2px">NC</text>
<text transform="translate(809.00,904.20) scale(1.18,1) rotate(-45)" font-size="14.0" text-anchor="end" style="stroke-width:.2px">OE</text>
</g>
</svg>
</body></html>
